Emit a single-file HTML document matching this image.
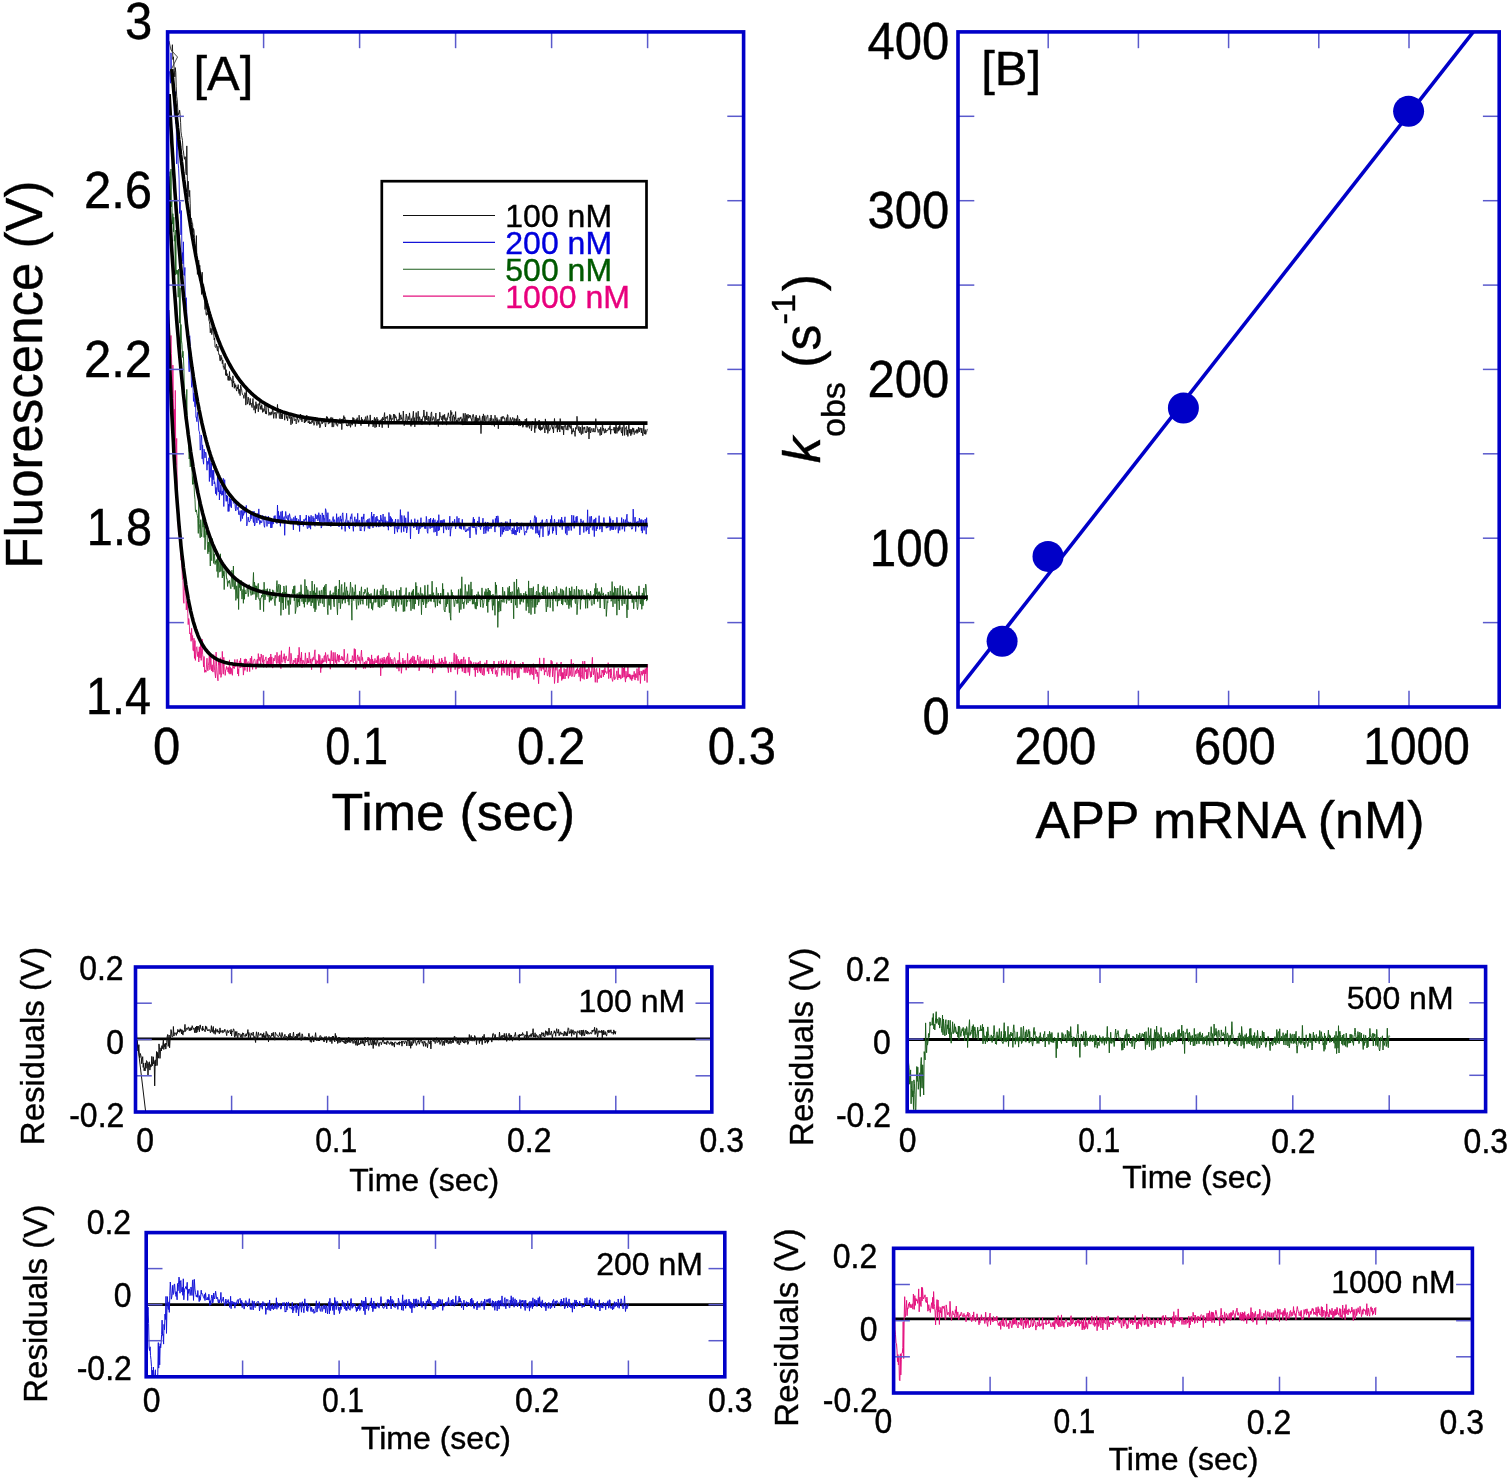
<!DOCTYPE html><html><head><meta charset="utf-8"><title>Figure</title><style>html,body{margin:0;padding:0;background:#fff;}svg{display:block;}</style></head><body><svg width="1509" height="1481" viewBox="0 0 1509 1481" font-family="'Liberation Sans', Arial, sans-serif"><rect width="1509" height="1481" fill="#fff"/><defs><clipPath id="cA"><rect x="167.6" y="31.9" width="576.0" height="675.1"/></clipPath><clipPath id="cB"><rect x="958.0" y="31.9" width="541.2" height="675.1"/></clipPath><clipPath id="cR100"><rect x="135.5" y="967.0" width="576.3" height="145.0"/></clipPath><clipPath id="cR500"><rect x="907.2" y="966.6" width="578.3999999999999" height="144.9999999999999"/></clipPath><clipPath id="cR200"><rect x="146.2" y="1232.6" width="578.5999999999999" height="144.20000000000005"/></clipPath><clipPath id="cR1000"><rect x="893.6" y="1248.3" width="578.8000000000001" height="144.70000000000005"/></clipPath></defs><g clip-path="url(#cA)"><path d="M171.9 51.6l0.5 -6.9l0.5 14.8l0.5 -2.7l0.4 7.0l0.5 6.7l0.5 6.4l0.5 -9.3l0.5 5.1l0.4 13.6l0.5 10.1l0.5 3.4l0.5 8.1l0.5 7.2l0.4 -1.8l0.5 0.3l0.5 -3.4l0.5 4.6l0.5 7.6l0.4 9.4l0.5 3.6l0.5 2.3l0.5 2.8l0.5 9.6l0.4 0.8l0.5 4.5l0.5 3.9l0.5 -2.6l0.5 0.2l0.4 14.9l0.5 3.1l0.5 -29.0l0.5 30.2l0.5 23.7l0.4 -18.6l0.5 8.0l0.5 7.6l0.5 -6.4l0.5 13.4l0.4 16.5l0.5 -2.4l0.5 1.7l0.5 3.5l0.5 0.2l0.4 9.9l0.5 -4.7l0.5 1.7l0.5 7.4l0.5 9.4l0.4 -0.8l0.5 6.0l0.5 -16.6l0.5 27.1l0.5 11.7l0.4 -4.2l0.5 -9.1l0.5 -0.8l0.5 11.4l0.5 -6.3l0.4 15.6l0.5 -6.2l0.5 13.9l0.5 5.8l0.5 -22.3l0.4 19.8l0.5 -4.7l0.5 -2.7l0.5 8.2l0.5 5.2l0.4 11.5l0.5 -16.6l0.5 21.1l0.5 1.3l0.5 -2.8l0.4 1.9l0.5 0.1l0.5 -2.1l0.5 7.8l0.5 1.4l0.4 3.0l0.5 8.2l0.5 -4.6l0.5 0.8l0.5 5.6l0.4 -8.3l0.5 2.4l0.5 4.3l0.5 0.7l0.5 6.2l0.4 -1.9l0.5 8.7l0.5 0.8l0.5 -1.1l0.5 -2.4l0.4 4.9l0.5 2.2l0.5 -5.0l0.5 6.3l0.5 2.6l0.4 -0.3l0.5 6.0l0.5 0.1l0.5 -5.7l0.5 4.5l0.4 -2.0l0.5 6.1l0.5 -3.8l0.5 7.3l0.5 -0.7l0.4 3.0l0.5 -2.7l0.5 -3.5l0.5 12.0l0.5 -5.6l0.4 6.2l0.5 -2.3l0.5 1.8l0.5 4.9l0.5 -4.3l0.4 4.5l0.5 -9.0l0.5 8.9l0.5 -3.0l0.5 1.2l0.4 1.3l0.5 1.9l0.5 5.3l0.5 -11.3l0.5 7.2l0.4 -1.9l0.5 7.2l0.5 -4.8l0.5 3.7l0.5 -2.3l0.4 4.3l0.5 1.9l0.5 -4.2l0.5 2.1l0.5 -4.4l0.4 6.5l0.5 2.5l0.5 -4.3l0.5 6.3l0.5 -10.4l0.4 1.3l0.5 2.1l0.5 3.7l0.5 2.2l0.5 0.2l0.4 0.5l0.5 3.2l0.5 -3.6l0.5 -2.2l0.5 0.5l0.4 12.0l0.5 -14.9l0.5 7.9l0.5 6.1l0.5 -3.0l0.4 -4.1l0.5 3.3l0.5 3.3l0.5 1.5l0.5 -6.8l0.4 6.0l0.5 -1.4l0.5 3.3l0.5 1.3l0.5 -5.6l0.4 -3.5l0.5 6.6l0.5 5.1l0.5 -3.5l0.5 -1.2l0.4 7.7l0.5 -11.5l0.5 6.9l0.5 -4.8l0.5 2.4l0.4 0.4l0.5 5.2l0.5 -8.2l0.5 1.7l0.5 -3.4l0.4 7.4l0.5 -3.0l0.5 3.2l0.5 -4.8l0.5 2.7l0.4 5.0l0.5 -3.9l0.5 3.0l0.5 -0.1l0.5 -2.8l0.4 -3.9l0.5 9.0l0.5 -2.6l0.5 3.0l0.5 -10.0l0.4 1.4l0.5 -1.5l0.5 4.6l0.5 6.8l0.5 -1.4l0.4 -1.9l0.5 0.8l0.5 2.3l0.5 -3.4l0.5 2.6l0.4 -0.7l0.5 -7.8l0.5 6.3l0.5 6.2l0.5 -5.8l0.4 1.0l0.5 -1.4l0.5 0.6l0.5 5.6l0.5 -4.6l0.4 -2.4l0.5 -7.0l0.5 8.9l0.5 -4.7l0.5 0.7l0.4 9.1l0.5 -0.1l0.5 -8.9l0.5 9.6l0.5 -1.2l0.4 -4.1l0.5 5.3l0.5 -7.9l0.5 1.6l0.5 -0.7l0.4 1.2l0.5 7.0l0.5 -7.5l0.5 0.8l0.5 0.8l0.4 4.0l0.5 -1.7l0.5 4.2l0.5 -5.3l0.5 -1.8l0.4 2.8l0.5 1.9l0.5 -3.2l0.5 4.2l0.5 5.4l0.4 -8.1l0.5 2.2l0.5 4.6l0.5 -6.8l0.5 -0.6l0.4 -0.8l0.5 5.2l0.5 0.5l0.5 -2.2l0.5 0.8l0.4 4.3l0.5 -1.4l0.5 -7.7l0.5 4.9l0.5 0.5l0.4 2.1l0.5 -3.1l0.5 -1.4l0.5 0.7l0.5 -4.5l0.4 6.1l0.5 -1.9l0.5 3.7l0.5 -5.0l0.5 2.0l0.4 -1.8l0.5 -0.2l0.5 6.1l0.5 -3.9l0.5 3.1l0.4 -5.3l0.5 4.3l0.5 -6.1l0.5 4.2l0.5 -0.0l0.4 3.7l0.5 -1.3l0.5 -1.2l0.5 3.5l0.5 -2.1l0.4 1.2l0.5 0.8l0.5 -2.8l0.5 -0.7l0.5 2.1l0.4 -2.5l0.5 2.8l0.5 2.5l0.5 -0.8l0.5 -4.2l0.4 -3.1l0.5 4.3l0.5 -0.2l0.5 4.2l0.5 -5.1l0.4 0.7l0.5 3.2l0.5 -4.1l0.5 1.1l0.5 6.5l0.4 -0.8l0.5 -2.9l0.5 -1.2l0.5 -4.2l0.5 5.2l0.4 -1.7l0.5 0.6l0.5 -2.5l0.5 1.7l0.5 -0.5l0.4 1.7l0.5 3.8l0.5 -3.6l0.5 -6.9l0.5 2.3l0.4 -2.0l0.5 2.7l0.5 4.6l0.5 -0.5l0.5 -3.4l0.4 2.9l0.5 -3.5l0.5 -2.2l0.5 0.0l0.5 1.9l0.4 7.8l0.5 -9.4l0.5 8.8l0.5 0.3l0.5 -5.1l0.4 0.4l0.5 -1.9l0.5 2.0l0.5 2.3l0.5 -2.2l0.4 3.4l0.5 0.6l0.5 -2.8l0.5 -0.1l0.5 -1.3l0.4 1.4l0.5 -5.0l0.5 5.2l0.5 -0.7l0.5 -3.7l0.4 10.3l0.5 -10.7l0.5 0.4l0.5 3.9l0.5 -7.6l0.4 3.9l0.5 -2.5l0.5 1.9l0.5 2.9l0.5 1.5l0.4 2.7l0.5 -1.1l0.5 1.3l0.5 -2.0l0.5 -3.7l0.4 5.4l0.5 -5.4l0.5 -0.5l0.5 7.3l0.5 -2.5l0.4 -2.0l0.5 1.8l0.5 0.4l0.5 -7.6l0.5 4.3l0.4 -3.7l0.5 4.4l0.5 -2.7l0.5 6.9l0.5 -2.9l0.4 -4.6l0.5 2.7l0.5 -4.1l0.5 4.3l0.5 1.7l0.4 -1.0l0.5 -7.5l0.5 5.4l0.5 2.9l0.5 -0.7l0.4 2.9l0.5 -8.4l0.5 6.1l0.5 -4.0l0.5 2.9l0.4 0.7l0.5 0.9l0.5 -4.4l0.5 2.6l0.5 -4.7l0.4 -0.8l0.5 6.7l0.5 -2.2l0.5 -5.4l0.5 2.6l0.4 3.0l0.5 5.2l0.5 -1.8l0.5 -0.9l0.5 -8.9l0.4 5.8l0.5 1.9l0.5 -0.3l0.5 0.0l0.5 -2.2l0.4 6.7l0.5 -1.0l0.5 -5.4l0.5 -3.1l0.5 10.4l0.4 -9.0l0.5 6.0l0.5 2.4l0.5 -9.9l0.5 4.2l0.4 -2.2l0.5 2.9l0.5 -0.7l0.5 5.5l0.5 -4.7l0.4 -2.1l0.5 3.9l0.5 -4.8l0.5 -0.4l0.5 8.9l0.4 -10.5l0.5 1.1l0.5 1.7l0.5 -3.8l0.5 -3.6l0.4 10.8l0.5 -6.4l0.5 0.8l0.5 0.6l0.5 -2.1l0.4 -0.4l0.5 4.2l0.5 7.6l0.5 -5.7l0.5 0.0l0.4 -7.7l0.5 5.0l0.5 -4.0l0.5 6.7l0.5 -3.5l0.4 0.9l0.5 -0.4l0.5 -1.7l0.5 -3.3l0.5 7.2l0.4 -6.7l0.5 0.6l0.5 3.0l0.5 -1.4l0.5 3.3l0.4 2.6l0.5 -2.6l0.5 -0.2l0.5 -0.6l0.5 2.8l0.4 -9.2l0.5 7.5l0.5 -4.4l0.5 -1.1l0.5 4.3l0.4 -1.4l0.5 3.3l0.5 1.8l0.5 -11.8l0.5 7.8l0.4 6.9l0.5 -3.7l0.5 1.9l0.5 -4.6l0.5 -5.3l0.4 1.1l0.5 6.3l0.5 0.8l0.5 -5.8l0.5 1.6l0.4 1.8l0.5 -6.9l0.5 4.8l0.5 6.7l0.5 2.0l0.4 -7.9l0.5 6.7l0.5 -8.1l0.5 -1.0l0.5 -4.9l0.4 10.9l0.5 -4.5l0.5 9.3l0.5 -6.9l0.5 -0.5l0.4 -6.9l0.5 11.4l0.5 -6.4l0.5 0.6l0.5 -7.0l0.4 10.8l0.5 0.2l0.5 -5.5l0.5 2.4l0.5 1.0l0.4 2.0l0.5 -3.0l0.5 5.5l0.5 -6.7l0.5 -1.2l0.4 0.4l0.5 -7.1l0.5 5.9l0.5 6.3l0.5 -2.6l0.4 -3.7l0.5 4.0l0.5 -8.1l0.5 5.9l0.5 2.8l0.4 0.6l0.5 -5.1l0.5 5.8l0.5 3.3l0.5 -7.9l0.4 4.0l0.5 -7.9l0.5 -1.4l0.5 8.8l0.5 -1.9l0.4 0.5l0.5 -2.7l0.5 1.0l0.5 3.8l0.5 3.1l0.4 -6.6l0.5 -4.9l0.5 10.0l0.5 -2.3l0.5 0.2l0.4 -1.7l0.5 7.4l0.5 -7.7l0.5 1.5l0.5 -8.2l0.4 4.4l0.5 -0.4l0.5 2.3l0.5 1.3l0.5 -3.8l0.4 8.5l0.5 -9.6l0.5 2.1l0.5 2.4l0.5 -5.1l0.4 6.2l0.5 0.2l0.5 -3.1l0.5 7.5l0.5 -6.3l0.4 0.7l0.5 -4.2l0.5 -2.5l0.5 3.6l0.5 1.0l0.4 -0.4l0.5 4.2l0.5 -10.8l0.5 4.3l0.5 -2.4l0.4 10.8l0.5 -6.5l0.5 0.2l0.5 -2.0l0.5 6.8l0.4 -4.5l0.5 2.2l0.5 -7.7l0.5 11.0l0.5 -2.7l0.4 0.5l0.5 2.4l0.5 -4.9l0.5 0.1l0.5 3.0l0.4 -1.0l0.5 -2.3l0.5 1.0l0.5 -1.8l0.5 4.2l0.4 0.7l0.5 -3.1l0.5 6.4l0.5 -11.7l0.5 4.5l0.4 6.7l0.5 -7.3l0.5 -4.1l0.5 10.3l0.5 -2.9l0.4 -5.9l0.5 6.7l0.5 -6.1l0.5 -1.1l0.5 4.1l0.4 -1.1l0.5 -2.1l0.5 2.5l0.5 -2.1l0.5 3.6l0.4 -0.2l0.5 2.6l0.5 -4.1l0.5 -2.9l0.5 0.0l0.4 3.7l0.5 6.2l0.5 -2.4l0.5 -5.1l0.5 5.5l0.4 -7.2l0.5 7.5l0.5 -4.8l0.5 4.0l0.5 -0.5l0.4 -3.0l0.5 2.1l0.5 -4.8l0.5 3.5l0.5 4.0l0.4 10.4l0.5 -11.7l0.5 -2.1l0.5 -3.7l0.5 7.1l0.4 -9.3l0.5 3.0l0.5 4.0l0.5 -5.3l0.5 9.4l0.4 -1.5l0.5 -5.7l0.5 0.1l0.5 -2.6l0.5 -0.2l0.4 6.3l0.5 0.7l0.5 -0.9l0.5 -0.3l0.5 -2.8l0.4 3.2l0.5 -6.3l0.5 5.2l0.5 5.0l0.5 -0.5l0.4 -6.1l0.5 0.5l0.5 5.9l0.5 1.5l0.5 -11.3l0.4 3.7l0.5 2.3l0.5 3.4l0.5 -7.0l0.5 5.1l0.4 -3.2l0.5 9.3l0.5 -6.7l0.5 -1.9l0.5 -0.6l0.4 4.8l0.5 -1.2l0.5 -6.1l0.5 4.6l0.5 -5.3l0.4 2.0l0.5 -1.8l0.5 -0.0l0.5 2.2l0.5 -1.0l0.4 5.3l0.5 1.0l0.5 -3.5l0.5 -3.0l0.5 6.7l0.4 -9.7l0.5 0.4l0.5 9.2l0.5 -0.2l0.5 1.1l0.4 -4.0l0.5 -3.6l0.5 2.7l0.5 3.8l0.5 -4.6l0.4 0.3l0.5 -2.3l0.5 0.8l0.5 7.0l0.5 -1.3l0.4 -5.5l0.5 0.4l0.5 1.8l0.5 3.9l0.5 -5.9l0.4 3.5l0.5 -6.7l0.5 3.1l0.5 5.9l0.5 1.7l0.4 -7.1l0.5 1.4l0.5 5.5l0.5 -4.0l0.5 -0.5l0.4 3.7l0.5 -1.0l0.5 3.2l0.5 -1.1l0.5 -4.6l0.4 1.6l0.5 0.3l0.5 -4.4l0.5 1.3l0.5 6.8l0.4 -8.8l0.5 9.0l0.5 -2.4l0.5 -1.4l0.5 2.4l0.4 -0.2l0.5 2.6l0.5 -5.5l0.5 0.6l0.5 0.0l0.4 7.4l0.5 -3.2l0.5 -6.3l0.5 2.0l0.5 -1.2l0.4 2.5l0.5 0.8l0.5 7.2l0.5 -14.2l0.5 9.9l0.4 -2.0l0.5 -3.9l0.5 2.0l0.5 -1.1l0.5 1.9l0.4 3.3l0.5 -8.6l0.5 9.8l0.5 -5.8l0.5 6.5l0.4 -3.7l0.5 2.9l0.5 -2.3l0.5 1.9l0.5 -3.5l0.4 -3.0l0.5 5.2l0.5 0.2l0.5 4.8l0.5 -14.1l0.4 6.3l0.5 4.4l0.5 -7.9l0.5 3.5l0.5 8.2l0.4 -2.4l0.5 -7.9l0.5 8.0l0.5 -0.8l0.5 -1.3l0.4 -1.3l0.5 -0.5l0.5 -3.7l0.5 1.2l0.5 4.4l0.4 -2.0l0.5 5.9l0.5 -7.5l0.5 -7.0l0.5 7.1l0.4 2.2l0.5 0.4l0.5 -1.1l0.5 -3.0l0.5 8.0l0.4 -7.4l0.5 4.8l0.5 -3.4l0.5 -3.1l0.5 9.0l0.4 -13.4l0.5 5.7l0.5 4.5l0.5 -2.7l0.5 3.8l0.4 -2.8l0.5 -1.2l0.5 9.0l0.5 -8.1l0.5 0.2l0.4 -3.1l0.5 1.2l0.5 4.8l0.5 -0.3l0.5 -1.9l0.4 -2.3l0.5 4.8l0.5 -8.2l0.5 4.7l0.5 0.3l0.4 -2.0l0.5 3.5l0.5 -2.8l0.5 -0.4l0.5 8.9l0.4 -3.6l0.5 1.6l0.5 -3.9l0.5 3.2l0.5 -0.6l0.4 1.5l0.5 4.0l0.5 -8.9l0.5 1.7l0.5 -1.0l0.4 -11.9l0.5 7.3l0.5 4.9l0.5 2.1l0.5 -4.1l0.4 5.9l0.5 0.5l0.5 -5.8l0.5 6.4l0.5 1.1l0.4 -4.4l0.5 -4.9l0.5 8.4l0.5 -5.5l0.5 -0.8l0.4 1.8l0.5 -2.3l0.5 5.6l0.5 -1.0l0.5 1.5l0.4 -2.1l0.5 -4.7l0.5 2.2l0.5 3.6l0.5 -4.4l0.4 11.4l0.5 -10.8l0.5 -1.2l0.5 6.0l0.5 -1.4l0.4 -2.6l0.5 -0.7l0.5 2.3l0.5 1.4l0.5 -0.2l0.4 -3.6l0.5 2.5l0.5 1.4l0.5 -0.2l0.5 -13.2l0.4 7.5l0.5 0.5l0.5 1.8l0.5 1.5l0.5 2.5l0.4 -1.0l0.5 -2.5l0.5 0.5l0.5 6.0l0.5 -8.1l0.4 3.1l0.5 4.4l0.5 -4.2l0.5 -8.2l0.5 8.3l0.4 -2.6l0.5 1.0l0.5 4.0l0.5 -2.0l0.5 -2.5l0.4 4.0l0.5 -1.6l0.5 -1.1l0.5 0.7l0.5 -0.1l0.4 -2.0l0.5 -0.4l0.5 1.6l0.5 -3.3l0.5 -1.0l0.4 8.7l0.5 -5.2l0.5 0.7l0.5 -0.3l0.5 0.5l0.4 0.0l0.5 0.2l0.5 -3.0l0.5 6.0l0.5 -5.6l0.4 6.0l0.5 -10.1l0.5 2.9l0.5 7.1l0.5 -3.9l0.4 -1.8l0.5 3.6l0.5 -4.9l0.5 3.9l0.5 -7.9l0.4 6.1l0.5 -0.7l0.5 4.1l0.5 1.2l0.5 -5.9l0.4 8.4l0.5 -7.5l0.5 -5.0l0.5 -1.1l0.5 13.4l0.4 -5.5l0.5 -1.9l0.5 -0.4l0.5 -1.1l0.5 8.4l0.4 -5.0l0.5 6.5l0.5 -6.8l0.5 -7.4l0.5 11.0l0.4 -4.2l0.5 0.5l0.5 6.2l0.5 -6.3l0.5 4.9l0.4 -4.0l0.5 -2.5l0.5 4.3l0.5 -3.8l0.5 6.3l0.4 -0.9l0.5 -3.1l0.5 1.9l0.5 -0.2l0.5 -2.8l0.4 4.0l0.5 -3.8l0.5 2.9l0.5 -5.4l0.5 3.6l0.4 1.1l0.5 -4.1l0.5 1.3l0.5 -0.4l0.5 4.3l0.4 -4.9l0.5 3.9l0.5 3.8l0.5 -4.0l0.5 -6.8l0.4 6.0l0.5 3.1l0.5 -4.5l0.5 4.8l0.5 -1.7l0.4 -0.7l0.5 -2.3l0.5 -0.8" fill="none" stroke="#111111" stroke-width="0.9" stroke-linejoin="bevel"/><path d="M169.5 71.3l0.5 6.0l0.5 5.9l0.5 -30.4l0.4 16.0l0.5 2.4l0.5 12.6l0.5 2.7l0.5 5.1l0.4 -4.4l0.5 29.8l0.5 -0.8l0.5 -24.7l0.5 32.1l0.4 -11.6l0.5 51.9l0.5 -26.1l0.5 9.5l0.5 16.5l0.4 4.4l0.5 10.9l0.5 34.3l0.5 -11.6l0.5 19.1l0.4 14.0l0.5 -24.3l0.5 50.4l0.5 -8.4l0.5 11.3l0.4 -22.1l0.5 33.2l0.5 0.4l0.5 -7.9l0.5 52.5l0.4 -18.5l0.5 -3.8l0.5 15.8l0.5 20.0l0.5 11.4l0.4 -1.3l0.5 17.2l0.5 11.0l0.5 -36.2l0.5 17.8l0.4 -1.8l0.5 20.3l0.5 15.4l0.5 -1.7l0.5 -9.0l0.4 10.2l0.5 14.6l0.5 -8.4l0.5 7.2l0.5 6.7l0.4 -13.4l0.5 23.9l0.5 -0.4l0.5 4.7l0.5 -9.4l0.4 4.5l0.5 4.1l0.5 9.4l0.5 1.2l0.5 3.0l0.4 15.6l0.5 -1.4l0.5 -13.7l0.5 2.8l0.5 21.0l0.4 -13.9l0.5 15.5l0.5 3.8l0.5 -15.0l0.5 4.1l0.4 4.6l0.5 -5.8l0.5 0.7l0.5 6.1l0.5 11.3l0.4 -8.9l0.5 3.2l0.5 -0.8l0.5 -5.9l0.5 23.7l0.4 -29.1l0.5 14.4l0.5 10.6l0.5 -14.4l0.5 16.8l0.4 6.1l0.5 -15.7l0.5 9.5l0.5 -9.5l0.5 13.8l0.4 -2.3l0.5 1.9l0.5 10.1l0.5 -6.2l0.5 7.8l0.4 -4.8l0.5 -13.7l0.5 12.4l0.5 2.6l0.5 -14.5l0.4 22.7l0.5 -9.3l0.5 3.2l0.5 -9.3l0.5 8.3l0.4 2.5l0.5 -4.3l0.5 3.9l0.5 -16.7l0.5 28.2l0.4 -19.0l0.5 -7.8l0.5 10.3l0.5 4.2l0.5 7.1l0.4 -6.3l0.5 6.2l0.5 -5.3l0.5 15.6l0.5 -7.4l0.4 7.3l0.5 -13.6l0.5 8.5l0.5 -7.2l0.5 7.8l0.4 0.9l0.5 -10.3l0.5 2.6l0.5 0.3l0.5 -1.1l0.4 4.1l0.5 -0.7l0.5 -1.9l0.5 7.7l0.5 2.5l0.4 -8.4l0.5 4.0l0.5 3.0l0.5 -0.8l0.5 -1.9l0.4 7.5l0.5 0.6l0.5 -0.5l0.5 -3.9l0.5 10.7l0.4 -0.9l0.5 -9.9l0.5 1.7l0.5 6.4l0.5 -9.1l0.4 5.9l0.5 -1.4l0.5 -3.3l0.5 2.4l0.5 -6.1l0.4 5.1l0.5 -6.7l0.5 20.5l0.5 -3.4l0.5 -1.2l0.4 -4.2l0.5 3.5l0.5 1.5l0.5 -1.0l0.5 -0.3l0.4 -8.5l0.5 6.5l0.5 -4.4l0.5 -2.9l0.5 0.3l0.4 7.6l0.5 3.1l0.5 -11.4l0.5 14.9l0.5 -1.1l0.4 -8.7l0.5 -0.3l0.5 2.0l0.5 5.1l0.5 -6.4l0.4 -3.3l0.5 7.0l0.5 -11.4l0.5 10.6l0.5 4.9l0.4 -4.0l0.5 2.4l0.5 -1.3l0.5 1.2l0.5 -2.7l0.4 -4.6l0.5 3.0l0.5 0.7l0.5 6.4l0.5 1.8l0.4 -5.7l0.5 -5.5l0.5 0.1l0.5 2.6l0.5 7.6l0.4 -5.0l0.5 -1.9l0.5 -3.3l0.5 7.8l0.5 -2.8l0.4 -1.6l0.5 0.7l0.5 7.6l0.5 -8.8l0.5 8.8l0.4 -2.1l0.5 -5.7l0.5 4.0l0.5 -4.8l0.5 -3.4l0.4 2.7l0.5 -3.1l0.5 6.8l0.5 -2.4l0.5 2.6l0.4 1.2l0.5 -18.7l0.5 16.3l0.5 -10.0l0.5 9.3l0.4 -4.9l0.5 4.6l0.5 6.0l0.5 -14.6l0.5 9.1l0.4 -1.3l0.5 -8.6l0.5 12.1l0.5 -2.9l0.5 -2.6l0.4 -0.9l0.5 18.7l0.5 -17.1l0.5 -6.7l0.5 4.1l0.4 2.7l0.5 -0.0l0.5 1.4l0.5 -4.5l0.5 7.5l0.4 -4.8l0.5 -4.2l0.5 2.6l0.5 2.1l0.5 5.8l0.4 -1.7l0.5 -3.9l0.5 1.7l0.5 1.0l0.5 8.6l0.4 -12.6l0.5 5.2l0.5 1.2l0.5 -7.9l0.5 5.4l0.4 -0.1l0.5 -3.0l0.5 4.9l0.5 2.2l0.5 0.5l0.4 -6.3l0.5 1.8l0.5 10.3l0.5 -16.4l0.5 6.3l0.4 3.2l0.5 -3.5l0.5 2.4l0.5 -2.3l0.5 2.7l0.4 2.5l0.5 -7.1l0.5 2.0l0.5 -1.2l0.5 -1.6l0.4 1.8l0.5 -5.3l0.5 8.9l0.5 4.6l0.5 -0.0l0.4 -2.1l0.5 -10.6l0.5 11.8l0.5 -10.6l0.5 3.2l0.4 9.0l0.5 -13.9l0.5 9.1l0.5 -2.6l0.5 -2.1l0.4 -3.4l0.5 6.1l0.5 -4.2l0.5 7.2l0.5 0.9l0.4 -12.4l0.5 4.2l0.5 0.9l0.5 -4.1l0.5 0.3l0.4 5.7l0.5 -1.4l0.5 -6.8l0.5 5.3l0.5 5.0l0.4 -8.2l0.5 1.4l0.5 11.9l0.5 -1.3l0.5 -13.9l0.4 1.3l0.5 8.2l0.5 -7.4l0.5 4.4l0.5 -0.9l0.4 4.8l0.5 -14.6l0.5 1.5l0.5 4.7l0.5 10.6l0.4 -5.5l0.5 -7.3l0.5 10.4l0.5 1.1l0.5 -4.5l0.4 -0.4l0.5 3.6l0.5 3.7l0.5 -5.0l0.5 1.9l0.4 -2.8l0.5 -1.5l0.5 -2.6l0.5 5.6l0.5 -2.6l0.4 0.3l0.5 5.6l0.5 -2.1l0.5 1.9l0.5 -11.6l0.4 10.1l0.5 -5.4l0.5 -1.0l0.5 -0.2l0.5 9.8l0.4 -1.8l0.5 -7.3l0.5 -2.0l0.5 5.5l0.5 -2.2l0.4 10.1l0.5 -14.8l0.5 -1.7l0.5 7.5l0.5 1.3l0.4 0.6l0.5 2.9l0.5 6.3l0.5 -11.4l0.5 -1.0l0.4 -5.7l0.5 9.5l0.5 3.0l0.5 -5.3l0.5 6.9l0.4 -5.5l0.5 7.1l0.5 -5.6l0.5 -6.6l0.5 2.1l0.4 -4.3l0.5 -0.9l0.5 9.5l0.5 2.9l0.5 5.2l0.4 -9.5l0.5 -0.9l0.5 -4.1l0.5 10.0l0.5 -2.9l0.4 -4.6l0.5 6.1l0.5 -0.6l0.5 -11.5l0.5 12.4l0.4 -2.8l0.5 -2.5l0.5 -0.1l0.5 10.3l0.5 -1.0l0.4 1.4l0.5 -14.1l0.5 2.3l0.5 7.5l0.5 -10.0l0.4 2.3l0.5 -5.1l0.5 17.3l0.5 -3.7l0.5 -2.8l0.4 -1.2l0.5 -3.0l0.5 0.2l0.5 4.8l0.5 -6.3l0.4 9.2l0.5 -8.1l0.5 -1.8l0.5 10.3l0.5 -6.8l0.4 3.3l0.5 -4.6l0.5 -8.7l0.5 13.3l0.5 -8.9l0.4 11.5l0.5 -12.5l0.5 -1.4l0.5 10.3l0.5 0.6l0.4 -1.5l0.5 -6.3l0.5 10.0l0.5 -11.1l0.5 4.7l0.4 -1.5l0.5 2.0l0.5 5.9l0.5 -7.1l0.5 5.7l0.4 0.7l0.5 -11.4l0.5 2.6l0.5 3.7l0.5 -1.0l0.4 4.3l0.5 -10.6l0.5 12.6l0.5 0.1l0.5 -4.3l0.4 -5.7l0.5 6.6l0.5 -2.6l0.5 5.3l0.5 -3.1l0.4 3.9l0.5 -5.5l0.5 8.9l0.5 -17.7l0.5 6.1l0.4 7.2l0.5 -9.5l0.5 10.7l0.5 -9.3l0.5 6.2l0.4 -4.7l0.5 2.2l0.5 3.0l0.5 -1.3l0.5 -1.3l0.4 12.0l0.5 -10.1l0.5 -4.7l0.5 9.1l0.5 -0.5l0.4 1.9l0.5 2.7l0.5 -12.9l0.5 9.5l0.5 0.4l0.4 -5.4l0.5 1.2l0.5 -15.4l0.5 11.5l0.5 11.3l0.4 -17.0l0.5 6.0l0.5 3.9l0.5 1.4l0.5 5.0l0.4 -16.1l0.5 8.6l0.5 3.9l0.5 -10.3l0.5 6.1l0.4 9.1l0.5 -2.7l0.5 -3.6l0.5 -15.0l0.5 11.8l0.4 2.5l0.5 -3.3l0.5 1.2l0.5 14.9l0.5 -15.6l0.4 -3.6l0.5 5.8l0.5 -2.6l0.5 0.0l0.5 1.1l0.4 4.1l0.5 -2.5l0.5 -6.8l0.5 5.1l0.5 2.9l0.4 -4.5l0.5 7.7l0.5 -1.7l0.5 -8.4l0.5 6.2l0.4 7.9l0.5 -2.0l0.5 -7.6l0.5 4.5l0.5 -7.4l0.4 -3.7l0.5 9.6l0.5 -1.5l0.5 1.3l0.5 -2.5l0.4 1.7l0.5 -4.0l0.5 4.7l0.5 1.7l0.5 -4.2l0.4 4.2l0.5 -12.3l0.5 4.7l0.5 10.6l0.5 1.6l0.4 -7.2l0.5 -1.6l0.5 -5.5l0.5 7.7l0.5 2.0l0.4 -10.7l0.5 9.7l0.5 -0.3l0.5 -0.2l0.5 -7.4l0.4 7.9l0.5 -9.6l0.5 14.2l0.5 -6.4l0.5 -6.2l0.4 12.0l0.5 -0.9l0.5 -8.6l0.5 13.6l0.5 -15.2l0.4 6.3l0.5 4.1l0.5 -16.3l0.5 15.5l0.5 -5.0l0.4 0.2l0.5 -5.0l0.5 6.7l0.5 -6.8l0.5 0.7l0.4 2.5l0.5 -3.7l0.5 13.3l0.5 -13.7l0.5 2.7l0.4 2.1l0.5 1.6l0.5 3.7l0.5 0.2l0.5 -5.3l0.4 -0.4l0.5 2.0l0.5 3.8l0.5 -0.6l0.5 -5.7l0.4 -7.3l0.5 20.0l0.5 -5.7l0.5 -3.2l0.5 0.4l0.4 -4.1l0.5 -2.3l0.5 3.2l0.5 0.6l0.5 -1.9l0.4 -4.0l0.5 5.5l0.5 4.2l0.5 -5.0l0.5 2.4l0.4 -9.9l0.5 8.9l0.5 0.4l0.5 -5.2l0.5 -2.4l0.4 10.2l0.5 -5.8l0.5 6.2l0.5 -4.3l0.5 4.9l0.4 -4.5l0.5 -5.5l0.5 6.7l0.5 -1.1l0.5 4.7l0.4 -5.3l0.5 0.3l0.5 6.0l0.5 1.4l0.5 -1.9l0.4 1.3l0.5 -2.7l0.5 1.5l0.5 0.5l0.5 -2.3l0.4 -1.6l0.5 0.4l0.5 10.8l0.5 -11.4l0.5 -1.2l0.4 -0.6l0.5 1.6l0.5 1.3l0.5 -6.5l0.5 -4.0l0.4 10.8l0.5 -9.0l0.5 8.8l0.5 -0.6l0.5 4.9l0.4 2.4l0.5 -6.2l0.5 -4.4l0.5 -2.9l0.5 1.8l0.4 4.0l0.5 -10.0l0.5 10.1l0.5 -0.4l0.5 3.1l0.4 -4.6l0.5 2.1l0.5 -4.0l0.5 1.3l0.5 -6.2l0.4 9.0l0.5 6.7l0.5 -6.6l0.5 1.0l0.5 -6.4l0.4 11.5l0.5 -10.5l0.5 7.5l0.5 -3.3l0.5 -5.1l0.4 9.4l0.5 -4.8l0.5 0.8l0.5 1.3l0.5 -2.3l0.4 -1.7l0.5 4.0l0.5 -4.1l0.5 2.2l0.5 -3.4l0.4 -3.9l0.5 3.8l0.5 0.9l0.5 2.4l0.5 5.5l0.4 -13.6l0.5 8.6l0.5 -11.1l0.5 5.5l0.5 2.6l0.4 -8.3l0.5 1.9l0.5 9.5l0.5 -0.3l0.5 -1.0l0.4 -3.2l0.5 14.0l0.5 -11.0l0.5 -3.3l0.5 12.0l0.4 -5.0l0.5 -4.7l0.5 7.4l0.5 -4.9l0.5 2.3l0.4 -1.9l0.5 -6.0l0.5 9.4l0.5 -3.8l0.5 -5.6l0.4 1.2l0.5 8.2l0.5 -6.3l0.5 1.9l0.5 2.9l0.4 -2.5l0.5 -7.9l0.5 10.3l0.5 1.4l0.5 -0.3l0.4 3.6l0.5 -6.0l0.5 2.0l0.5 3.8l0.5 -8.9l0.4 9.6l0.5 -0.0l0.5 -4.5l0.5 5.0l0.5 -4.7l0.4 -8.3l0.5 9.6l0.5 -3.8l0.5 0.4l0.5 -1.3l0.4 5.8l0.5 -3.9l0.5 -5.9l0.5 5.6l0.5 1.1l0.4 -6.9l0.5 1.4l0.5 0.2l0.5 -1.0l0.5 4.5l0.4 3.2l0.5 4.1l0.5 -3.3l0.5 -0.8l0.5 0.6l0.4 0.9l0.5 -8.2l0.5 5.1l0.5 -1.8l0.5 -2.1l0.4 -1.6l0.5 -0.2l0.5 1.1l0.5 -4.6l0.5 8.4l0.4 -2.6l0.5 0.6l0.5 1.1l0.5 1.8l0.5 -6.3l0.4 2.3l0.5 -7.1l0.5 -2.9l0.5 1.3l0.5 16.5l0.4 -16.0l0.5 10.9l0.5 4.8l0.5 -9.2l0.5 9.9l0.4 1.0l0.5 -4.3l0.5 6.8l0.5 -8.3l0.5 -6.5l0.4 6.0l0.5 -4.6l0.5 -4.1l0.5 0.1l0.5 17.0l0.4 -13.5l0.5 2.4l0.5 -3.0l0.5 3.8l0.5 -1.8l0.4 -0.9l0.5 -3.8l0.5 -1.0l0.5 3.2l0.5 4.9l0.4 8.5l0.5 -4.9l0.5 3.6l0.5 -6.3l0.5 -2.8l0.4 -5.9l0.5 6.3l0.5 -10.2l0.5 8.8l0.5 9.1l0.4 -6.2l0.5 3.8l0.5 -7.2l0.5 -4.7l0.5 4.2l0.4 0.4l0.5 7.6l0.5 3.6l0.5 -12.9l0.5 1.8l0.4 1.0l0.5 -1.0l0.5 -4.3l0.5 6.4l0.5 1.2l0.4 0.1l0.5 -7.6l0.5 5.2l0.5 -7.7l0.5 12.5l0.4 -9.1l0.5 3.5l0.5 -0.9l0.5 -0.6l0.5 -2.3l0.4 -3.4l0.5 16.6l0.5 -7.0l0.5 0.0l0.5 8.7l0.4 -10.5l0.5 3.1l0.5 -2.5l0.5 5.5l0.5 -3.3l0.4 -0.9l0.5 -2.7l0.5 2.5l0.5 4.2l0.5 -15.4l0.4 9.2l0.5 -1.3l0.5 0.5l0.5 -8.0l0.5 12.9l0.4 -7.5l0.5 2.9l0.5 -1.3l0.5 -5.6l0.5 5.8l0.4 -6.6l0.5 4.2l0.5 3.0l0.5 1.5l0.5 0.2l0.4 -0.9l0.5 10.8l0.5 -8.1l0.5 -7.9l0.5 2.9l0.4 -0.2l0.5 2.3l0.5 -2.1l0.5 -1.2l0.5 11.9l0.4 -7.6l0.5 -1.8l0.5 0.4l0.5 0.1l0.5 7.7l0.4 -4.4l0.5 3.1l0.5 -20.2l0.5 16.4l0.5 3.5l0.4 4.3l0.5 -9.2l0.5 -8.3l0.5 10.9l0.5 -5.6l0.4 -5.7l0.5 5.6l0.5 7.9l0.5 0.7l0.5 -2.2l0.4 -8.4l0.5 16.9l0.5 -17.5l0.5 5.2l0.5 -6.5l0.4 13.1l0.5 -4.1l0.5 2.1l0.5 -3.8l0.5 -0.8l0.4 1.2l0.5 -9.8l0.5 13.7l0.5 -0.4l0.5 -6.2l0.4 1.8l0.5 1.5l0.5 6.0l0.5 -5.4l0.5 -1.8l0.4 -2.7l0.5 -4.7l0.5 4.3l0.5 3.2l0.5 -1.5l0.4 1.5l0.5 3.2l0.5 -1.5l0.5 -0.7l0.5 1.8l0.4 -2.2l0.5 -1.1l0.5 2.4l0.5 -10.4l0.5 14.1l0.4 -12.0l0.5 10.1l0.5 -3.9l0.5 5.2l0.5 -5.1l0.4 -4.7l0.5 9.6l0.5 -4.2l0.5 -0.3l0.5 -0.2l0.4 4.4l0.5 -0.9l0.5 -2.8l0.5 -8.5l0.5 5.5l0.4 2.4l0.5 8.0l0.5 -6.7l0.5 -2.2l0.5 6.1l0.4 -6.2l0.5 0.4l0.5 0.9l0.5 -7.9l0.5 11.7l0.4 -2.6l0.5 -3.3l0.5 -4.1l0.5 6.4l0.5 5.7l0.4 -9.7l0.5 -2.0l0.5 7.0l0.5 -9.5l0.5 -3.0l0.4 8.4l0.5 -1.1l0.5 1.9l0.5 -1.3l0.5 4.2l0.4 -2.6l0.5 -1.8l0.5 0.7l0.5 5.1l0.5 1.6l0.4 -0.3l0.5 -0.9l0.5 -19.0l0.5 10.9l0.5 3.3l0.4 2.4l0.5 -8.6l0.5 14.4l0.5 -5.3l0.5 -4.4l0.4 3.7l0.5 -2.4l0.5 -2.0l0.5 6.1l0.5 -4.6l0.4 -4.5l0.5 3.6l0.5 2.5l0.5 -4.6l0.5 11.1l0.4 -11.1l0.5 13.5l0.5 -4.1l0.5 -8.7l0.5 5.1l0.4 5.0l0.5 -6.5l0.5 -4.8l0.5 6.2l0.5 8.9l0.4 -16.5l0.5 9.7l0.5 -2.6" fill="none" stroke="#1414d8" stroke-width="0.9" stroke-linejoin="bevel"/><path d="M168.1 177.2l0.5 3.0l0.4 24.3l0.5 -5.6l0.5 -27.3l0.5 48.6l0.5 -51.2l0.4 38.0l0.5 -6.0l0.5 23.1l0.5 -10.4l0.5 18.1l0.4 -14.6l0.5 24.0l0.5 -5.7l0.5 39.6l0.5 -45.1l0.4 43.8l0.5 -3.8l0.5 4.5l0.5 -4.3l0.5 27.0l0.4 -28.1l0.5 8.9l0.5 45.1l0.5 -35.3l0.5 61.7l0.4 -25.0l0.5 16.3l0.5 3.5l0.5 13.1l0.5 -6.2l0.4 5.3l0.5 11.6l0.5 29.5l0.5 10.2l0.5 11.6l0.4 -7.8l0.5 -2.1l0.5 -20.1l0.5 41.9l0.5 7.7l0.4 -4.9l0.5 15.7l0.5 9.2l0.5 -5.1l0.5 12.9l0.4 -1.6l0.5 -12.8l0.5 15.1l0.5 4.8l0.5 12.1l0.4 -7.8l0.5 7.5l0.5 -0.7l0.5 11.5l0.5 4.4l0.4 10.9l0.5 1.8l0.5 -2.1l0.5 3.8l0.5 1.9l0.4 3.0l0.5 14.8l0.5 -31.5l0.5 21.8l0.5 5.9l0.4 8.2l0.5 -18.1l0.5 12.6l0.5 4.5l0.5 -10.9l0.4 -12.2l0.5 13.4l0.5 -6.4l0.5 16.8l0.5 -11.3l0.4 23.5l0.5 -12.5l0.5 -6.6l0.5 4.1l0.5 -3.2l0.4 12.6l0.5 9.7l0.5 -11.8l0.5 9.9l0.5 -13.1l0.4 10.7l0.5 16.5l0.5 -27.3l0.5 21.3l0.5 0.7l0.4 -22.3l0.5 4.5l0.5 4.6l0.5 15.9l0.5 -9.6l0.4 3.0l0.5 7.7l0.5 -3.6l0.5 1.8l0.5 -3.2l0.4 12.0l0.5 -13.6l0.5 19.6l0.5 -14.5l0.5 -2.7l0.4 11.9l0.5 -0.6l0.5 -17.8l0.5 17.6l0.5 -11.2l0.4 4.7l0.5 13.1l0.5 -11.9l0.5 10.0l0.5 -4.9l0.4 18.4l0.5 -14.9l0.5 -7.6l0.5 1.2l0.5 2.1l0.4 8.5l0.5 -0.4l0.5 8.0l0.5 -5.5l0.5 0.2l0.4 2.0l0.5 -2.9l0.5 3.7l0.5 4.3l0.5 0.5l0.4 -9.7l0.5 -8.9l0.5 7.8l0.5 8.8l0.5 -20.8l0.4 15.8l0.5 7.5l0.5 -7.3l0.5 -3.9l0.5 22.3l0.4 -2.4l0.5 -12.2l0.5 12.4l0.5 0.1l0.5 -18.2l0.4 29.4l0.5 -27.4l0.5 5.5l0.5 -6.1l0.5 9.2l0.4 -10.4l0.5 10.3l0.5 8.5l0.5 -6.4l0.5 -3.4l0.4 14.0l0.5 -18.4l0.5 14.4l0.5 -9.5l0.5 4.1l0.4 -1.2l0.5 0.9l0.5 -1.2l0.5 -5.4l0.5 1.8l0.4 7.8l0.5 -4.0l0.5 -8.0l0.5 3.7l0.5 0.2l0.4 5.0l0.5 1.9l0.5 -0.6l0.5 -5.5l0.5 5.2l0.4 -10.5l0.5 -11.5l0.5 21.8l0.5 -12.2l0.5 5.5l0.4 -1.9l0.5 14.2l0.5 -14.0l0.5 11.4l0.5 -5.7l0.4 -5.7l0.5 -2.5l0.5 15.7l0.5 -0.5l0.5 3.1l0.4 8.1l0.5 -11.8l0.5 0.1l0.5 -3.0l0.5 1.8l0.4 -3.4l0.5 -4.1l0.5 22.2l0.5 -29.4l0.5 16.2l0.4 1.5l0.5 -2.2l0.5 -8.4l0.5 5.9l0.5 -2.0l0.4 -4.6l0.5 7.9l0.5 -2.7l0.5 -1.1l0.5 9.5l0.4 -13.3l0.5 11.5l0.5 -8.0l0.5 8.0l0.5 -2.7l0.4 1.4l0.5 -9.3l0.5 1.6l0.5 -0.6l0.5 7.9l0.4 4.4l0.5 2.6l0.5 -12.1l0.5 4.5l0.5 -12.9l0.4 -4.6l0.5 10.4l0.5 1.5l0.5 -6.7l0.5 -1.7l0.4 17.6l0.5 -10.2l0.5 -6.6l0.5 30.5l0.5 -16.4l0.4 -3.7l0.5 7.6l0.5 -10.9l0.5 17.9l0.5 -23.9l0.4 1.8l0.5 9.0l0.5 -4.8l0.5 16.6l0.5 -23.0l0.4 6.7l0.5 7.4l0.5 2.4l0.5 3.4l0.5 -5.0l0.4 14.2l0.5 -20.4l0.5 4.9l0.5 5.2l0.5 -8.9l0.4 0.1l0.5 -1.3l0.5 -1.3l0.5 -3.7l0.5 4.4l0.4 -7.6l0.5 14.7l0.5 -15.1l0.5 27.9l0.5 -2.8l0.4 -4.5l0.5 -10.0l0.5 -2.9l0.5 13.8l0.5 -7.9l0.4 2.8l0.5 -9.7l0.5 13.6l0.5 -14.2l0.5 6.9l0.4 -14.0l0.5 8.2l0.5 8.8l0.5 -7.3l0.5 0.0l0.4 9.4l0.5 -6.5l0.5 10.0l0.5 -27.9l0.5 22.7l0.4 -0.4l0.5 -15.7l0.5 1.9l0.5 16.6l0.5 -14.8l0.4 3.2l0.5 9.4l0.5 -7.1l0.5 6.2l0.5 -10.3l0.4 8.9l0.5 6.0l0.5 -5.8l0.5 -19.2l0.5 21.7l0.4 -4.6l0.5 -7.3l0.5 17.5l0.5 -23.9l0.5 27.5l0.4 -19.1l0.5 16.8l0.5 -12.3l0.5 -9.8l0.5 10.8l0.4 1.8l0.5 1.6l0.5 4.0l0.5 -15.0l0.5 10.6l0.4 1.9l0.5 -7.7l0.5 -5.1l0.5 -0.2l0.5 13.0l0.4 0.4l0.5 -12.4l0.5 -3.9l0.5 19.6l0.5 -21.3l0.4 13.0l0.5 -7.3l0.5 -7.3l0.5 14.3l0.5 -2.4l0.4 12.4l0.5 6.4l0.5 -18.8l0.5 9.2l0.5 0.2l0.4 -12.0l0.5 -2.6l0.5 18.9l0.5 -15.1l0.5 2.6l0.4 -2.1l0.5 1.2l0.5 -3.6l0.5 10.3l0.5 3.9l0.4 -12.4l0.5 -7.7l0.5 10.9l0.5 -11.7l0.5 6.4l0.4 14.2l0.5 8.3l0.5 -14.8l0.5 -11.0l0.5 14.0l0.4 -23.0l0.5 11.8l0.5 16.9l0.5 -6.0l0.5 -16.1l0.4 -2.2l0.5 19.2l0.5 -6.9l0.5 -4.2l0.5 7.7l0.4 -7.6l0.5 -10.2l0.5 20.8l0.5 -11.1l0.5 -2.7l0.4 -2.6l0.5 12.1l0.5 -8.1l0.5 10.9l0.5 -6.8l0.4 10.3l0.5 -11.2l0.5 -2.0l0.5 -10.0l0.5 6.6l0.4 13.8l0.5 17.8l0.5 -32.8l0.5 1.6l0.5 10.5l0.4 1.0l0.5 -8.7l0.5 5.7l0.5 -12.8l0.5 9.9l0.4 9.2l0.5 5.5l0.5 -13.7l0.5 -0.7l0.5 5.5l0.4 4.9l0.5 -4.7l0.5 -9.4l0.5 8.4l0.5 4.7l0.4 -12.8l0.5 -4.7l0.5 14.0l0.5 -1.1l0.5 4.6l0.4 -6.7l0.5 -5.6l0.5 1.6l0.5 -4.5l0.5 0.7l0.4 2.9l0.5 0.6l0.5 12.2l0.5 -17.8l0.5 8.9l0.4 -4.1l0.5 15.8l0.5 -9.3l0.5 -4.8l0.5 9.0l0.4 -5.6l0.5 -4.2l0.5 15.3l0.5 -6.2l0.5 7.7l0.4 -4.3l0.5 -2.9l0.5 -4.9l0.5 -9.2l0.5 13.6l0.4 -4.8l0.5 4.6l0.5 -5.2l0.5 -5.1l0.5 -2.4l0.4 12.9l0.5 4.6l0.5 -12.0l0.5 5.6l0.5 7.1l0.4 -16.9l0.5 3.8l0.5 -5.9l0.5 17.5l0.5 -7.0l0.4 -5.5l0.5 -9.0l0.5 11.2l0.5 9.0l0.5 -9.8l0.4 -1.0l0.5 8.1l0.5 -14.2l0.5 9.8l0.5 4.1l0.4 -10.4l0.5 -0.4l0.5 8.2l0.5 -2.6l0.5 -1.0l0.4 3.4l0.5 0.1l0.5 -8.7l0.5 2.0l0.5 8.4l0.4 5.2l0.5 1.8l0.5 -16.7l0.5 14.7l0.5 -2.5l0.4 -6.0l0.5 4.0l0.5 2.6l0.5 7.3l0.5 -21.6l0.4 12.6l0.5 -5.6l0.5 -0.5l0.5 10.3l0.5 -2.5l0.4 -13.9l0.5 5.6l0.5 3.9l0.5 -12.4l0.5 17.2l0.4 -7.1l0.5 1.9l0.5 1.3l0.5 11.1l0.5 -13.4l0.4 -2.9l0.5 15.9l0.5 -17.0l0.5 -0.1l0.5 -6.5l0.4 18.7l0.5 -6.1l0.5 1.5l0.5 -2.3l0.5 -2.3l0.4 -4.9l0.5 0.1l0.5 9.2l0.5 -2.3l0.5 11.4l0.4 -18.1l0.5 2.1l0.5 -4.0l0.5 18.1l0.5 -19.7l0.4 15.2l0.5 5.0l0.5 -11.9l0.5 6.6l0.5 -21.6l0.4 13.2l0.5 -9.6l0.5 13.8l0.5 -1.2l0.5 -5.8l0.4 12.9l0.5 -4.4l0.5 -6.6l0.5 0.1l0.5 -7.3l0.4 9.8l0.5 17.4l0.5 -21.4l0.5 8.6l0.5 -7.3l0.4 10.2l0.5 -2.7l0.5 -5.1l0.5 -11.7l0.5 9.6l0.4 13.0l0.5 -10.9l0.5 6.6l0.5 -8.4l0.5 -10.4l0.4 17.3l0.5 -0.8l0.5 -6.8l0.5 1.6l0.5 5.0l0.4 -6.6l0.5 7.1l0.5 -4.2l0.5 -16.2l0.5 16.7l0.4 -3.4l0.5 -1.8l0.5 9.4l0.5 -6.7l0.5 7.8l0.4 4.1l0.5 -7.1l0.5 -12.8l0.5 6.2l0.5 12.4l0.4 -8.8l0.5 -4.1l0.5 5.4l0.5 4.5l0.5 -1.9l0.4 3.0l0.5 -11.1l0.5 4.1l0.5 0.2l0.5 1.8l0.4 -15.7l0.5 14.1l0.5 -8.4l0.5 20.7l0.5 1.2l0.4 1.0l0.5 -6.6l0.5 -9.8l0.5 11.0l0.5 -8.8l0.4 6.1l0.5 -11.4l0.5 2.4l0.5 7.9l0.5 9.9l0.4 -13.5l0.5 17.2l0.5 3.8l0.5 -30.5l0.5 9.5l0.4 -7.0l0.5 6.1l0.5 -3.0l0.5 3.6l0.5 7.8l0.4 -0.2l0.5 -5.2l0.5 -1.9l0.5 0.9l0.5 0.0l0.4 3.4l0.5 -4.3l0.5 3.8l0.5 -13.7l0.5 15.9l0.4 7.2l0.5 -11.8l0.5 -12.1l0.5 20.9l0.5 -12.7l0.4 -20.1l0.5 20.9l0.5 6.2l0.5 -1.6l0.5 6.4l0.4 -4.7l0.5 -3.7l0.5 -15.9l0.5 6.5l0.5 9.8l0.4 3.7l0.5 -12.9l0.5 3.2l0.5 8.2l0.5 -18.0l0.4 -0.3l0.5 12.9l0.5 3.7l0.5 -5.6l0.5 -13.7l0.4 17.5l0.5 -10.2l0.5 15.0l0.5 -5.7l0.5 2.7l0.4 2.9l0.5 -8.9l0.5 10.3l0.5 3.1l0.5 -6.4l0.4 7.0l0.5 -14.8l0.5 11.7l0.5 -4.9l0.5 -9.5l0.4 6.8l0.5 -3.4l0.5 -0.2l0.5 4.8l0.5 7.4l0.4 -10.5l0.5 3.4l0.5 -12.1l0.5 11.9l0.5 7.9l0.4 -2.6l0.5 -2.5l0.5 -7.6l0.5 -3.4l0.5 6.6l0.4 -9.4l0.5 0.8l0.5 16.4l0.5 -14.1l0.5 20.6l0.4 -24.5l0.5 14.1l0.5 -12.1l0.5 10.1l0.5 -9.2l0.4 8.2l0.5 -1.5l0.5 -2.3l0.5 7.3l0.5 7.6l0.4 -16.0l0.5 11.2l0.5 -6.1l0.5 -0.9l0.5 16.9l0.4 -33.1l0.5 11.3l0.5 -8.6l0.5 11.3l0.5 0.6l0.4 30.6l0.5 -26.2l0.5 10.9l0.5 -3.8l0.5 -13.1l0.4 6.9l0.5 9.0l0.5 -11.3l0.5 0.2l0.5 2.2l0.4 -15.2l0.5 5.2l0.5 8.7l0.5 1.6l0.5 -11.1l0.4 4.5l0.5 1.5l0.5 -0.3l0.5 6.4l0.5 -4.4l0.4 0.4l0.5 -12.0l0.5 2.7l0.5 10.4l0.5 -14.5l0.4 14.1l0.5 -7.1l0.5 -1.1l0.5 11.0l0.5 -10.1l0.4 -1.4l0.5 1.4l0.5 5.6l0.5 20.3l0.5 -36.9l0.4 15.9l0.5 -1.7l0.5 9.1l0.5 -10.1l0.5 -16.0l0.4 28.8l0.5 -18.3l0.5 7.8l0.5 -10.0l0.5 2.1l0.4 4.5l0.5 10.3l0.5 -0.1l0.5 -11.0l0.5 8.3l0.4 -6.6l0.5 3.6l0.5 0.3l0.5 3.6l0.5 -9.4l0.4 3.6l0.5 2.7l0.5 -1.0l0.5 -6.8l0.5 19.1l0.4 -16.6l0.5 9.3l0.5 -4.2l0.5 7.7l0.5 -25.9l0.4 32.2l0.5 -17.3l0.5 -7.7l0.5 10.3l0.5 16.2l0.4 -13.3l0.5 -13.3l0.5 5.9l0.5 13.6l0.5 -20.8l0.4 9.3l0.5 -0.9l0.5 18.7l0.5 -18.7l0.5 12.2l0.4 -15.1l0.5 -1.0l0.5 13.7l0.5 -2.9l0.5 -17.9l0.4 18.0l0.5 0.0l0.5 -9.5l0.5 6.3l0.5 0.4l0.4 -5.8l0.5 -0.7l0.5 -0.7l0.5 3.0l0.5 -8.0l0.4 9.8l0.5 -11.1l0.5 12.0l0.5 -1.3l0.5 -7.2l0.4 14.3l0.5 8.3l0.5 -4.7l0.5 -20.4l0.5 20.0l0.4 -8.0l0.5 -2.1l0.5 -4.1l0.5 4.5l0.5 10.6l0.4 -6.4l0.5 -7.3l0.5 -1.9l0.5 1.9l0.5 7.6l0.4 9.7l0.5 -22.2l0.5 8.0l0.5 -2.9l0.5 -2.8l0.4 8.8l0.5 1.1l0.5 -14.9l0.5 2.9l0.5 16.9l0.4 -6.7l0.5 1.6l0.5 -7.8l0.5 1.0l0.5 6.3l0.4 -7.2l0.5 -4.7l0.5 8.4l0.5 6.9l0.5 -14.7l0.4 15.8l0.5 -2.6l0.5 -11.9l0.5 6.6l0.5 -0.4l0.4 5.1l0.5 0.3l0.5 -14.9l0.5 -0.4l0.5 18.0l0.4 -6.9l0.5 2.3l0.5 -0.6l0.5 9.0l0.5 -20.7l0.4 17.4l0.5 -14.5l0.5 11.8l0.5 4.6l0.5 -20.6l0.4 13.5l0.5 -5.1l0.5 -0.1l0.5 2.5l0.5 -8.3l0.4 0.7l0.5 12.2l0.5 1.5l0.5 -10.7l0.5 -6.7l0.4 28.5l0.5 -9.2l0.5 -5.6l0.5 -10.5l0.5 3.4l0.4 6.2l0.5 -9.1l0.5 19.4l0.5 -11.1l0.5 1.9l0.4 -10.7l0.5 0.9l0.5 0.9l0.5 8.1l0.5 -4.1l0.4 -0.2l0.5 4.6l0.5 -0.7l0.5 9.5l0.5 -12.7l0.4 -6.1l0.5 7.5l0.5 11.1l0.5 -15.2l0.5 4.6l0.4 -3.1l0.5 5.8l0.5 -1.2l0.5 -8.0l0.5 4.4l0.4 8.8l0.5 1.2l0.5 -1.3l0.5 -0.5l0.5 -9.0l0.4 -0.2l0.5 9.7l0.5 -15.8l0.5 8.4l0.5 -13.5l0.4 11.1l0.5 -2.5l0.5 -3.7l0.5 13.4l0.5 -9.9l0.4 2.8l0.5 0.8l0.5 -3.6l0.5 16.3l0.5 -14.4l0.4 5.2l0.5 -11.3l0.5 6.2l0.5 1.2l0.5 0.1l0.4 -2.1l0.5 5.5l0.5 10.6l0.5 -12.7l0.5 -0.0l0.4 -1.9l0.5 22.0l0.5 -6.9l0.5 -8.0l0.5 1.1l0.4 -10.6l0.5 4.2l0.5 2.7l0.5 -0.6l0.5 -7.4l0.4 0.6l0.5 9.8l0.5 -1.6l0.5 -18.1l0.5 16.5l0.4 8.8l0.5 -14.3l0.5 6.6l0.5 -12.7l0.5 17.2l0.4 -14.6l0.5 -1.0l0.5 7.0l0.5 20.1l0.5 -22.3l0.4 -4.9l0.5 12.9l0.5 -1.7l0.5 10.7l0.5 -21.9l0.4 -2.5l0.5 9.6l0.5 5.3l0.5 -0.2l0.5 5.5l0.4 -19.4l0.5 5.1l0.5 5.2l0.5 7.3l0.5 -2.8l0.4 -6.7l0.5 -4.5l0.5 14.3l0.5 0.5l0.5 13.2l0.4 -21.6l0.5 13.5l0.5 -21.2l0.5 5.0l0.5 -1.0l0.4 1.6l0.5 -3.1l0.5 2.5l0.5 3.7l0.5 -3.0l0.4 8.3l0.5 -5.5l0.5 0.6l0.5 11.1l0.5 -8.7l0.4 -1.2l0.5 -1.3l0.5 0.6l0.5 3.9l0.5 -10.3l0.4 14.6l0.5 3.2l0.5 -3.2l0.5 -12.3l0.5 -8.2l0.4 8.7l0.5 4.4l0.5 5.1l0.5 -7.6l0.5 -0.9l0.4 13.7l0.5 -16.4l0.5 13.0l0.5 -1.2l0.5 -16.7l0.4 12.0l0.5 -6.2l0.5 -2.9l0.5 -6.8l0.5 2.1l0.4 14.9l0.5 -6.0l0.5 5.0" fill="none" stroke="#1c5e1c" stroke-width="0.9" stroke-linejoin="bevel"/><path d="M168.1 343.7l0.5 4.1l0.4 -20.9l0.5 -2.9l0.5 28.5l0.5 -4.6l0.5 -12.4l0.4 17.8l0.5 18.1l0.5 26.3l0.5 -32.6l0.5 33.1l0.4 33.1l0.5 -22.0l0.5 32.2l0.5 -51.1l0.5 74.7l0.4 -10.4l0.5 -16.3l0.5 54.4l0.5 17.2l0.5 14.4l0.4 10.8l0.5 -8.5l0.5 4.3l0.5 9.9l0.5 9.7l0.4 9.5l0.5 -1.3l0.5 9.5l0.5 11.4l0.5 0.5l0.4 19.8l0.5 3.3l0.5 -21.5l0.5 8.4l0.5 -1.9l0.4 4.8l0.5 16.8l0.5 -8.5l0.5 2.8l0.5 9.1l0.4 11.3l0.5 -6.1l0.5 2.7l0.5 12.6l0.5 -1.0l0.4 2.3l0.5 6.2l0.5 -13.0l0.5 11.7l0.5 -4.5l0.4 15.0l0.5 0.3l0.5 -12.6l0.5 20.2l0.5 -17.8l0.4 19.8l0.5 -6.0l0.5 -7.0l0.5 -0.7l0.5 7.2l0.4 2.8l0.5 -4.9l0.5 10.2l0.5 -15.2l0.5 11.0l0.4 0.1l0.5 -14.5l0.5 17.0l0.5 -12.0l0.5 -9.2l0.4 15.1l0.5 3.4l0.5 9.2l0.5 -10.4l0.5 15.7l0.4 0.1l0.5 -2.3l0.5 2.2l0.5 -7.3l0.5 -6.7l0.4 9.8l0.5 2.8l0.5 -5.4l0.5 -3.5l0.5 -10.0l0.4 17.8l0.5 -2.3l0.5 -12.6l0.5 11.1l0.5 5.1l0.4 -6.2l0.5 7.1l0.5 0.0l0.5 -17.2l0.5 9.4l0.4 6.3l0.5 3.5l0.5 4.0l0.5 -25.8l0.5 14.6l0.4 6.2l0.5 4.1l0.5 3.8l0.5 -20.4l0.5 4.5l0.4 -5.2l0.5 14.7l0.5 -16.7l0.5 19.7l0.5 -1.9l0.4 -3.4l0.5 -20.7l0.5 11.7l0.5 11.1l0.5 -16.9l0.4 9.3l0.5 1.0l0.5 7.8l0.5 -5.5l0.5 -0.0l0.4 -3.6l0.5 2.2l0.5 -0.7l0.5 4.2l0.5 -4.5l0.4 5.9l0.5 -13.5l0.5 14.3l0.5 -6.9l0.5 6.4l0.4 -5.3l0.5 3.8l0.5 3.1l0.5 -10.2l0.5 3.0l0.4 -1.3l0.5 1.8l0.5 -9.1l0.5 7.1l0.5 -0.5l0.4 -2.7l0.5 2.8l0.5 -6.8l0.5 14.5l0.5 -4.8l0.4 7.0l0.5 -13.7l0.5 -1.6l0.5 7.1l0.5 -9.7l0.4 9.2l0.5 -4.7l0.5 1.8l0.5 2.8l0.5 -1.1l0.4 8.9l0.5 -6.2l0.5 -9.6l0.5 11.1l0.5 -11.6l0.4 7.0l0.5 -6.7l0.5 2.0l0.5 10.5l0.5 -9.4l0.4 -0.5l0.5 0.2l0.5 1.2l0.5 8.5l0.5 -13.0l0.4 -0.4l0.5 8.8l0.5 -10.8l0.5 5.9l0.5 7.3l0.4 -5.7l0.5 -2.5l0.5 -1.2l0.5 -1.1l0.5 1.5l0.4 3.5l0.5 5.3l0.5 -1.4l0.5 -7.7l0.5 -0.9l0.4 6.9l0.5 -12.5l0.5 6.8l0.5 0.4l0.5 -3.9l0.4 0.5l0.5 6.5l0.5 -9.9l0.5 3.6l0.5 1.2l0.4 3.6l0.5 -7.2l0.5 12.1l0.5 -7.0l0.5 0.2l0.4 -0.5l0.5 -1.6l0.5 -1.5l0.5 10.5l0.5 -4.7l0.4 -1.6l0.5 5.4l0.5 -8.5l0.5 6.6l0.5 -3.0l0.4 -4.6l0.5 8.2l0.5 -11.2l0.5 10.6l0.5 -7.7l0.4 6.4l0.5 4.8l0.5 -4.1l0.5 -5.8l0.5 2.8l0.4 -1.7l0.5 -4.0l0.5 0.3l0.5 5.6l0.5 2.4l0.4 -11.3l0.5 8.3l0.5 2.8l0.5 -2.0l0.5 -5.5l0.4 10.0l0.5 -11.1l0.5 9.2l0.5 4.6l0.5 -17.9l0.4 11.3l0.5 0.2l0.5 -0.4l0.5 -5.0l0.5 2.3l0.4 -5.4l0.5 7.5l0.5 2.0l0.5 -6.0l0.5 -1.3l0.4 2.2l0.5 2.3l0.5 0.3l0.5 -0.8l0.5 0.8l0.4 -6.8l0.5 -7.0l0.5 16.5l0.5 3.9l0.5 -14.0l0.4 3.7l0.5 4.8l0.5 3.2l0.5 -1.6l0.5 3.1l0.4 -6.5l0.5 2.3l0.5 -0.1l0.5 -4.1l0.5 8.0l0.4 -2.9l0.5 1.8l0.5 -6.8l0.5 7.0l0.5 -10.2l0.4 7.1l0.5 -14.8l0.5 7.9l0.5 8.6l0.5 -5.9l0.4 3.1l0.5 -8.8l0.5 15.5l0.5 -4.6l0.5 -3.1l0.4 2.2l0.5 -0.5l0.5 5.4l0.5 -5.9l0.5 -8.3l0.4 6.0l0.5 7.5l0.5 -3.5l0.5 -4.8l0.5 5.0l0.4 -2.4l0.5 2.4l0.5 -10.8l0.5 3.4l0.5 7.7l0.4 -4.4l0.5 2.8l0.5 7.9l0.5 -11.1l0.5 2.7l0.4 -3.9l0.5 -0.3l0.5 2.7l0.5 -6.8l0.5 -3.2l0.4 17.0l0.5 -7.2l0.5 6.0l0.5 -4.9l0.5 0.2l0.4 2.5l0.5 0.2l0.5 -9.4l0.5 11.8l0.5 -10.6l0.4 5.7l0.5 11.5l0.5 -12.1l0.5 7.8l0.5 -9.9l0.4 4.7l0.5 -2.7l0.5 1.8l0.5 -6.3l0.5 -0.3l0.4 6.2l0.5 -9.3l0.5 3.5l0.5 7.3l0.5 -6.2l0.4 -1.3l0.5 -1.1l0.5 6.2l0.5 -2.5l0.5 2.5l0.4 -1.7l0.5 10.0l0.5 -11.2l0.5 -7.4l0.5 10.1l0.4 -0.6l0.5 0.8l0.5 -8.6l0.5 13.4l0.5 -5.7l0.4 -0.1l0.5 -7.5l0.5 10.1l0.5 -2.7l0.5 6.9l0.4 -8.6l0.5 -4.0l0.5 6.7l0.5 -5.1l0.5 6.5l0.4 -7.3l0.5 4.6l0.5 -0.5l0.5 1.0l0.5 -2.4l0.4 -1.4l0.5 3.7l0.5 -2.6l0.5 3.6l0.5 -2.1l0.4 -9.6l0.5 10.7l0.5 7.0l0.5 -5.3l0.5 1.5l0.4 -0.7l0.5 -4.5l0.5 -4.2l0.5 10.4l0.5 1.2l0.4 -2.3l0.5 -0.7l0.5 -0.2l0.5 -2.0l0.5 1.5l0.4 -1.3l0.5 1.5l0.5 -6.1l0.5 1.5l0.5 5.8l0.4 -4.4l0.5 -10.0l0.5 12.3l0.5 -11.6l0.5 20.3l0.4 -5.8l0.5 -0.2l0.5 -6.4l0.5 -2.3l0.5 4.5l0.4 1.1l0.5 -3.8l0.5 4.5l0.5 2.6l0.5 -0.4l0.4 -7.9l0.5 -5.4l0.5 10.4l0.5 -3.1l0.5 5.3l0.4 5.8l0.5 -0.0l0.5 -6.5l0.5 4.0l0.5 2.5l0.4 -7.6l0.5 1.1l0.5 2.8l0.5 -4.3l0.5 -2.2l0.4 -1.2l0.5 3.7l0.5 -3.0l0.5 6.8l0.5 -5.4l0.4 8.7l0.5 -1.2l0.5 -11.8l0.5 11.2l0.5 -7.1l0.4 8.5l0.5 -4.1l0.5 -2.6l0.5 3.4l0.5 -5.8l0.4 4.2l0.5 0.3l0.5 -2.5l0.5 2.6l0.5 -6.6l0.4 7.4l0.5 -8.4l0.5 8.8l0.5 -0.7l0.5 1.1l0.4 -6.0l0.5 17.2l0.5 -15.6l0.5 1.9l0.5 -4.3l0.4 10.4l0.5 -9.0l0.5 7.0l0.5 -9.2l0.5 6.0l0.4 -3.3l0.5 6.3l0.5 -5.8l0.5 -2.7l0.5 6.3l0.4 -7.9l0.5 1.2l0.5 8.2l0.5 -12.5l0.5 12.5l0.4 -5.5l0.5 -2.4l0.5 5.5l0.5 1.9l0.5 -5.7l0.4 1.9l0.5 4.7l0.5 -0.2l0.5 -3.8l0.5 -3.4l0.4 -0.8l0.5 1.7l0.5 6.0l0.5 -0.4l0.5 -1.3l0.4 5.2l0.5 -8.0l0.5 -0.4l0.5 0.0l0.5 10.9l0.4 -18.8l0.5 11.2l0.5 0.7l0.5 -1.8l0.5 10.8l0.4 -5.5l0.5 -1.8l0.5 -7.9l0.5 6.6l0.5 -4.1l0.4 2.0l0.5 0.8l0.5 -3.2l0.5 5.2l0.5 4.8l0.4 -2.8l0.5 -3.9l0.5 -10.1l0.5 14.3l0.5 -0.0l0.4 -6.0l0.5 -1.3l0.5 5.4l0.5 -6.9l0.5 7.6l0.4 -8.9l0.5 0.8l0.5 4.4l0.5 -6.9l0.5 6.9l0.4 2.5l0.5 -8.6l0.5 10.5l0.5 -6.9l0.5 5.2l0.4 -1.6l0.5 -3.1l0.5 -0.3l0.5 -5.5l0.5 4.7l0.4 -0.3l0.5 11.4l0.5 -2.9l0.5 -11.2l0.5 10.2l0.4 -2.7l0.5 -2.8l0.5 4.0l0.5 1.5l0.5 -6.3l0.4 1.4l0.5 2.1l0.5 -5.4l0.5 5.5l0.5 -1.2l0.4 -2.8l0.5 -0.8l0.5 5.4l0.5 2.7l0.5 -2.5l0.4 -5.5l0.5 7.5l0.5 -2.7l0.5 2.0l0.5 2.7l0.4 -9.6l0.5 3.6l0.5 -2.2l0.5 -1.2l0.5 13.5l0.4 -5.0l0.5 -12.7l0.5 10.3l0.5 -4.5l0.5 8.0l0.4 -5.0l0.5 -1.2l0.5 1.5l0.5 1.2l0.5 -1.7l0.4 -1.1l0.5 0.4l0.5 3.1l0.5 -7.7l0.5 5.3l0.4 -0.5l0.5 -1.7l0.5 5.7l0.5 -9.4l0.5 4.3l0.4 -2.2l0.5 6.5l0.5 -4.7l0.5 2.5l0.5 1.6l0.4 -9.3l0.5 9.6l0.5 -5.6l0.5 2.4l0.5 0.7l0.4 4.3l0.5 -0.3l0.5 4.8l0.5 -7.4l0.5 -3.0l0.4 -0.1l0.5 5.4l0.5 4.5l0.5 -5.9l0.5 -4.3l0.4 4.0l0.5 -0.0l0.5 -1.0l0.5 -3.6l0.5 -8.4l0.4 9.4l0.5 7.4l0.5 -3.9l0.5 -11.3l0.5 10.4l0.4 -8.6l0.5 18.0l0.5 -8.4l0.5 -6.5l0.5 9.4l0.4 -7.4l0.5 6.3l0.5 -2.5l0.5 -5.6l0.5 8.7l0.4 -9.3l0.5 12.5l0.5 -5.9l0.5 -5.1l0.5 -3.6l0.4 16.1l0.5 -0.8l0.5 -12.6l0.5 13.6l0.5 -6.9l0.4 -1.8l0.5 0.7l0.5 -0.8l0.5 8.0l0.5 -6.0l0.4 -9.3l0.5 18.5l0.5 -5.7l0.5 -9.2l0.5 3.5l0.4 -2.5l0.5 4.5l0.5 1.6l0.5 -0.7l0.5 -3.8l0.4 -0.9l0.5 7.7l0.5 -4.4l0.5 11.0l0.5 -14.2l0.4 7.5l0.5 -3.4l0.5 -3.8l0.5 10.0l0.5 -5.8l0.4 -4.7l0.5 2.7l0.5 6.3l0.5 -10.4l0.5 12.2l0.4 -3.2l0.5 -4.5l0.5 7.7l0.5 1.9l0.5 -5.4l0.4 -1.9l0.5 7.9l0.5 -1.6l0.5 -11.3l0.5 3.4l0.4 -0.0l0.5 -0.9l0.5 -5.1l0.5 11.3l0.5 -3.8l0.4 0.1l0.5 6.2l0.5 -9.2l0.5 2.4l0.5 1.6l0.4 -3.3l0.5 1.6l0.5 4.2l0.5 -3.6l0.5 6.3l0.4 -9.8l0.5 4.6l0.5 -7.7l0.5 6.2l0.5 -2.7l0.4 9.8l0.5 -2.9l0.5 -1.1l0.5 6.4l0.5 -1.9l0.4 -3.4l0.5 -6.6l0.5 -3.5l0.5 6.7l0.5 -1.5l0.4 -1.3l0.5 1.7l0.5 -6.4l0.5 14.9l0.5 -12.4l0.4 2.2l0.5 5.9l0.5 -10.3l0.5 12.1l0.5 0.1l0.4 -5.9l0.5 -3.6l0.5 2.9l0.5 -6.5l0.5 15.4l0.4 -6.3l0.5 -3.7l0.5 -0.8l0.5 7.0l0.5 4.5l0.4 -13.2l0.5 3.4l0.5 -5.6l0.5 11.6l0.5 -2.5l0.4 10.0l0.5 -11.2l0.5 -1.5l0.5 -1.3l0.5 7.5l0.4 -11.8l0.5 11.3l0.5 -2.3l0.5 -3.6l0.5 -1.8l0.4 9.3l0.5 3.8l0.5 -10.9l0.5 4.7l0.5 5.7l0.4 -11.2l0.5 1.8l0.5 -4.6l0.5 5.2l0.5 0.3l0.4 -1.6l0.5 -1.5l0.5 -4.0l0.5 1.2l0.5 1.7l0.4 7.8l0.5 -5.5l0.5 -1.6l0.5 7.2l0.5 -0.4l0.4 -6.3l0.5 0.7l0.5 6.1l0.5 -1.4l0.5 -5.7l0.4 5.2l0.5 -1.3l0.5 5.5l0.5 -9.5l0.5 8.4l0.4 -2.1l0.5 -6.9l0.5 9.9l0.5 -0.7l0.5 -10.6l0.4 15.8l0.5 -14.9l0.5 1.1l0.5 2.8l0.5 5.3l0.4 -0.9l0.5 -3.2l0.5 7.0l0.5 -4.6l0.5 4.8l0.4 6.8l0.5 -12.5l0.5 -13.3l0.5 10.2l0.5 -3.0l0.4 5.7l0.5 0.0l0.5 -6.3l0.5 0.3l0.5 4.3l0.4 0.4l0.5 -11.6l0.5 17.2l0.5 -4.5l0.5 -0.2l0.4 1.5l0.5 -6.3l0.5 4.7l0.5 5.3l0.5 0.2l0.4 -3.0l0.5 -3.5l0.5 -2.6l0.5 10.4l0.5 -3.9l0.4 -4.5l0.5 -8.5l0.5 6.3l0.5 -5.1l0.5 15.5l0.4 -5.2l0.5 -4.5l0.5 2.3l0.5 14.0l0.5 -6.7l0.4 -12.4l0.5 5.9l0.5 -5.3l0.5 -2.4l0.5 9.3l0.4 11.0l0.5 -4.2l0.5 -7.4l0.5 -2.0l0.5 2.8l0.4 4.1l0.5 -12.2l0.5 -2.0l0.5 18.5l0.5 -7.9l0.4 6.6l0.5 -6.7l0.5 6.1l0.5 -10.3l0.5 5.5l0.4 5.2l0.5 -2.6l0.5 -7.3l0.5 6.8l0.5 -7.7l0.4 -3.8l0.5 9.7l0.5 4.3l0.5 -2.6l0.5 -10.5l0.4 10.6l0.5 -0.9l0.5 -5.6l0.5 -10.1l0.5 17.4l0.4 -0.6l0.5 -1.9l0.5 -11.0l0.5 1.2l0.5 12.4l0.4 -1.0l0.5 -1.5l0.5 -3.7l0.5 3.2l0.5 -4.6l0.4 1.2l0.5 -2.8l0.5 5.6l0.5 -3.3l0.5 6.8l0.4 -1.1l0.5 -7.6l0.5 13.2l0.5 -14.7l0.5 7.9l0.4 3.1l0.5 1.0l0.5 -17.3l0.5 16.0l0.5 1.1l0.4 1.1l0.5 -18.3l0.5 7.8l0.5 2.9l0.5 -1.7l0.4 8.9l0.5 -10.1l0.5 9.6l0.5 -3.3l0.5 -10.1l0.4 2.3l0.5 2.7l0.5 2.8l0.5 4.5l0.5 -5.8l0.4 5.4l0.5 -12.4l0.5 -7.3l0.5 13.6l0.5 4.0l0.4 -4.1l0.5 -3.3l0.5 7.2l0.5 7.6l0.5 -10.2l0.4 -3.1l0.5 -0.6l0.5 14.1l0.5 -10.0l0.5 3.3l0.4 3.1l0.5 -0.7l0.5 -10.0l0.5 9.4l0.5 -0.6l0.4 -1.7l0.5 2.6l0.5 -7.9l0.5 2.5l0.5 -2.2l0.4 6.4l0.5 -7.0l0.5 5.2l0.5 -7.4l0.5 4.9l0.4 -1.2l0.5 1.2l0.5 1.3l0.5 -1.6l0.5 -0.1l0.4 -9.3l0.5 15.9l0.5 -8.6l0.5 1.9l0.5 -2.9l0.4 9.1l0.5 -9.5l0.5 7.1l0.5 3.4l0.5 2.3l0.4 -2.2l0.5 -2.9l0.5 -9.0l0.5 12.4l0.5 -0.5l0.4 -1.7l0.5 -0.2l0.5 -3.6l0.5 -2.9l0.5 8.0l0.4 1.0l0.5 -11.6l0.5 9.8l0.5 -3.3l0.5 3.2l0.4 -3.1l0.5 4.2l0.5 -0.4l0.5 -0.6l0.5 -11.3l0.4 11.0l0.5 -3.9l0.5 -5.8l0.5 9.1l0.5 -10.3l0.4 11.3l0.5 4.0l0.5 -10.9l0.5 7.1l0.5 -2.3l0.4 1.0l0.5 -10.0l0.5 9.8l0.5 -2.4l0.5 3.1l0.4 -3.6l0.5 5.4l0.5 -4.1l0.5 2.0l0.5 3.5l0.4 -5.9l0.5 4.0l0.5 -3.7l0.5 1.4l0.5 -5.2l0.4 6.5l0.5 2.3l0.5 -6.5l0.5 4.3l0.5 -1.8l0.4 -7.5l0.5 7.2l0.5 4.8l0.5 -8.9l0.5 -6.4l0.4 9.8l0.5 -4.2l0.5 12.6l0.5 -9.6l0.5 0.2l0.4 -3.0l0.5 4.3l0.5 -4.0l0.5 -1.6l0.5 4.1l0.4 -3.7l0.5 10.5l0.5 -12.2l0.5 5.4l0.5 -3.0l0.4 -3.4l0.5 15.0l0.5 -18.5" fill="none" stroke="#e4127f" stroke-width="0.9" stroke-linejoin="bevel"/><path d="M169 41L171 50L177.5 57L170.5 71" fill="none" stroke="#333" stroke-width="0.9"/><path d="M171.8 69.1l0.4 4.9l0.4 4.8l0.5 4.7l0.4 4.7l0.4 4.6l0.5 4.5l0.4 4.5l0.5 4.4l0.4 4.4l0.5 4.3l0.4 4.2l0.5 4.2l0.4 4.1l0.5 4.1l0.4 4.0l0.4 3.9l0.5 3.9l0.4 3.8l0.5 3.8l0.4 3.8l0.5 3.7l0.4 3.6l0.5 3.6l0.4 3.5l0.4 3.5l0.5 3.4l0.4 3.4l0.5 3.4l0.4 3.3l0.5 3.2l0.4 3.2l0.5 3.2l0.4 3.1l0.4 3.1l0.5 3.0l0.4 3.0l0.5 3.0l0.4 2.9l0.5 2.9l0.4 2.8l0.5 2.8l0.4 2.8l0.5 2.7l0.4 2.7l0.4 2.6l0.5 2.6l0.4 2.6l0.5 2.5l0.4 2.5l0.5 2.5l0.4 2.4l0.5 2.4l0.4 2.4l0.4 2.3l0.5 2.3l0.4 2.3l0.5 2.3l0.4 2.2l0.5 2.1l0.4 2.2l0.5 2.1l0.4 2.1l0.4 2.1l0.5 2.0l0.4 2.0l0.5 2.0l0.4 1.9l0.5 2.0l0.4 1.9l0.5 1.8l0.4 1.9l0.4 1.8l0.5 1.8l0.4 1.8l0.5 1.7l0.4 1.7l0.5 1.7l0.4 1.7l0.5 1.7l0.4 1.6l0.5 1.6l0.4 1.6l0.4 1.6l0.5 1.5l0.4 1.5l0.5 1.5l0.4 1.5l0.5 1.5l0.4 1.4l0.5 1.4l0.4 1.4l0.4 1.4l0.5 1.4l0.4 1.3l0.5 1.3l0.4 1.3l0.5 1.3l0.4 1.3l0.5 1.2l0.4 1.3l0.4 1.2l0.5 1.2l0.4 1.2l0.5 1.2l0.4 1.1l0.5 1.2l0.4 1.1l0.5 1.1l0.4 1.1l0.5 1.1l0.4 1.0l0.4 1.1l0.5 1.0l0.4 1.0l0.5 1.0l0.4 1.0l0.5 1.0l0.4 1.0l0.5 0.9l0.4 0.9l1.0 2.0l3.5 6.8l3.5 6.1l3.6 5.5l3.5 4.9l3.6 4.4l3.5 3.9l3.6 3.5l3.5 3.2l3.5 2.8l3.6 2.6l3.5 2.2l3.6 2.0l3.5 1.9l3.5 1.6l3.6 1.5l3.5 1.3l3.6 1.1l3.5 1.1l3.5 0.9l3.6 0.9l3.5 0.7l3.6 0.7l3.5 0.6l3.6 0.5l3.5 0.5l3.5 0.5l3.6 0.3l3.5 0.4l3.6 0.3l3.5 0.3l3.5 0.2l3.6 0.3l3.5 0.2l3.6 0.1l3.5 0.2l3.6 0.2l3.5 0.1l3.5 0.1l3.6 0.1l3.5 0.1l3.6 0.1l3.5 0.1l3.5 0.0l3.6 0.1l3.5 0.0l3.6 0.1l3.5 0.0l3.6 0.1l3.5 -0.0l3.5 0.0l3.6 0.1l3.5 -0.0l3.6 0.0l3.5 0.0l3.5 0.0l3.6 0.1l3.5 -0.0l3.6 -0.0l3.5 -0.0l3.6 0.0l3.5 0.0l3.5 0.0l3.6 0.0l3.5 0.0l3.6 0.0l3.5 0.0l3.5 0.1l3.6 -0.0l3.5 -0.0l3.6 -0.0l3.5 -0.0l3.5 -0.0l3.6 -0.0l3.5 -0.0l3.6 -0.0l3.5 -0.0l3.6 -0.0l3.5 -0.0l3.5 -0.0l3.6 -0.0l3.5 -0.0l3.6 -0.0l3.5 -0.0l3.5 -0.0l3.6 -0.0l3.5 -0.0l3.6 -0.0l3.5 -0.0l3.6 -0.0l3.5 -0.0l3.5 -0.0l3.6 -0.0l3.5 -0.0l3.6 -0.0l3.5 -0.0l3.5 -0.0l3.6 -0.0l3.5 -0.0l3.6 -0.0l3.5 -0.0l3.6 -0.0l3.5 -0.0l3.5 -0.0l3.6 -0.0l3.5 -0.0l3.6 -0.0l3.5 -0.0l3.5 -0.0l3.6 -0.0l3.5 -0.0l3.6 -0.0l3.5 -0.0l3.6 -0.0l3.5 -0.0l3.5 -0.0l3.6 -0.0l3.5 -0.0l3.6 -0.0l3.5 -0.0" fill="none" stroke="#000" stroke-width="3.6" stroke-linejoin="round"/><path d="M169.1 94.0l0.5 8.8l0.5 8.6l0.4 8.4l0.5 8.3l0.5 8.0l0.4 8.0l0.5 7.7l0.5 7.6l0.4 7.5l0.5 7.3l0.5 7.1l0.4 7.0l0.5 6.9l0.5 6.7l0.4 6.5l0.5 6.5l0.5 6.3l0.4 6.2l0.5 6.0l0.5 6.0l0.4 5.8l0.5 5.7l0.5 5.6l0.4 5.4l0.5 5.4l0.5 5.2l0.5 5.2l0.4 5.0l0.5 4.9l0.5 4.9l0.4 4.7l0.5 4.6l0.5 4.6l0.4 4.4l0.5 4.4l0.5 4.2l0.4 4.2l0.5 4.1l0.5 4.0l0.4 4.0l0.5 3.8l0.5 3.8l0.4 3.7l0.5 3.6l0.5 3.5l0.4 3.5l0.5 3.4l0.5 3.4l0.4 3.2l0.5 3.2l0.5 3.1l0.4 3.1l0.5 3.0l0.5 3.0l0.4 2.9l0.5 2.8l0.5 2.8l0.4 2.7l0.5 2.6l0.5 2.6l0.4 2.6l0.5 2.5l0.5 2.4l0.4 2.4l0.5 2.4l0.5 2.3l0.4 2.2l0.5 2.2l0.5 2.2l0.4 2.1l0.5 2.1l0.5 2.0l0.4 2.0l0.5 2.0l0.5 1.9l0.4 1.8l0.5 1.9l0.5 1.8l0.4 1.7l0.5 1.8l0.5 1.6l0.4 1.7l0.5 1.6l0.5 1.6l0.4 1.6l0.5 1.5l0.5 1.5l0.4 1.4l0.5 1.5l0.5 1.4l0.5 1.3l0.4 1.4l0.5 1.3l0.5 1.3l0.4 1.3l0.5 1.2l0.5 1.2l0.4 1.2l0.5 1.2l0.5 1.1l0.4 1.1l0.5 1.1l0.5 1.1l0.4 1.1l0.5 1.0l0.5 1.0l0.4 1.0l0.5 1.0l0.5 0.9l0.4 0.9l0.5 0.9l0.5 0.9l0.4 0.9l0.5 0.9l0.5 0.8l0.4 0.8l0.5 0.8l0.5 0.8l0.4 0.8l0.5 0.7l1.0 1.6l3.5 5.0l3.5 4.3l3.6 3.7l3.5 3.1l3.6 2.7l3.5 2.3l3.6 2.0l3.5 1.7l3.5 1.4l3.6 1.3l3.5 1.0l3.6 0.9l3.5 0.8l3.5 0.7l3.6 0.5l3.5 0.5l3.6 0.4l3.5 0.4l3.5 0.3l3.6 0.2l3.5 0.3l3.6 0.1l3.5 0.2l3.6 0.1l3.5 0.2l3.5 0.1l3.6 0.1l3.5 0.0l3.6 0.1l3.5 0.0l3.5 0.1l3.6 0.0l3.5 0.1l3.6 -0.0l3.5 0.0l3.6 0.0l3.5 0.1l3.5 -0.0l3.6 -0.0l3.5 0.0l3.6 0.0l3.5 0.0l3.5 0.0l3.6 0.0l3.5 0.0l3.6 0.0l3.5 0.0l3.6 0.1l3.5 -0.0l3.5 -0.0l3.6 -0.0l3.5 -0.0l3.6 -0.0l3.5 -0.0l3.5 -0.0l3.6 -0.0l3.5 -0.0l3.6 -0.0l3.5 -0.0l3.6 -0.0l3.5 -0.0l3.5 -0.0l3.6 -0.0l3.5 -0.0l3.6 -0.0l3.5 -0.0l3.5 -0.0l3.6 -0.0l3.5 -0.0l3.6 -0.0l3.5 -0.0l3.5 -0.0l3.6 -0.0l3.5 -0.0l3.6 -0.0l3.5 -0.0l3.6 -0.0l3.5 -0.0l3.5 -0.0l3.6 -0.0l3.5 -0.0l3.6 -0.0l3.5 -0.0l3.5 -0.0l3.6 -0.0l3.5 -0.0l3.6 -0.0l3.5 -0.0l3.6 -0.0l3.5 -0.0l3.5 -0.0l3.6 -0.0l3.5 -0.0l3.6 -0.0l3.5 -0.0l3.5 -0.0l3.6 -0.0l3.5 -0.0l3.6 -0.0l3.5 -0.0l3.6 -0.0l3.5 -0.0l3.5 -0.0l3.6 -0.0l3.5 -0.0l3.6 -0.0l3.5 -0.0l3.5 -0.0l3.6 -0.0l3.5 -0.0l3.6 -0.0l3.5 -0.0l3.6 -0.0l3.5 -0.0l3.5 -0.0l3.6 -0.0l3.5 -0.0l3.6 -0.0l3.5 -0.0" fill="none" stroke="#000" stroke-width="3.6" stroke-linejoin="round"/><path d="M167.6 176.3l0.5 9.2l0.5 9.0l0.4 8.8l0.5 8.6l0.5 8.4l0.5 8.2l0.5 8.1l0.4 7.8l0.5 7.7l0.5 7.6l0.5 7.3l0.5 7.2l0.4 7.1l0.5 6.9l0.5 6.7l0.5 6.6l0.5 6.5l0.4 6.3l0.5 6.2l0.5 6.0l0.5 5.9l0.5 5.8l0.4 5.6l0.5 5.6l0.5 5.4l0.5 5.3l0.5 5.1l0.4 5.1l0.5 4.9l0.5 4.9l0.5 4.7l0.5 4.7l0.4 4.5l0.5 4.4l0.5 4.4l0.5 4.2l0.5 4.2l0.4 4.0l0.5 4.0l0.5 3.9l0.5 3.8l0.5 3.7l0.4 3.6l0.5 3.6l0.5 3.5l0.5 3.4l0.5 3.3l0.4 3.3l0.5 3.2l0.5 3.1l0.5 3.0l0.5 3.0l0.4 2.9l0.5 2.9l0.5 2.8l0.5 2.7l0.5 2.7l0.4 2.6l0.5 2.5l0.5 2.5l0.5 2.5l0.5 2.4l0.4 2.3l0.5 2.3l0.5 2.2l0.5 2.2l0.5 2.2l0.4 2.1l0.5 2.0l0.5 2.0l0.5 2.0l0.5 1.9l0.4 1.9l0.5 1.8l0.5 1.8l0.5 1.8l0.5 1.7l0.4 1.7l0.5 1.6l0.5 1.6l0.5 1.6l0.5 1.5l0.4 1.5l0.5 1.5l0.5 1.4l0.5 1.4l0.5 1.4l0.4 1.4l0.5 1.3l0.5 1.3l0.5 1.2l0.5 1.3l0.4 1.2l0.5 1.2l0.5 1.1l0.5 1.1l0.5 1.1l0.4 1.1l0.5 1.1l0.5 1.0l0.5 1.0l0.5 1.0l0.4 1.0l0.5 0.9l0.5 1.0l0.5 0.9l0.5 0.9l0.4 0.8l0.5 0.9l0.5 0.8l0.5 0.8l0.5 0.8l0.4 0.8l0.5 0.7l0.5 0.8l0.5 0.7l0.5 0.7l0.4 0.7l0.5 0.7l0.5 0.7l1.0 1.2l3.5 4.3l3.5 3.7l3.6 3.1l3.5 2.6l3.6 2.2l3.5 1.9l3.6 1.7l3.5 1.3l3.5 1.2l3.6 1.0l3.5 0.8l3.6 0.7l3.5 0.7l3.5 0.5l3.6 0.4l3.5 0.4l3.6 0.3l3.5 0.3l3.5 0.2l3.6 0.2l3.5 0.2l3.6 0.1l3.5 0.1l3.6 0.1l3.5 0.1l3.5 0.1l3.6 0.0l3.5 0.1l3.6 0.0l3.5 0.1l3.5 0.0l3.6 0.0l3.5 0.1l3.6 -0.0l3.5 0.0l3.6 0.0l3.5 0.0l3.5 0.0l3.6 0.0l3.5 0.1l3.6 -0.0l3.5 -0.0l3.5 -0.0l3.6 -0.0l3.5 -0.0l3.6 -0.0l3.5 -0.0l3.6 -0.0l3.5 -0.0l3.5 -0.0l3.6 -0.0l3.5 -0.0l3.6 -0.0l3.5 -0.0l3.5 -0.0l3.6 -0.0l3.5 -0.0l3.6 -0.0l3.5 -0.0l3.6 -0.0l3.5 -0.0l3.5 -0.0l3.6 -0.0l3.5 -0.0l3.6 -0.0l3.5 -0.0l3.5 -0.0l3.6 -0.0l3.5 -0.0l3.6 -0.0l3.5 -0.0l3.5 -0.0l3.6 -0.0l3.5 -0.0l3.6 -0.0l3.5 -0.0l3.6 -0.0l3.5 -0.0l3.5 -0.0l3.6 -0.0l3.5 -0.0l3.6 -0.0l3.5 -0.0l3.5 -0.0l3.6 -0.0l3.5 -0.0l3.6 -0.0l3.5 -0.0l3.6 -0.0l3.5 -0.0l3.5 -0.0l3.6 -0.0l3.5 -0.0l3.6 -0.0l3.5 -0.0l3.5 -0.0l3.6 -0.0l3.5 -0.0l3.6 -0.0l3.5 -0.0l3.6 -0.0l3.5 -0.0l3.5 -0.0l3.6 -0.0l3.5 -0.0l3.6 -0.0l3.5 -0.0l3.5 -0.0l3.6 -0.0l3.5 -0.0l3.6 -0.0l3.5 -0.0l3.6 -0.0l3.5 -0.0l3.5 -0.0l3.6 -0.0l3.5 -0.0l3.6 -0.0l3.5 -0.0" fill="none" stroke="#000" stroke-width="3.6" stroke-linejoin="round"/><path d="M167.6 310.0l0.5 13.6l0.5 13.1l0.4 12.5l0.5 12.1l0.5 11.6l0.5 11.2l0.5 10.8l0.4 10.3l0.5 9.9l0.5 9.6l0.5 9.2l0.5 8.8l0.4 8.6l0.5 8.1l0.5 7.9l0.5 7.6l0.5 7.3l0.4 7.0l0.5 6.7l0.5 6.5l0.5 6.2l0.5 6.0l0.4 5.8l0.5 5.5l0.5 5.4l0.5 5.1l0.5 4.9l0.4 4.8l0.5 4.6l0.5 4.4l0.5 4.2l0.5 4.0l0.4 3.9l0.5 3.8l0.5 3.6l0.5 3.5l0.5 3.3l0.4 3.3l0.5 3.1l0.5 2.9l0.5 2.9l0.5 2.8l0.4 2.6l0.5 2.6l0.5 2.4l0.5 2.4l0.5 2.2l0.4 2.2l0.5 2.1l0.5 2.0l0.5 2.0l0.5 1.8l0.4 1.8l0.5 1.8l0.5 1.6l0.5 1.6l0.5 1.6l0.4 1.4l0.5 1.5l0.5 1.3l0.5 1.3l0.5 1.3l0.4 1.2l0.5 1.2l0.5 1.1l0.5 1.1l0.5 1.0l0.4 1.0l0.5 1.0l0.5 0.9l0.5 0.9l0.5 0.9l0.4 0.8l0.5 0.8l0.5 0.8l0.5 0.7l0.5 0.7l0.4 0.7l0.5 0.6l0.5 0.7l0.5 0.6l0.5 0.5l0.4 0.6l0.5 0.5l0.5 0.6l0.5 0.5l0.5 0.4l0.4 0.5l0.5 0.4l0.5 0.5l0.5 0.4l0.5 0.4l0.4 0.3l0.5 0.4l0.5 0.4l0.5 0.3l0.5 0.3l0.4 0.3l0.5 0.3l0.5 0.3l0.5 0.3l0.5 0.3l0.4 0.2l0.5 0.3l0.5 0.2l0.5 0.2l0.5 0.3l0.4 0.2l0.5 0.2l0.5 0.2l0.5 0.2l0.5 0.1l0.4 0.2l0.5 0.2l0.5 0.1l0.5 0.2l0.5 0.1l0.4 0.2l0.5 0.1l0.5 0.2l1.0 0.2l3.5 0.8l3.5 0.6l3.6 0.4l3.5 0.3l3.6 0.3l3.5 0.1l3.6 0.2l3.5 0.1l3.5 0.1l3.6 0.0l3.5 0.1l3.6 -0.0l3.5 0.0l3.5 0.0l3.6 0.1l3.5 -0.0l3.6 -0.0l3.5 -0.0l3.5 -0.0l3.6 -0.0l3.5 -0.0l3.6 -0.0l3.5 -0.0l3.6 -0.0l3.5 -0.0l3.5 -0.0l3.6 -0.0l3.5 -0.0l3.6 -0.0l3.5 -0.0l3.5 -0.0l3.6 -0.0l3.5 -0.0l3.6 -0.0l3.5 -0.0l3.6 -0.0l3.5 -0.0l3.5 -0.0l3.6 -0.0l3.5 -0.0l3.6 -0.0l3.5 -0.0l3.5 -0.0l3.6 -0.0l3.5 -0.0l3.6 -0.0l3.5 -0.0l3.6 -0.0l3.5 -0.0l3.5 -0.0l3.6 -0.0l3.5 -0.0l3.6 -0.0l3.5 -0.0l3.5 -0.0l3.6 -0.0l3.5 -0.0l3.6 -0.0l3.5 -0.0l3.6 -0.0l3.5 -0.0l3.5 -0.0l3.6 -0.0l3.5 -0.0l3.6 -0.0l3.5 -0.0l3.5 -0.0l3.6 -0.0l3.5 -0.0l3.6 -0.0l3.5 -0.0l3.5 -0.0l3.6 -0.0l3.5 -0.0l3.6 -0.0l3.5 -0.0l3.6 -0.0l3.5 -0.0l3.5 -0.0l3.6 -0.0l3.5 -0.0l3.6 -0.0l3.5 -0.0l3.5 -0.0l3.6 -0.0l3.5 -0.0l3.6 -0.0l3.5 -0.0l3.6 -0.0l3.5 -0.0l3.5 -0.0l3.6 -0.0l3.5 -0.0l3.6 -0.0l3.5 -0.0l3.5 -0.0l3.6 -0.0l3.5 -0.0l3.6 -0.0l3.5 -0.0l3.6 -0.0l3.5 -0.0l3.5 -0.0l3.6 -0.0l3.5 -0.0l3.6 -0.0l3.5 -0.0l3.5 -0.0l3.6 -0.0l3.5 -0.0l3.6 -0.0l3.5 -0.0l3.6 -0.0l3.5 -0.0l3.5 -0.0l3.6 -0.0l3.5 -0.0l3.6 -0.0l3.5 -0.0" fill="none" stroke="#000" stroke-width="3.6" stroke-linejoin="round"/></g><line x1="263.6" y1="707.0" x2="263.6" y2="690.7" stroke="#5a5acc" stroke-width="1.5"/><line x1="263.6" y1="31.9" x2="263.6" y2="48.2" stroke="#5a5acc" stroke-width="1.5"/><line x1="359.6" y1="707.0" x2="359.6" y2="690.7" stroke="#5a5acc" stroke-width="1.5"/><line x1="359.6" y1="31.9" x2="359.6" y2="48.2" stroke="#5a5acc" stroke-width="1.5"/><line x1="455.6" y1="707.0" x2="455.6" y2="690.7" stroke="#5a5acc" stroke-width="1.5"/><line x1="455.6" y1="31.9" x2="455.6" y2="48.2" stroke="#5a5acc" stroke-width="1.5"/><line x1="551.6" y1="707.0" x2="551.6" y2="690.7" stroke="#5a5acc" stroke-width="1.5"/><line x1="551.6" y1="31.9" x2="551.6" y2="48.2" stroke="#5a5acc" stroke-width="1.5"/><line x1="647.6" y1="707.0" x2="647.6" y2="690.7" stroke="#5a5acc" stroke-width="1.5"/><line x1="647.6" y1="31.9" x2="647.6" y2="48.2" stroke="#5a5acc" stroke-width="1.5"/><line x1="167.6" y1="622.6" x2="183.9" y2="622.6" stroke="#5a5acc" stroke-width="1.5"/><line x1="743.6" y1="622.6" x2="727.3" y2="622.6" stroke="#5a5acc" stroke-width="1.5"/><line x1="167.6" y1="538.2" x2="183.9" y2="538.2" stroke="#5a5acc" stroke-width="1.5"/><line x1="743.6" y1="538.2" x2="727.3" y2="538.2" stroke="#5a5acc" stroke-width="1.5"/><line x1="167.6" y1="453.8" x2="183.9" y2="453.8" stroke="#5a5acc" stroke-width="1.5"/><line x1="743.6" y1="453.8" x2="727.3" y2="453.8" stroke="#5a5acc" stroke-width="1.5"/><line x1="167.6" y1="369.4" x2="183.9" y2="369.4" stroke="#5a5acc" stroke-width="1.5"/><line x1="743.6" y1="369.4" x2="727.3" y2="369.4" stroke="#5a5acc" stroke-width="1.5"/><line x1="167.6" y1="285.1" x2="183.9" y2="285.1" stroke="#5a5acc" stroke-width="1.5"/><line x1="743.6" y1="285.1" x2="727.3" y2="285.1" stroke="#5a5acc" stroke-width="1.5"/><line x1="167.6" y1="200.7" x2="183.9" y2="200.7" stroke="#5a5acc" stroke-width="1.5"/><line x1="743.6" y1="200.7" x2="727.3" y2="200.7" stroke="#5a5acc" stroke-width="1.5"/><line x1="167.6" y1="116.3" x2="183.9" y2="116.3" stroke="#5a5acc" stroke-width="1.5"/><line x1="743.6" y1="116.3" x2="727.3" y2="116.3" stroke="#5a5acc" stroke-width="1.5"/><rect x="167.6" y="31.9" width="576.0" height="675.1" fill="none" stroke="#0000c8" stroke-width="3.6"/><rect x="381.8" y="181.2" width="264.7" height="146.2" fill="#fff" stroke="#000" stroke-width="2.7"/><line x1="403.0" y1="215.5" x2="495.0" y2="215.5" stroke="#111111" stroke-width="1.1"/><line x1="403.0" y1="242.4" x2="495.0" y2="242.4" stroke="#1414d8" stroke-width="1.1"/><line x1="403.0" y1="269.2" x2="495.0" y2="269.2" stroke="#1c5e1c" stroke-width="1.1"/><line x1="403.0" y1="296.1" x2="495.0" y2="296.1" stroke="#e4127f" stroke-width="1.1"/><g clip-path="url(#cB)"><line x1="953.0" y1="696.0" x2="1480.0" y2="23.3" stroke="#0000c8" stroke-width="3.6"/></g><circle cx="1002.1" cy="641.2" r="15.5" fill="#0000c8"/><circle cx="1048.0" cy="556.4" r="15.5" fill="#0000c8"/><circle cx="1183.4" cy="408.0" r="15.5" fill="#0000c8"/><circle cx="1408.6" cy="111.2" r="15.5" fill="#0000c8"/><line x1="1048.2" y1="707.0" x2="1048.2" y2="690.7" stroke="#5a5acc" stroke-width="1.5"/><line x1="1048.2" y1="31.9" x2="1048.2" y2="48.2" stroke="#5a5acc" stroke-width="1.5"/><line x1="1138.4" y1="707.0" x2="1138.4" y2="690.7" stroke="#5a5acc" stroke-width="1.5"/><line x1="1138.4" y1="31.9" x2="1138.4" y2="48.2" stroke="#5a5acc" stroke-width="1.5"/><line x1="1228.6" y1="707.0" x2="1228.6" y2="690.7" stroke="#5a5acc" stroke-width="1.5"/><line x1="1228.6" y1="31.9" x2="1228.6" y2="48.2" stroke="#5a5acc" stroke-width="1.5"/><line x1="1318.8" y1="707.0" x2="1318.8" y2="690.7" stroke="#5a5acc" stroke-width="1.5"/><line x1="1318.8" y1="31.9" x2="1318.8" y2="48.2" stroke="#5a5acc" stroke-width="1.5"/><line x1="1409.0" y1="707.0" x2="1409.0" y2="690.7" stroke="#5a5acc" stroke-width="1.5"/><line x1="1409.0" y1="31.9" x2="1409.0" y2="48.2" stroke="#5a5acc" stroke-width="1.5"/><line x1="958.0" y1="622.6" x2="974.3" y2="622.6" stroke="#5a5acc" stroke-width="1.5"/><line x1="1499.2" y1="622.6" x2="1482.9" y2="622.6" stroke="#5a5acc" stroke-width="1.5"/><line x1="958.0" y1="538.2" x2="974.3" y2="538.2" stroke="#5a5acc" stroke-width="1.5"/><line x1="1499.2" y1="538.2" x2="1482.9" y2="538.2" stroke="#5a5acc" stroke-width="1.5"/><line x1="958.0" y1="453.8" x2="974.3" y2="453.8" stroke="#5a5acc" stroke-width="1.5"/><line x1="1499.2" y1="453.8" x2="1482.9" y2="453.8" stroke="#5a5acc" stroke-width="1.5"/><line x1="958.0" y1="369.4" x2="974.3" y2="369.4" stroke="#5a5acc" stroke-width="1.5"/><line x1="1499.2" y1="369.4" x2="1482.9" y2="369.4" stroke="#5a5acc" stroke-width="1.5"/><line x1="958.0" y1="285.1" x2="974.3" y2="285.1" stroke="#5a5acc" stroke-width="1.5"/><line x1="1499.2" y1="285.1" x2="1482.9" y2="285.1" stroke="#5a5acc" stroke-width="1.5"/><line x1="958.0" y1="200.7" x2="974.3" y2="200.7" stroke="#5a5acc" stroke-width="1.5"/><line x1="1499.2" y1="200.7" x2="1482.9" y2="200.7" stroke="#5a5acc" stroke-width="1.5"/><line x1="958.0" y1="116.3" x2="974.3" y2="116.3" stroke="#5a5acc" stroke-width="1.5"/><line x1="1499.2" y1="116.3" x2="1482.9" y2="116.3" stroke="#5a5acc" stroke-width="1.5"/><rect x="958.0" y="31.9" width="541.2" height="675.1" fill="none" stroke="#0000c8" stroke-width="3.6"/><g clip-path="url(#cR100)"><line x1="135.5" y1="1038.8" x2="711.8" y2="1038.8" stroke="#000" stroke-width="2.8"/><path d="M137.0 1038.8L148.6 1136.7" fill="none" stroke="#111" stroke-width="1"/><path d="M135.5 1015.2l0.5 8.4l0.5 8.7l0.4 10.1l0.5 2.1l0.5 6.4l0.5 -2.2l0.5 -4.0l0.4 11.1l0.5 2.0l0.5 -4.3l0.5 1.8l0.5 2.3l0.4 6.1l0.5 -3.9l0.5 -3.1l0.5 10.7l0.5 -4.3l0.4 7.6l0.5 -2.9l0.5 3.1l0.5 -8.0l0.5 5.4l0.4 -7.7l0.5 0.7l0.5 1.9l0.5 11.9l0.5 -10.0l0.4 -2.5l0.5 -0.8l0.5 8.3l0.5 -5.5l0.5 2.5l0.4 -1.0l0.5 -9.7l0.5 9.4l0.5 -4.2l0.5 -4.8l0.4 7.2l0.5 -2.6l0.5 24.5l0.5 -26.0l0.5 6.1l0.5 -7.3l0.4 -7.2l0.5 14.0l0.5 -13.1l0.5 2.9l0.5 2.9l0.4 -14.3l0.5 5.4l0.5 9.1l0.5 -7.3l0.5 -3.3l0.4 3.1l0.5 -5.2l0.5 3.0l0.5 -4.5l0.5 -4.7l0.4 10.0l0.5 -5.2l0.5 2.6l0.5 -3.7l0.5 5.9l0.4 -3.7l0.5 -2.7l0.5 -6.2l0.5 -2.0l0.5 11.9l0.4 -3.4l0.5 -8.0l0.5 12.8l0.5 -8.4l0.5 -2.4l0.4 -7.4l0.5 2.4l0.5 4.8l0.5 -0.1l0.5 -0.9l0.4 -9.3l0.5 9.6l0.5 -1.7l0.5 -1.8l0.5 0.9l0.4 -0.0l0.5 1.9l0.5 -2.8l0.5 0.8l0.5 -4.0l0.4 1.0l0.5 1.5l0.5 -1.8l0.5 2.2l0.5 -3.5l0.4 2.4l0.5 -1.6l0.5 4.3l0.5 -4.1l0.5 4.7l0.4 0.6l0.5 -4.2l0.5 1.2l0.5 -2.6l0.5 -5.1l0.4 7.1l0.5 -0.7l0.5 -2.1l0.5 -0.8l0.5 1.4l0.4 -0.0l0.5 -2.3l0.5 0.3l0.5 3.5l0.5 -2.3l0.4 -0.4l0.5 2.5l0.5 -3.2l0.5 2.6l0.5 -4.3l0.4 1.8l0.5 0.2l0.5 1.6l0.5 -1.1l0.5 4.4l0.5 -2.0l0.4 -3.5l0.5 5.9l0.5 -7.0l0.5 6.2l0.5 -5.9l0.4 3.8l0.5 -3.8l0.5 1.6l0.5 3.9l0.5 -6.5l0.4 -0.4l0.5 3.6l0.5 0.5l0.5 -0.2l0.5 2.0l0.4 -4.8l0.5 3.9l0.5 -1.1l0.5 1.8l0.5 -0.4l0.4 1.6l0.5 -5.9l0.5 3.4l0.5 -2.6l0.5 2.3l0.4 1.8l0.5 -0.8l0.5 0.6l0.5 -1.3l0.5 1.0l0.4 -0.2l0.5 2.6l0.5 -1.2l0.5 -5.8l0.5 5.6l0.4 0.9l0.5 -3.2l0.5 -2.5l0.5 6.9l0.5 -2.9l0.4 1.1l0.5 2.7l0.5 -5.8l0.5 1.9l0.5 -0.2l0.4 2.1l0.5 -2.8l0.5 2.4l0.5 -0.8l0.5 2.3l0.4 0.4l0.5 -5.9l0.5 4.4l0.5 -1.8l0.5 0.9l0.4 1.0l0.5 0.3l0.5 -2.6l0.5 2.3l0.5 -0.3l0.4 -0.3l0.5 -2.6l0.5 1.2l0.5 0.8l0.5 2.4l0.4 2.0l0.5 -5.4l0.5 -0.0l0.5 2.7l0.5 -1.6l0.4 -0.4l0.5 -0.1l0.5 -0.1l0.5 3.3l0.5 -4.6l0.5 6.5l0.4 -4.9l0.5 0.9l0.5 -0.8l0.5 -2.3l0.5 1.0l0.4 6.2l0.5 1.3l0.5 -5.8l0.5 4.3l0.5 -2.3l0.4 -2.0l0.5 5.9l0.5 1.2l0.5 -5.6l0.5 0.6l0.4 0.7l0.5 -0.6l0.5 2.1l0.5 1.6l0.5 -3.1l0.4 1.9l0.5 1.6l0.5 -5.0l0.5 1.4l0.5 -1.1l0.4 3.3l0.5 -0.7l0.5 0.8l0.5 -0.2l0.5 -2.5l0.4 2.3l0.5 -2.6l0.5 0.1l0.5 -4.0l0.5 8.1l0.4 -5.3l0.5 2.3l0.5 -0.1l0.5 3.4l0.5 -2.3l0.4 -2.8l0.5 1.9l0.5 -0.3l0.5 0.9l0.5 -3.4l0.4 2.8l0.5 5.2l0.5 -3.5l0.5 3.0l0.5 3.0l0.4 -6.3l0.5 -4.4l0.5 3.1l0.5 2.9l0.5 -0.6l0.4 -4.8l0.5 2.3l0.5 0.3l0.5 0.3l0.5 -0.2l0.4 -1.8l0.5 0.6l0.5 0.9l0.5 2.9l0.5 -3.6l0.4 2.9l0.5 -4.2l0.5 5.6l0.5 -2.7l0.5 -0.2l0.4 3.1l0.5 -7.2l0.5 0.7l0.5 4.5l0.5 -2.8l0.4 0.9l0.5 7.1l0.5 -6.7l0.5 0.7l0.5 -0.3l0.5 2.8l0.4 -1.9l0.5 -0.2l0.5 -3.2l0.5 2.0l0.5 0.8l0.4 -3.5l0.5 4.9l0.5 -0.4l0.5 3.4l0.5 -7.9l0.4 1.4l0.5 0.1l0.5 0.6l0.5 1.4l0.5 -0.2l0.4 1.1l0.5 -0.1l0.5 -0.6l0.5 -3.4l0.5 2.3l0.4 1.4l0.5 1.3l0.5 0.1l0.5 -5.2l0.5 2.6l0.4 1.1l0.5 0.9l0.5 1.9l0.5 -2.5l0.5 -2.2l0.4 3.1l0.5 -0.4l0.5 -0.0l0.5 -0.8l0.5 4.1l0.4 -3.2l0.5 1.5l0.5 -4.1l0.5 3.9l0.5 -3.1l0.4 -2.2l0.5 4.3l0.5 0.7l0.5 -1.8l0.5 0.5l0.4 2.3l0.5 -3.4l0.5 -3.6l0.5 5.4l0.5 -0.1l0.4 2.0l0.5 -3.2l0.5 3.7l0.5 -0.3l0.5 -5.6l0.4 5.2l0.5 -4.7l0.5 -1.0l0.5 3.0l0.5 -0.6l0.4 -3.3l0.5 5.1l0.5 0.9l0.5 1.9l0.5 -3.3l0.4 -3.4l0.5 1.3l0.5 4.5l0.5 -0.2l0.5 -0.8l0.4 -1.8l0.5 1.2l0.5 -1.0l0.5 -0.2l0.5 1.5l0.4 -0.6l0.5 -0.6l0.5 0.7l0.5 -1.3l0.5 -3.2l0.5 3.0l0.4 1.3l0.5 4.1l0.5 -4.8l0.5 5.5l0.5 -1.2l0.4 -5.3l0.5 0.3l0.5 2.1l0.5 3.7l0.5 -3.1l0.4 0.7l0.5 -3.1l0.5 -3.8l0.5 4.9l0.5 2.4l0.4 0.9l0.5 -2.6l0.5 0.3l0.5 2.3l0.5 -2.9l0.4 3.0l0.5 -5.3l0.5 0.1l0.5 0.0l0.5 3.7l0.4 -2.3l0.5 1.6l0.5 0.6l0.5 -0.1l0.5 2.3l0.4 0.4l0.5 -5.3l0.5 2.4l0.5 -0.9l0.5 -1.9l0.4 6.5l0.5 -2.2l0.5 -2.2l0.5 -0.5l0.5 1.9l0.4 -3.3l0.5 1.9l0.5 3.4l0.5 -0.6l0.5 -4.1l0.4 0.9l0.5 5.6l0.5 -7.6l0.5 1.8l0.5 -1.7l0.4 4.1l0.5 -0.2l0.5 2.0l0.5 -8.6l0.5 6.4l0.4 -4.1l0.5 5.3l0.5 -1.8l0.5 4.3l0.5 -2.9l0.4 -3.2l0.5 5.3l0.5 -5.4l0.5 1.7l0.5 3.3l0.4 -1.2l0.5 -0.1l0.5 -0.9l0.5 1.2l0.5 0.7l0.4 -1.1l0.5 1.7l0.5 0.7l0.5 -2.9l0.5 -2.2l0.4 5.8l0.5 -3.6l0.5 1.6l0.5 0.8l0.5 -4.3l0.5 3.3l0.4 -4.7l0.5 5.4l0.5 -2.7l0.5 1.5l0.5 1.3l0.4 -3.2l0.5 1.8l0.5 -1.7l0.5 1.6l0.5 2.4l0.4 -2.2l0.5 -0.4l0.5 -2.1l0.5 4.5l0.5 -2.0l0.4 4.0l0.5 -5.6l0.5 4.1l0.5 1.8l0.5 -4.1l0.4 -2.7l0.5 6.2l0.5 -1.0l0.5 -0.8l0.5 0.9l0.4 -3.5l0.5 2.8l0.5 -0.2l0.5 -3.0l0.5 3.2l0.4 -2.8l0.5 3.3l0.5 0.6l0.5 1.5l0.5 -8.7l0.4 5.1l0.5 -1.3l0.5 0.7l0.5 -0.5l0.5 0.3l0.4 -4.4l0.5 7.0l0.5 1.2l0.5 -1.2l0.5 0.7l0.4 -4.9l0.5 -0.1l0.5 4.2l0.5 1.0l0.5 -2.4l0.4 -4.1l0.5 9.9l0.5 -7.9l0.5 3.8l0.5 -5.0l0.4 5.0l0.5 -1.8l0.5 2.9l0.5 -1.3l0.5 -5.5l0.4 1.3l0.5 2.9l0.5 1.1l0.5 2.4l0.5 -3.5l0.4 -0.8l0.5 0.1l0.5 0.0l0.5 2.5l0.5 -2.5l0.4 -0.1l0.5 -3.1l0.5 -1.4l0.5 4.8l0.5 1.5l0.4 -1.7l0.5 1.3l0.5 0.3l0.5 -1.6l0.5 2.4l0.5 -3.9l0.4 1.7l0.5 -0.9l0.5 1.1l0.5 1.3l0.5 0.5l0.4 -1.7l0.5 0.8l0.5 -1.9l0.5 0.6l0.5 3.2l0.4 -3.4l0.5 3.4l0.5 -1.7l0.5 -0.8l0.5 4.2l0.4 -5.1l0.5 -0.1l0.5 0.7l0.5 0.6l0.5 -0.1l0.4 1.5l0.5 -1.7l0.5 0.7l0.5 -1.5l0.5 3.0l0.4 -3.4l0.5 0.3l0.5 0.6l0.5 0.7l0.5 -2.3l0.4 5.2l0.5 -5.0l0.5 0.5l0.5 -0.0l0.5 -0.3l0.4 2.5l0.5 -1.0l0.5 -2.1l0.5 0.5l0.5 0.6l0.4 4.0l0.5 -4.8l0.5 -1.5l0.5 0.4l0.5 1.8l0.4 4.2l0.5 -5.8l0.5 2.5l0.5 5.6l0.5 -6.8l0.4 4.4l0.5 -0.5l0.5 -1.5l0.5 -4.5l0.5 3.9l0.4 -1.5l0.5 -3.5l0.5 0.3l0.5 4.1l0.5 0.3l0.4 2.4l0.5 -1.4l0.5 -2.6l0.5 0.1l0.5 0.7l0.4 -2.1l0.5 4.1l0.5 -1.6l0.5 -1.9l0.5 0.3l0.4 -1.1l0.5 1.6l0.5 1.7l0.5 -1.6l0.5 3.2l0.4 1.5l0.5 -5.2l0.5 1.5l0.5 -0.9l0.5 4.7l0.5 -3.1l0.4 0.5l0.5 0.6l0.5 3.3l0.5 -4.5l0.5 -2.9l0.4 1.2l0.5 2.3l0.5 -1.4l0.5 -1.8l0.5 8.3l0.4 -6.3l0.5 -1.5l0.5 -0.4l0.5 -2.4l0.5 1.3l0.4 1.9l0.5 0.1l0.5 -1.2l0.5 3.1l0.5 -1.2l0.4 -2.2l0.5 -2.5l0.5 5.0l0.5 -0.3l0.5 -0.6l0.4 -2.7l0.5 3.2l0.5 -3.6l0.5 5.8l0.5 -1.9l0.4 0.0l0.5 -2.3l0.5 -0.7l0.5 6.0l0.5 -1.4l0.4 -3.0l0.5 2.4l0.5 2.0l0.5 -6.1l0.5 1.3l0.4 -0.0l0.5 2.2l0.5 -3.5l0.5 2.9l0.5 -3.1l0.4 4.7l0.5 -0.2l0.5 -2.5l0.5 2.1l0.5 -3.3l0.4 1.0l0.5 2.7l0.5 -2.3l0.5 0.9l0.5 -3.0l0.4 3.7l0.5 -0.5l0.5 -3.9l0.5 -2.5l0.5 0.6l0.4 4.5l0.5 -0.4l0.5 -3.1l0.5 3.9l0.5 1.9l0.4 -2.6l0.5 -0.8l0.5 3.0l0.5 1.9l0.5 -0.5l0.4 -5.0l0.5 3.3l0.5 -1.4l0.5 -0.9l0.5 -1.0l0.5 2.2l0.4 -2.0l0.5 3.3l0.5 -1.3l0.5 1.5l0.5 -5.1l0.4 2.7l0.5 1.7l0.5 -1.0l0.5 -0.3l0.5 -2.2l0.4 5.4l0.5 -1.4l0.5 -1.6l0.5 -6.9l0.5 3.7l0.4 2.5l0.5 -2.0l0.5 -3.2l0.5 5.3l0.5 0.3l0.4 -3.8l0.5 1.7l0.5 -0.5l0.5 2.7l0.5 -5.7l0.4 0.4l0.5 2.7l0.5 -0.4l0.5 6.4l0.5 -6.3l0.4 1.9l0.5 -1.6l0.5 -0.6l0.5 2.4l0.5 3.1l0.4 -4.9l0.5 2.6l0.5 -1.1l0.5 0.6l0.5 -0.6l0.4 4.5l0.5 -8.3l0.5 2.2l0.5 -2.1l0.5 -2.1l0.4 4.6l0.5 4.2l0.5 -2.2l0.5 0.7l0.5 -1.7l0.4 -1.4l0.5 4.8l0.5 -5.5l0.5 4.3l0.5 -4.3l0.4 0.9l0.5 0.4l0.5 -0.6l0.5 1.0l0.5 0.2l0.4 2.4l0.5 -3.9l0.5 -4.5l0.5 -0.3l0.5 1.5l0.4 1.4l0.5 3.2l0.5 -5.1l0.5 3.5l0.5 0.0l0.4 0.5l0.5 -1.0l0.5 1.2l0.5 -0.8l0.5 2.3l0.4 -1.7l0.5 -6.3l0.5 5.5l0.5 0.3l0.5 -1.8l0.5 -0.5l0.4 4.3l0.5 -2.2l0.5 -2.7l0.5 1.5l0.5 0.3l0.4 -3.4l0.5 5.2l0.5 -1.9l0.5 1.4l0.5 -4.7l0.4 8.0l0.5 -3.0l0.5 -0.4l0.5 -2.9l0.5 0.1l0.4 -1.9l0.5 7.0l0.5 -5.5l0.5 2.4l0.5 0.8l0.4 -2.9l0.5 3.4l0.5 2.7l0.5 -4.0l0.5 2.6l0.4 -2.1l0.5 -2.4l0.5 0.1l0.5 -3.0l0.5 4.1l0.4 3.1l0.5 -1.8l0.5 0.3l0.5 0.7l0.5 -4.0l0.4 2.5l0.5 3.1l0.5 -6.3l0.5 1.9l0.5 -1.2l0.4 0.6l0.5 -1.3l0.5 1.4l0.5 -2.9l0.5 1.9l0.4 0.0l0.5 -0.1l0.5 4.4l0.5 -3.1l0.5 0.2l0.4 -1.1l0.5 3.6l0.5 -7.1l0.5 3.6l0.5 3.1l0.4 1.1l0.5 -3.4l0.5 -0.5l0.5 1.5l0.5 -2.0l0.4 1.7l0.5 -2.8l0.5 3.0l0.5 -1.7l0.5 -2.4l0.4 -3.8l0.5 8.4l0.5 -1.3l0.5 0.9l0.5 -3.9l0.4 4.5l0.5 -1.6l0.5 -1.1l0.5 2.3l0.5 -0.1l0.4 -1.2l0.5 3.8l0.5 -1.5l0.5 -2.5l0.5 -1.3l0.5 0.7l0.4 3.7l0.5 -3.1l0.5 -3.0l0.5 0.6l0.5 1.4l0.4 1.9l0.5 -3.6l0.5 2.9l0.5 1.3l0.5 -0.9l0.4 -5.3l0.5 2.9l0.5 -2.2l0.5 3.8l0.5 -3.4l0.4 3.6l0.5 -1.0l0.5 -6.3l0.5 4.0l0.5 3.0l0.4 -1.0l0.5 -1.0l0.5 -2.1l0.5 4.0l0.5 2.9l0.4 -3.4l0.5 -0.7l0.5 -0.3l0.5 -2.8l0.5 2.3l0.4 -1.2l0.5 4.5l0.5 -4.7l0.5 -2.9l0.5 3.1l0.4 1.2l0.5 0.2l0.5 -3.8l0.5 6.4l0.5 -2.0l0.4 -1.4l0.5 -0.6l0.5 2.7l0.5 -1.7l0.5 1.3l0.4 -0.9l0.5 0.5l0.5 2.4l0.5 -2.7l0.5 -2.1l0.4 4.3l0.5 -1.7l0.5 -2.1l0.5 4.0l0.5 -2.9l0.4 2.9l0.5 -5.2l0.5 -2.8l0.5 0.7l0.5 5.2l0.4 -2.2l0.5 1.4l0.5 0.0l0.5 -3.4l0.5 6.8l0.4 -5.6l0.5 2.5l0.5 -3.4l0.5 2.9l0.5 2.0l0.4 -2.3l0.5 -1.1l0.5 1.7l0.5 -1.1l0.5 2.4l0.4 3.7l0.5 -7.1l0.5 0.4l0.5 1.3l0.5 0.2l0.5 -2.3l0.4 3.5l0.5 0.6l0.5 -1.2l0.5 -3.3l0.5 6.1l0.4 -6.1l0.5 4.3l0.5 1.1l0.5 -5.6l0.5 3.2l0.4 2.8l0.5 -2.2l0.5 -3.1l0.5 -0.6l0.5 3.8l0.4 -2.0l0.5 -0.7l0.5 3.2l0.5 -2.4l0.5 0.9l0.4 1.2l0.5 -0.1l0.5 -1.4l0.5 0.1l0.5 1.4l0.4 -0.3l0.5 -3.7l0.5 2.1l0.5 -1.6l0.5 -0.7l0.4 1.4l0.5 -3.9l0.5 7.2l0.5 -3.8l0.5 2.6l0.4 -5.1l0.5 0.3l0.5 8.6l0.5 -2.3l0.5 -3.8l0.4 -0.3l0.5 0.1l0.5 1.9l0.5 -1.3l0.5 -0.5l0.4 1.8l0.5 -2.7l0.5 7.8l0.5 -6.8l0.5 3.9l0.4 -4.7l0.5 2.8l0.5 1.5l0.5 -3.0l0.5 3.1l0.4 -0.1l0.5 1.6l0.5 -3.7l0.5 -1.2l0.5 -1.2l0.4 2.7l0.5 -2.8l0.5 2.4l0.5 0.3l0.5 -1.6l0.4 -1.2l0.5 3.3l0.5 -0.2l0.5 -0.2l0.5 -0.6l0.4 2.3l0.5 -4.5l0.5 3.3l0.5 -2.0l0.5 3.0l0.5 -2.8" fill="none" stroke="#111111" stroke-width="1.0" stroke-linejoin="bevel"/></g><line x1="231.6" y1="1112.0" x2="231.6" y2="1095.7" stroke="#5a5acc" stroke-width="1.5"/><line x1="231.6" y1="967.0" x2="231.6" y2="983.3" stroke="#5a5acc" stroke-width="1.5"/><line x1="327.6" y1="1112.0" x2="327.6" y2="1095.7" stroke="#5a5acc" stroke-width="1.5"/><line x1="327.6" y1="967.0" x2="327.6" y2="983.3" stroke="#5a5acc" stroke-width="1.5"/><line x1="423.6" y1="1112.0" x2="423.6" y2="1095.7" stroke="#5a5acc" stroke-width="1.5"/><line x1="423.6" y1="967.0" x2="423.6" y2="983.3" stroke="#5a5acc" stroke-width="1.5"/><line x1="519.7" y1="1112.0" x2="519.7" y2="1095.7" stroke="#5a5acc" stroke-width="1.5"/><line x1="519.7" y1="967.0" x2="519.7" y2="983.3" stroke="#5a5acc" stroke-width="1.5"/><line x1="615.8" y1="1112.0" x2="615.8" y2="1095.7" stroke="#5a5acc" stroke-width="1.5"/><line x1="615.8" y1="967.0" x2="615.8" y2="983.3" stroke="#5a5acc" stroke-width="1.5"/><line x1="135.5" y1="1003.2" x2="151.8" y2="1003.2" stroke="#5a5acc" stroke-width="1.5"/><line x1="711.8" y1="1003.2" x2="695.5" y2="1003.2" stroke="#5a5acc" stroke-width="1.5"/><line x1="135.5" y1="1039.5" x2="151.8" y2="1039.5" stroke="#5a5acc" stroke-width="1.5"/><line x1="711.8" y1="1039.5" x2="695.5" y2="1039.5" stroke="#5a5acc" stroke-width="1.5"/><line x1="135.5" y1="1075.8" x2="151.8" y2="1075.8" stroke="#5a5acc" stroke-width="1.5"/><line x1="711.8" y1="1075.8" x2="695.5" y2="1075.8" stroke="#5a5acc" stroke-width="1.5"/><rect x="135.5" y="967.0" width="576.3" height="145.0" fill="none" stroke="#0000c8" stroke-width="3.6"/><g clip-path="url(#cR500)"><line x1="907.2" y1="1039.5" x2="1485.6" y2="1039.5" stroke="#000" stroke-width="2.8"/><path d="M907.2 1040.1l0.5 8.4l0.5 -0.9l0.4 15.3l0.5 4.7l0.5 16.6l0.5 -1.8l0.5 -12.5l0.5 33.9l0.4 -15.4l0.5 -7.3l0.5 15.8l0.5 -6.1l0.5 18.7l0.4 -29.6l0.5 3.4l0.5 11.2l0.5 24.4l0.5 -11.2l0.5 -28.6l0.4 -12.6l0.5 14.9l0.5 -14.2l0.5 22.1l0.5 -6.6l0.5 -3.5l0.5 -6.4l0.5 23.7l0.5 -32.7l0.5 -6.3l0.5 29.8l0.4 0.9l0.5 -23.4l0.5 10.7l0.5 19.5l0.5 -43.4l0.5 4.5l0.4 3.8l0.5 -37.0l0.5 21.3l0.5 8.5l0.5 -12.3l0.4 4.7l0.5 -3.4l0.5 -8.2l0.5 4.0l0.5 -2.0l0.5 -13.6l0.4 3.6l0.5 -0.9l0.5 0.5l0.5 -0.8l0.5 -6.6l0.4 7.6l0.5 -11.8l0.5 15.5l0.5 -4.8l0.5 5.8l0.5 -6.6l0.4 -5.6l0.5 -6.1l0.5 11.7l0.5 -4.5l0.5 1.7l0.4 1.8l0.5 2.3l0.5 -7.3l0.5 10.7l0.5 -10.0l0.5 1.7l0.4 5.3l0.5 3.6l0.5 3.7l0.5 -17.4l0.5 19.9l0.5 -15.9l0.4 6.1l0.5 5.9l0.5 4.9l0.5 -12.5l0.5 -3.7l0.4 15.1l0.5 -3.1l0.5 -6.9l0.5 4.0l0.5 -8.6l0.5 13.7l0.4 -5.7l0.5 9.6l0.5 -17.5l0.5 15.0l0.5 7.9l0.4 -10.8l0.5 0.1l0.5 -10.7l0.5 12.0l0.5 -1.7l0.5 -3.1l0.4 -5.2l0.5 8.7l0.5 -5.7l0.5 2.8l0.5 4.3l0.4 -2.0l0.5 0.3l0.5 5.0l0.5 -11.2l0.5 13.7l0.5 -13.4l0.4 1.2l0.5 5.5l0.5 3.5l0.5 -2.8l0.5 -3.6l0.4 -1.4l0.5 2.4l0.5 -3.7l0.5 8.1l0.5 -4.1l0.5 9.5l0.4 -12.3l0.5 3.3l0.5 3.0l0.5 -8.3l0.5 2.5l0.5 18.4l0.4 -15.0l0.5 7.9l0.5 -13.3l0.5 -7.4l0.5 15.8l0.4 -3.1l0.5 1.7l0.5 -3.1l0.5 -1.5l0.5 -3.4l0.5 12.0l0.4 -13.5l0.5 13.2l0.5 -6.3l0.5 -4.6l0.5 2.4l0.4 8.7l0.5 -1.2l0.5 -1.3l0.5 -2.1l0.5 -6.2l0.5 12.8l0.4 -9.2l0.5 -0.7l0.5 0.3l0.5 0.6l0.5 -5.5l0.4 5.5l0.5 -1.9l0.5 1.6l0.5 -6.4l0.5 19.5l0.5 -16.7l0.4 8.2l0.5 0.1l0.5 3.7l0.5 4.8l0.5 -7.7l0.4 1.6l0.5 -6.1l0.5 10.4l0.5 -15.2l0.5 6.2l0.5 2.8l0.4 2.5l0.5 0.4l0.5 1.9l0.5 -3.0l0.5 -2.8l0.5 1.0l0.4 6.6l0.5 -6.0l0.5 3.4l0.5 -5.5l0.5 -8.9l0.4 6.6l0.5 5.0l0.5 6.9l0.5 -1.0l0.5 1.4l0.5 -12.6l0.4 7.9l0.5 -4.3l0.5 3.6l0.5 -3.7l0.5 -6.8l0.4 11.0l0.5 -1.8l0.5 2.5l0.5 -8.8l0.5 10.0l0.5 0.6l0.4 1.4l0.5 0.1l0.5 -9.8l0.5 -11.0l0.5 18.7l0.4 -10.2l0.5 3.8l0.5 7.1l0.5 -4.3l0.5 -0.2l0.5 2.4l0.4 -13.7l0.5 20.2l0.5 -12.0l0.5 0.3l0.5 4.8l0.4 -3.8l0.5 -3.8l0.5 3.8l0.5 -1.3l0.5 -1.4l0.5 14.3l0.4 -18.4l0.5 -4.2l0.5 6.9l0.5 -0.2l0.5 12.8l0.5 -6.8l0.4 3.7l0.5 -1.2l0.5 -8.1l0.5 9.3l0.5 -3.5l0.4 9.4l0.5 -9.2l0.5 -1.3l0.5 4.2l0.5 0.1l0.5 -13.6l0.4 16.3l0.5 -0.9l0.5 -1.2l0.5 -10.5l0.5 -4.8l0.4 9.4l0.5 5.5l0.5 -1.5l0.5 -7.8l0.5 10.4l0.5 -12.4l0.4 0.2l0.5 7.1l0.5 -3.0l0.5 -0.5l0.5 -4.2l0.4 13.7l0.5 -11.7l0.5 8.2l0.5 2.0l0.5 -4.5l0.5 1.7l0.4 4.1l0.5 3.2l0.5 -3.4l0.5 -12.6l0.5 -2.7l0.4 7.0l0.5 -2.8l0.5 8.9l0.5 -2.3l0.5 -1.8l0.5 7.1l0.4 -0.4l0.5 -5.7l0.5 2.2l0.5 3.9l0.5 -7.6l0.5 3.4l0.4 -6.7l0.5 5.4l0.5 1.6l0.5 -2.2l0.5 1.6l0.4 2.6l0.5 -1.4l0.5 -6.0l0.5 0.5l0.5 -3.3l0.5 15.6l0.4 -6.8l0.5 0.2l0.5 -3.1l0.5 3.3l0.5 0.3l0.4 -6.8l0.5 3.2l0.5 7.1l0.5 -13.1l0.5 1.8l0.5 8.3l0.4 -7.4l0.5 8.2l0.5 -9.7l0.5 7.0l0.5 3.1l0.4 -2.2l0.5 2.1l0.5 -5.0l0.5 0.1l0.5 0.7l0.5 3.1l0.4 16.4l0.5 -19.7l0.5 10.4l0.5 -11.2l0.5 -4.6l0.4 4.5l0.5 3.5l0.5 -1.1l0.5 -0.2l0.5 2.2l0.5 0.2l0.4 1.8l0.5 -11.1l0.5 6.3l0.5 -5.1l0.5 6.4l0.4 -1.7l0.5 1.3l0.5 -3.3l0.5 -1.9l0.5 3.1l0.5 4.8l0.4 0.6l0.5 -12.8l0.5 10.2l0.5 0.1l0.5 -9.2l0.5 1.9l0.4 3.0l0.5 4.9l0.5 -14.5l0.5 10.4l0.5 -0.8l0.4 3.7l0.5 6.6l0.5 -0.4l0.5 -9.1l0.5 0.0l0.5 3.4l0.4 4.9l0.5 1.4l0.5 -5.8l0.5 5.9l0.5 -12.3l0.4 -1.4l0.5 -8.8l0.5 10.3l0.5 7.7l0.5 1.5l0.5 13.6l0.4 -15.0l0.5 -2.2l0.5 -6.0l0.5 1.9l0.5 0.1l0.4 2.0l0.5 -2.4l0.5 -4.1l0.5 13.2l0.5 -3.1l0.5 4.9l0.4 -15.8l0.5 1.7l0.5 2.8l0.5 10.3l0.5 -7.2l0.5 2.1l0.4 -1.6l0.5 1.4l0.5 -3.7l0.5 4.8l0.5 -6.6l0.4 3.3l0.5 2.8l0.5 -1.0l0.5 1.8l0.5 -6.6l0.5 5.7l0.4 -3.0l0.5 3.6l0.5 5.8l0.5 -12.6l0.5 10.3l0.4 -9.1l0.5 1.4l0.5 10.9l0.5 -3.7l0.5 -2.3l0.5 1.6l0.4 1.9l0.5 -10.1l0.5 5.2l0.5 -3.3l0.5 4.3l0.4 -3.9l0.5 5.5l0.5 -3.8l0.5 -3.2l0.5 2.9l0.5 2.6l0.4 3.3l0.5 -6.6l0.5 -0.9l0.5 3.1l0.5 2.7l0.4 -6.9l0.5 -10.2l0.5 14.7l0.5 -3.4l0.5 -0.2l0.5 15.4l0.4 -14.1l0.5 4.4l0.5 -11.0l0.5 8.6l0.5 2.7l0.5 -2.9l0.5 -2.1l0.5 3.9l0.5 -2.7l0.5 6.8l0.5 -5.9l0.4 -5.3l0.5 -6.3l0.5 6.7l0.5 2.2l0.5 -4.8l0.5 0.9l0.4 -3.4l0.5 3.0l0.5 6.3l0.5 -1.9l0.5 0.4l0.4 -0.7l0.5 0.5l0.5 5.2l0.5 6.9l0.5 -7.5l0.5 7.1l0.4 -11.0l0.5 0.3l0.5 8.8l0.5 -12.4l0.5 -1.0l0.4 4.1l0.5 -8.3l0.5 -1.1l0.5 16.2l0.5 -11.8l0.5 3.1l0.4 0.1l0.5 -2.7l0.5 8.7l0.5 -0.7l0.5 1.2l0.4 -0.4l0.5 -3.4l0.5 7.1l0.5 -2.2l0.5 -8.5l0.5 3.4l0.4 -2.4l0.5 11.9l0.5 -5.8l0.5 -1.2l0.5 -3.1l0.5 3.2l0.4 -8.0l0.5 5.2l0.5 -0.4l0.5 0.0l0.5 -3.7l0.4 6.2l0.5 -8.4l0.5 3.5l0.5 1.6l0.5 0.6l0.5 -2.6l0.4 -2.6l0.5 0.4l0.5 3.0l0.5 -2.7l0.5 4.0l0.4 -6.0l0.5 6.7l0.5 10.8l0.5 -18.0l0.5 6.5l0.5 6.7l0.4 -5.1l0.5 3.6l0.5 -15.7l0.5 8.4l0.5 10.8l0.4 -11.1l0.5 4.9l0.5 -12.1l0.5 15.5l0.5 6.3l0.5 -12.2l0.4 2.2l0.5 0.3l0.5 9.1l0.5 -13.5l0.5 -6.6l0.4 18.8l0.5 -16.2l0.5 9.2l0.5 -15.4l0.5 10.1l0.5 3.2l0.4 -6.8l0.5 3.0l0.5 5.9l0.5 -6.8l0.5 6.4l0.5 6.7l0.5 -20.1l0.5 12.5l0.5 1.3l0.5 -5.0l0.5 10.0l0.4 -1.1l0.5 -4.5l0.5 0.1l0.5 -3.1l0.5 -5.6l0.5 8.4l0.4 -5.1l0.5 -0.6l0.5 8.9l0.5 -6.9l0.5 6.1l0.4 -10.5l0.5 3.2l0.5 2.2l0.5 7.2l0.5 -7.7l0.5 4.6l0.4 -7.7l0.5 4.3l0.5 3.6l0.5 -9.1l0.5 1.1l0.4 6.9l0.5 -9.3l0.5 7.7l0.5 0.0l0.5 -2.2l0.5 4.5l0.4 -1.6l0.5 -1.5l0.5 -8.9l0.5 0.2l0.5 9.2l0.4 -9.8l0.5 8.7l0.5 -2.3l0.5 -2.6l0.5 3.1l0.5 -11.2l0.4 11.4l0.5 7.6l0.5 -13.2l0.5 9.0l0.5 -0.5l0.4 14.1l0.5 -21.0l0.5 1.0l0.5 0.0l0.5 -0.9l0.5 -3.8l0.4 9.2l0.5 -5.2l0.5 8.8l0.5 -2.0l0.5 -7.4l0.5 3.5l0.4 9.0l0.5 -8.9l0.5 2.9l0.5 3.3l0.5 -6.6l0.4 4.4l0.5 6.1l0.5 -2.4l0.5 -15.1l0.5 17.3l0.5 -9.2l0.4 -2.0l0.5 -0.2l0.5 9.8l0.5 -4.7l0.5 -2.5l0.4 -3.4l0.5 7.6l0.5 2.7l0.5 -11.4l0.5 -0.5l0.5 3.9l0.4 5.1l0.5 -5.3l0.5 1.5l0.5 -3.8l0.5 11.0l0.4 -7.2l0.5 1.5l0.5 5.0l0.5 -7.0l0.5 0.9l0.5 2.4l0.4 -4.2l0.5 9.5l0.5 -7.2l0.5 -2.5l0.5 0.8l0.5 -4.2l0.4 12.0l0.5 1.6l0.5 -9.2l0.5 -1.1l0.5 -8.7l0.4 7.9l0.5 7.8l0.5 -8.8l0.5 8.7l0.5 3.3l0.5 -21.5l0.4 12.0l0.5 -2.0l0.5 0.8l0.5 -6.5l0.5 8.0l0.4 -4.9l0.5 11.8l0.5 1.9l0.5 -14.8l0.5 -0.2l0.5 5.1l0.4 1.5l0.5 0.3l0.5 4.5l0.5 -11.7l0.5 4.6l0.4 0.8l0.5 0.7l0.5 -3.5l0.5 2.9l0.5 -1.3l0.5 10.1l0.4 -8.8l0.5 -8.8l0.5 14.2l0.5 -2.0l0.5 -5.4l0.4 -0.3l0.5 1.8l0.5 11.8l0.5 -11.2l0.5 8.9l0.5 -1.9l0.4 -7.2l0.5 4.5l0.5 -5.8l0.5 -12.3l0.5 12.5l0.5 0.3l0.5 8.5l0.5 -1.3l0.5 2.2l0.5 -2.8l0.5 3.0l0.4 -2.3l0.5 -2.4l0.5 4.2l0.5 2.2l0.5 -0.3l0.5 -9.5l0.4 2.1l0.5 -5.1l0.5 -0.0l0.5 7.2l0.5 -5.3l0.4 11.2l0.5 -19.6l0.5 5.7l0.5 7.5l0.5 5.0l0.5 -8.1l0.4 11.8l0.5 -5.7l0.5 -8.0l0.5 3.5l0.5 3.0l0.4 -7.6l0.5 10.5l0.5 -6.9l0.5 4.1l0.5 1.8l0.5 -6.8l0.4 7.6l0.5 -15.2l0.5 13.1l0.5 -13.5l0.5 16.2l0.4 -8.9l0.5 9.5l0.5 0.8l0.5 -7.9l0.5 -2.7l0.5 10.2l0.4 -12.9l0.5 10.5l0.5 -4.9l0.5 -1.3l0.5 -1.1l0.4 12.6l0.5 -18.0l0.5 5.6l0.5 5.2l0.5 3.2l0.5 3.5l0.4 -1.7l0.5 -10.1l0.5 4.7l0.5 4.2l0.5 -3.2l0.5 -11.0l0.4 10.0l0.5 1.4l0.5 -10.2l0.5 4.7l0.5 2.2l0.4 3.4l0.5 5.0l0.5 -2.0l0.5 -3.6l0.5 -1.4l0.5 -3.0l0.4 -1.0l0.5 1.7l0.5 0.1l0.5 6.4l0.5 6.1l0.4 -8.6l0.5 2.3l0.5 -1.6l0.5 -2.0l0.5 5.1l0.5 -0.7l0.4 -5.3l0.5 -1.1l0.5 4.1l0.5 -6.1l0.5 3.8l0.4 4.2l0.5 -5.6l0.5 -9.6l0.5 13.4l0.5 -9.7l0.5 -1.1l0.4 -0.6l0.5 12.2l0.5 -14.9l0.5 10.0l0.5 2.0l0.5 -0.2l0.4 -4.3l0.5 2.9l0.5 1.2l0.5 -7.7l0.5 10.5l0.4 1.7l0.5 -9.6l0.5 0.5l0.5 -2.1l0.5 11.4l0.5 -11.3l0.4 3.1l0.5 -6.7l0.5 15.8l0.5 -7.7l0.5 2.6l0.4 6.9l0.5 -4.5l0.5 -9.7l0.5 8.4l0.5 1.3l0.5 -8.4l0.4 -0.6l0.5 0.0l0.5 9.4l0.5 -3.9l0.5 -5.7l0.4 8.8l0.5 0.5l0.5 -8.3l0.5 -3.8l0.5 14.3l0.5 7.6l0.4 -6.1l0.5 -2.3l0.5 -4.6l0.5 -3.9l0.5 4.0l0.4 2.9l0.5 -4.5l0.5 5.9l0.5 -4.9l0.5 3.2l0.5 -17.5l0.4 9.8l0.5 8.7l0.5 0.8l0.5 -2.9l0.5 6.3l0.4 -4.8l0.5 0.1l0.5 -8.6l0.5 6.9l0.5 1.9l0.5 2.9l0.4 -0.8l0.5 -5.9l0.5 0.8l0.5 -7.1l0.5 9.3l0.5 -8.9l0.4 4.2l0.5 1.4l0.5 10.5l0.5 -3.7l0.5 -10.7l0.4 -3.5l0.5 6.3l0.5 -2.9l0.5 6.1l0.5 -0.2l0.5 1.6l0.4 -8.6l0.5 3.3l0.5 3.0l0.5 0.5l0.5 -4.6l0.4 1.2l0.5 6.0l0.5 -13.3l0.5 7.6l0.5 1.3l0.5 -7.7l0.4 2.4l0.5 5.8l0.5 -3.2l0.5 8.4l0.5 -2.3l0.4 8.5l0.5 -18.3l0.5 16.4l0.5 -13.5l0.5 7.9l0.5 0.8l0.4 -4.1l0.5 -2.4l0.5 -1.9l0.5 -6.1l0.5 7.5l0.5 -2.8l0.4 7.8l0.5 -6.9l0.5 2.9l0.5 3.3l0.5 -2.0l0.4 -0.1l0.5 -1.4l0.5 -1.1l0.5 4.8l0.5 1.2l0.5 -7.8l0.4 12.8l0.5 -5.6l0.5 -11.4l0.5 22.3l0.5 -10.5l0.4 -7.3l0.5 12.3l0.5 -22.4l0.5 27.3l0.5 -21.2l0.5 -0.6l0.4 3.4l0.5 6.0l0.5 -3.1l0.5 6.6l0.5 -9.0l0.4 10.2l0.5 -4.5l0.5 -6.7l0.5 11.1l0.5 -3.9l0.5 -2.8l0.4 7.9l0.5 -13.2l0.5 4.4l0.5 9.7l0.5 -7.7l0.4 3.8l0.5 -0.6l0.5 -3.9l0.5 4.2l0.5 -8.8l0.5 8.7l0.4 -8.8l0.5 5.3l0.5 -4.7l0.5 7.4l0.5 -0.2l0.5 3.4l0.5 -9.1l0.5 -1.9l0.5 -6.3l0.5 4.4l0.5 5.5l0.4 2.4l0.5 -3.2l0.5 2.2l0.5 -7.8l0.5 2.7l0.5 9.3l0.4 -0.7l0.5 -10.8l0.5 5.5l0.5 2.8l0.5 -7.4l0.4 8.3l0.5 -0.6l0.5 0.9l0.5 7.9l0.5 -14.8l0.5 10.8l0.4 -3.3l0.5 0.9l0.5 -7.8l0.5 4.2l0.5 -0.4l0.4 8.9l0.5 -8.4l0.5 7.3l0.5 -9.4l0.5 -0.3l0.5 2.0l0.4 -10.8l0.5 7.9l0.5 -0.3l0.5 2.3l0.5 1.8l0.4 -6.1l0.5 -0.7l0.5 12.6l0.5 -12.4l0.5 2.9l0.5 -2.4l0.4 2.6l0.5 9.0l0.5 -0.4l0.5 -15.8l0.5 8.3l0.4 8.7l0.5 -9.2l0.5 3.7l0.5 7.8l0.5 2.3l0.5 -3.6l0.4 -9.9l0.5 1.7l0.5 1.0l0.5 -2.8l0.5 -1.6l0.5 14.2l0.4 -9.5l0.5 2.7l0.5 2.2l0.5 -3.6l0.5 -2.3l0.4 0.8l0.5 6.2l0.5 -5.1l0.5 -13.2l0.5 16.2l0.5 3.3l0.4 -10.3l0.5 -1.7l0.5 0.6" fill="none" stroke="#1c5e1c" stroke-width="1.0" stroke-linejoin="bevel"/></g><line x1="1003.6" y1="1111.6" x2="1003.6" y2="1095.3" stroke="#5a5acc" stroke-width="1.5"/><line x1="1003.6" y1="966.6" x2="1003.6" y2="982.9" stroke="#5a5acc" stroke-width="1.5"/><line x1="1100.0" y1="1111.6" x2="1100.0" y2="1095.3" stroke="#5a5acc" stroke-width="1.5"/><line x1="1100.0" y1="966.6" x2="1100.0" y2="982.9" stroke="#5a5acc" stroke-width="1.5"/><line x1="1196.4" y1="1111.6" x2="1196.4" y2="1095.3" stroke="#5a5acc" stroke-width="1.5"/><line x1="1196.4" y1="966.6" x2="1196.4" y2="982.9" stroke="#5a5acc" stroke-width="1.5"/><line x1="1292.8" y1="1111.6" x2="1292.8" y2="1095.3" stroke="#5a5acc" stroke-width="1.5"/><line x1="1292.8" y1="966.6" x2="1292.8" y2="982.9" stroke="#5a5acc" stroke-width="1.5"/><line x1="1389.2" y1="1111.6" x2="1389.2" y2="1095.3" stroke="#5a5acc" stroke-width="1.5"/><line x1="1389.2" y1="966.6" x2="1389.2" y2="982.9" stroke="#5a5acc" stroke-width="1.5"/><line x1="907.2" y1="1002.8" x2="923.5" y2="1002.8" stroke="#5a5acc" stroke-width="1.5"/><line x1="1485.6" y1="1002.8" x2="1469.3" y2="1002.8" stroke="#5a5acc" stroke-width="1.5"/><line x1="907.2" y1="1039.1" x2="923.5" y2="1039.1" stroke="#5a5acc" stroke-width="1.5"/><line x1="1485.6" y1="1039.1" x2="1469.3" y2="1039.1" stroke="#5a5acc" stroke-width="1.5"/><line x1="907.2" y1="1075.3" x2="923.5" y2="1075.3" stroke="#5a5acc" stroke-width="1.5"/><line x1="1485.6" y1="1075.3" x2="1469.3" y2="1075.3" stroke="#5a5acc" stroke-width="1.5"/><rect x="907.2" y="966.6" width="578.4" height="145.0" fill="none" stroke="#0000c8" stroke-width="3.6"/><g clip-path="url(#cR200)"><line x1="146.2" y1="1304.7" x2="724.8" y2="1304.7" stroke="#000" stroke-width="2.8"/><path d="M146.2 1285.4l0.5 14.0l0.5 2.5l0.4 12.1l0.5 -6.9l0.5 16.3l0.5 24.3l0.5 2.9l0.5 -3.8l0.4 8.6l0.5 4.2l0.5 7.0l0.5 18.9l0.5 -15.2l0.5 23.2l0.4 -26.5l0.5 13.0l0.5 0.7l0.5 -5.1l0.5 -5.8l0.4 17.1l0.5 1.5l0.5 -9.7l0.5 8.1l0.5 -14.0l0.5 -30.2l0.4 25.5l0.5 -21.8l0.5 18.6l0.5 -21.2l0.5 4.1l0.4 -4.8l0.5 -8.5l0.5 -14.4l0.5 15.3l0.5 -1.0l0.5 9.7l0.4 -19.7l0.5 5.3l0.5 -15.6l0.5 5.4l0.5 -23.1l0.5 37.0l0.4 -21.2l0.5 -15.6l0.5 10.6l0.5 2.4l0.5 -7.7l0.4 10.5l0.5 -16.7l0.5 -13.7l0.5 6.0l0.5 11.2l0.5 -2.2l0.4 -3.3l0.5 -8.4l0.5 9.2l0.5 -1.2l0.5 -9.0l0.4 -0.2l0.5 6.4l0.5 3.8l0.5 2.2l0.5 -4.8l0.5 8.1l0.4 -16.3l0.5 7.3l0.5 -6.1l0.5 -7.6l0.5 3.6l0.5 12.5l0.4 -11.0l0.5 -1.7l0.5 10.3l0.5 1.1l0.5 -4.6l0.4 8.0l0.5 -16.5l0.5 21.0l0.5 -6.9l0.5 -4.4l0.5 0.0l0.4 -1.8l0.5 -0.3l0.5 2.9l0.5 -7.0l0.5 18.1l0.4 -11.2l0.5 4.2l0.5 -4.2l0.5 -0.1l0.5 6.4l0.5 -1.1l0.4 -7.4l0.5 2.7l0.5 5.8l0.5 -14.4l0.5 -1.3l0.5 20.6l0.4 -9.3l0.5 -11.7l0.5 9.6l0.5 3.2l0.5 2.6l0.4 2.0l0.5 -1.6l0.5 2.1l0.5 -6.8l0.5 6.4l0.5 0.4l0.4 4.3l0.5 -6.0l0.5 4.7l0.5 -3.6l0.5 -6.5l0.4 3.9l0.5 -0.6l0.5 0.9l0.5 1.8l0.5 1.1l0.5 1.1l0.4 -4.0l0.5 6.1l0.5 -7.7l0.5 4.3l0.5 2.7l0.5 -0.7l0.4 0.7l0.5 -2.6l0.5 2.9l0.5 -5.9l0.5 6.3l0.4 5.0l0.5 -4.9l0.5 4.2l0.5 -6.3l0.5 -3.5l0.5 1.4l0.4 6.6l0.5 -1.8l0.5 -8.2l0.5 4.9l0.5 1.1l0.4 -3.4l0.5 -4.4l0.5 3.8l0.5 3.8l0.5 -0.6l0.5 -0.8l0.4 4.1l0.5 1.5l0.5 -3.5l0.5 3.3l0.5 -2.8l0.5 -0.4l0.4 -7.2l0.5 10.4l0.5 -2.3l0.5 0.2l0.5 -1.8l0.4 -1.9l0.5 5.0l0.5 1.2l0.5 2.7l0.5 -2.2l0.5 -4.7l0.4 1.7l0.5 3.5l0.5 -2.0l0.5 -1.2l0.5 -1.5l0.5 3.6l0.4 -1.0l0.5 5.2l0.5 -2.1l0.5 -8.9l0.5 12.4l0.4 -6.0l0.5 -1.7l0.5 2.0l0.5 1.5l0.5 -2.4l0.5 -0.1l0.4 0.3l0.5 5.9l0.5 -5.5l0.5 2.3l0.5 -0.9l0.4 -2.4l0.5 -1.3l0.5 -0.8l0.5 4.6l0.5 -4.5l0.5 -0.7l0.4 0.1l0.5 -0.7l0.5 5.0l0.5 0.2l0.5 -3.2l0.5 7.2l0.4 -5.0l0.5 2.5l0.5 -0.5l0.5 4.5l0.5 -2.6l0.4 -2.8l0.5 -2.9l0.5 -0.2l0.5 3.5l0.5 0.5l0.5 2.2l0.4 -4.0l0.5 2.2l0.5 -2.7l0.5 -3.6l0.5 5.9l0.4 4.8l0.5 -2.0l0.5 2.1l0.5 -0.8l0.5 -8.0l0.5 3.6l0.4 5.7l0.5 -7.0l0.5 -1.9l0.5 5.4l0.5 1.1l0.5 -1.1l0.4 -1.9l0.5 -1.1l0.5 -1.7l0.5 -0.0l0.5 0.1l0.4 -0.5l0.5 2.3l0.5 7.2l0.5 -4.5l0.5 -1.4l0.5 2.3l0.4 -4.1l0.5 4.1l0.5 1.9l0.5 -7.7l0.5 2.6l0.4 1.5l0.5 -2.3l0.5 -0.4l0.5 2.3l0.5 9.2l0.5 -5.8l0.4 -0.7l0.5 1.8l0.5 -3.8l0.5 -3.2l0.5 5.4l0.5 2.2l0.4 -10.3l0.5 8.1l0.5 2.6l0.5 -4.8l0.5 -0.6l0.4 3.7l0.5 -4.8l0.5 4.2l0.5 1.4l0.5 -3.5l0.5 -1.9l0.4 4.5l0.5 -3.1l0.5 1.4l0.5 -9.4l0.5 11.5l0.4 -6.8l0.5 4.7l0.5 0.3l0.5 -2.8l0.5 -0.5l0.5 -1.2l0.4 3.1l0.5 3.0l0.5 -0.2l0.5 -3.4l0.5 -0.2l0.5 -2.6l0.4 3.2l0.5 -2.1l0.5 -1.4l0.5 4.4l0.5 5.3l0.4 -0.9l0.5 0.8l0.5 -9.8l0.5 7.9l0.5 -6.7l0.5 2.1l0.4 -3.6l0.5 2.3l0.5 3.6l0.5 0.3l0.5 -0.9l0.4 -0.3l0.5 2.3l0.5 -1.6l0.5 -5.3l0.5 10.7l0.5 -6.3l0.4 3.8l0.5 -3.6l0.5 -2.1l0.5 2.9l0.5 -2.7l0.5 7.7l0.4 -8.7l0.5 5.5l0.5 -3.9l0.5 1.4l0.5 9.0l0.4 -6.0l0.5 -3.1l0.5 -4.4l0.5 4.2l0.5 0.0l0.5 5.5l0.4 -9.3l0.5 -1.2l0.5 5.8l0.5 0.8l0.5 4.5l0.5 -8.1l0.4 -5.9l0.5 6.4l0.5 -1.8l0.5 2.4l0.5 4.9l0.4 -7.5l0.5 8.3l0.5 -3.3l0.5 -1.6l0.5 -2.0l0.5 1.5l0.4 0.1l0.5 3.7l0.5 1.7l0.5 -4.4l0.5 2.5l0.4 2.0l0.5 -0.2l0.5 -2.5l0.5 4.4l0.5 -1.7l0.5 0.9l0.4 -5.9l0.5 -0.7l0.5 -5.2l0.5 11.3l0.5 -2.6l0.5 -5.2l0.4 3.6l0.5 0.4l0.5 -6.6l0.5 6.6l0.5 2.6l0.4 0.5l0.5 -5.4l0.5 0.1l0.5 5.4l0.5 -1.2l0.5 -5.0l0.4 -0.1l0.5 3.9l0.5 -4.1l0.5 0.1l0.5 7.7l0.4 -4.8l0.5 -2.4l0.5 3.2l0.5 5.0l0.5 -6.0l0.5 -3.4l0.4 -2.7l0.5 12.2l0.5 -15.6l0.5 12.2l0.5 -6.8l0.5 -0.9l0.4 0.8l0.5 2.6l0.5 4.3l0.5 -5.8l0.5 4.3l0.4 5.8l0.5 -17.3l0.5 6.8l0.5 -3.6l0.5 8.9l0.5 -7.8l0.4 -0.4l0.5 0.1l0.5 5.1l0.5 3.8l0.5 -3.3l0.4 6.5l0.5 -1.6l0.5 -5.8l0.5 3.5l0.5 -2.7l0.5 -0.2l0.4 -6.7l0.5 2.1l0.5 4.3l0.5 -4.1l0.5 6.5l0.5 -1.5l0.4 -4.0l0.5 6.9l0.5 -3.1l0.5 3.4l0.5 -4.7l0.4 -5.0l0.5 7.8l0.5 -3.2l0.5 3.6l0.5 0.8l0.5 0.3l0.4 -8.8l0.5 -2.9l0.5 6.1l0.5 3.8l0.5 -4.6l0.4 3.4l0.5 -3.7l0.5 1.6l0.5 0.0l0.5 -1.0l0.5 3.8l0.4 -0.6l0.5 4.3l0.5 -4.2l0.5 3.2l0.5 -4.2l0.5 2.6l0.4 -3.4l0.5 -1.2l0.5 6.1l0.5 -2.0l0.5 0.4l0.4 -5.5l0.5 -3.1l0.5 2.7l0.5 3.9l0.5 -5.9l0.5 9.7l0.4 -9.8l0.5 6.9l0.5 6.9l0.5 -17.6l0.5 3.5l0.5 8.4l0.4 -3.9l0.5 1.2l0.5 -1.0l0.5 5.1l0.5 -2.6l0.4 -3.8l0.5 0.8l0.5 -3.2l0.5 3.7l0.5 -7.4l0.5 9.9l0.4 -3.2l0.5 7.1l0.5 -2.2l0.5 -8.4l0.5 7.4l0.4 -4.8l0.5 1.9l0.5 3.2l0.5 -2.3l0.5 0.5l0.5 -0.1l0.4 -4.0l0.5 0.3l0.5 4.0l0.5 1.0l0.5 -3.9l0.5 1.3l0.4 -3.7l0.5 -5.3l0.5 5.9l0.5 2.8l0.5 0.4l0.4 2.2l0.5 0.2l0.5 0.3l0.5 -2.0l0.5 0.1l0.5 -3.8l0.4 3.6l0.5 -0.6l0.5 3.3l0.5 -9.3l0.5 3.6l0.4 -4.1l0.5 3.2l0.5 -2.3l0.5 5.6l0.5 -3.1l0.5 -6.5l0.4 12.8l0.5 -7.9l0.5 -1.7l0.5 4.2l0.5 -1.2l0.5 -1.6l0.4 6.3l0.5 -3.6l0.5 4.2l0.5 -0.6l0.5 -0.2l0.4 -1.6l0.5 -1.0l0.5 -1.0l0.5 6.2l0.5 -11.3l0.5 2.7l0.4 1.4l0.5 3.6l0.5 -0.9l0.5 -2.1l0.5 0.4l0.4 6.9l0.5 -8.0l0.5 -7.3l0.5 15.8l0.5 -9.4l0.5 2.0l0.4 1.6l0.5 -5.0l0.5 8.5l0.5 -4.5l0.5 -4.3l0.5 5.5l0.4 0.7l0.5 -1.8l0.5 1.9l0.5 -6.7l0.5 8.2l0.4 -6.0l0.5 7.1l0.5 -6.4l0.5 2.5l0.5 8.3l0.5 -8.7l0.4 3.6l0.5 -2.1l0.5 -6.7l0.5 8.9l0.5 -0.2l0.4 -8.4l0.5 4.4l0.5 -4.8l0.5 4.1l0.5 4.0l0.5 -2.8l0.4 -4.3l0.5 0.9l0.5 3.1l0.5 -0.1l0.5 0.5l0.5 1.5l0.4 -8.4l0.5 6.4l0.5 3.8l0.5 -2.2l0.5 -4.0l0.4 0.2l0.5 2.6l0.5 1.8l0.5 -2.4l0.5 5.7l0.5 -1.3l0.4 -7.0l0.5 4.2l0.5 -2.8l0.5 -2.9l0.5 1.9l0.4 2.1l0.5 -7.1l0.5 4.9l0.5 3.4l0.5 -3.6l0.5 1.0l0.4 4.2l0.5 -3.1l0.5 0.8l0.5 6.0l0.5 -6.0l0.5 0.3l0.4 0.5l0.5 4.0l0.5 -4.3l0.5 -1.1l0.5 -0.4l0.4 4.1l0.5 -5.9l0.5 6.1l0.5 -3.3l0.5 -5.1l0.5 6.6l0.4 -0.6l0.5 -5.3l0.5 4.9l0.5 -0.3l0.5 -1.8l0.5 -2.8l0.4 10.9l0.5 -4.6l0.5 0.6l0.5 0.2l0.5 -0.8l0.4 -0.0l0.5 -3.8l0.5 3.9l0.5 -3.3l0.5 -1.0l0.5 3.8l0.4 -2.9l0.5 -5.0l0.5 4.4l0.5 3.1l0.5 -1.9l0.4 2.9l0.5 -4.0l0.5 -2.0l0.5 5.6l0.5 -2.0l0.5 -4.4l0.4 5.3l0.5 -2.2l0.5 4.0l0.5 -0.7l0.5 -1.0l0.5 -8.8l0.4 8.4l0.5 0.4l0.5 0.1l0.5 -1.3l0.5 -2.6l0.4 1.5l0.5 -6.1l0.5 6.0l0.5 -4.0l0.5 3.8l0.5 -1.1l0.4 6.7l0.5 -4.3l0.5 -0.2l0.5 0.6l0.5 6.2l0.4 -9.8l0.5 4.1l0.5 0.1l0.5 -0.6l0.5 -0.0l0.5 -2.1l0.4 5.4l0.5 -1.1l0.5 -3.9l0.5 0.5l0.5 1.6l0.5 0.7l0.4 0.8l0.5 -2.5l0.5 -4.0l0.5 7.3l0.5 -8.4l0.4 2.2l0.5 4.2l0.5 -4.0l0.5 7.3l0.5 0.9l0.5 -1.5l0.4 -2.8l0.5 -0.3l0.5 0.6l0.5 -2.0l0.5 7.3l0.4 -8.5l0.5 6.2l0.5 -2.5l0.5 -0.8l0.5 2.4l0.5 0.7l0.4 -1.2l0.5 -3.2l0.5 -1.9l0.5 0.1l0.5 5.0l0.5 -0.6l0.4 0.4l0.5 -4.5l0.5 8.1l0.5 -10.6l0.5 5.6l0.4 1.0l0.5 -3.7l0.5 -2.2l0.5 2.2l0.5 -2.3l0.5 3.0l0.4 -3.5l0.5 -0.1l0.5 4.4l0.5 -5.0l0.5 4.1l0.4 0.3l0.5 3.3l0.5 -2.1l0.5 -3.5l0.5 6.8l0.5 -6.3l0.4 1.0l0.5 0.2l0.5 8.1l0.5 -6.9l0.5 -2.4l0.5 4.6l0.4 -2.8l0.5 8.0l0.5 -9.9l0.5 4.4l0.5 -5.0l0.4 8.8l0.5 -8.2l0.5 3.0l0.5 -3.4l0.5 5.7l0.5 -1.0l0.4 -9.3l0.5 10.0l0.5 -0.4l0.5 -1.4l0.5 2.4l0.4 -7.2l0.5 -1.7l0.5 7.9l0.5 3.3l0.5 -9.4l0.5 0.2l0.4 0.9l0.5 -1.0l0.5 6.5l0.5 -2.2l0.5 3.9l0.5 0.1l0.4 -7.7l0.5 5.3l0.5 -9.6l0.5 7.2l0.5 2.3l0.4 -4.6l0.5 -3.3l0.5 4.3l0.5 5.5l0.5 -5.1l0.5 -3.3l0.4 6.1l0.5 0.9l0.5 -5.8l0.5 2.9l0.5 4.0l0.5 -2.3l0.4 1.2l0.5 -3.4l0.5 0.6l0.5 -3.4l0.5 1.5l0.4 7.4l0.5 -6.4l0.5 -1.6l0.5 1.5l0.5 -1.9l0.5 5.1l0.4 1.4l0.5 -6.1l0.5 6.5l0.5 3.5l0.5 -10.3l0.4 5.7l0.5 -1.4l0.5 3.6l0.5 -0.2l0.5 -0.6l0.5 -2.5l0.4 -2.4l0.5 8.7l0.5 -9.9l0.5 6.3l0.5 -0.4l0.5 -5.6l0.4 2.5l0.5 4.7l0.5 -10.9l0.5 8.8l0.5 -3.6l0.4 0.2l0.5 -4.0l0.5 6.1l0.5 -4.7l0.5 5.7l0.5 -6.1l0.4 6.2l0.5 -1.3l0.5 -7.3l0.5 5.1l0.5 0.7l0.4 -6.9l0.5 6.1l0.5 3.9l0.5 -5.0l0.5 6.2l0.5 -7.5l0.4 -0.2l0.5 5.8l0.5 0.2l0.5 -2.6l0.5 0.5l0.5 3.2l0.4 -5.0l0.5 8.5l0.5 -5.2l0.5 -0.1l0.5 -0.4l0.4 -1.8l0.5 5.0l0.5 -5.9l0.5 2.5l0.5 1.5l0.5 2.4l0.4 -0.6l0.5 -5.0l0.5 4.3l0.5 -3.3l0.5 -3.2l0.4 0.1l0.5 -1.7l0.5 6.0l0.5 2.6l0.5 -6.8l0.5 2.3l0.4 -2.6l0.5 3.6l0.5 -3.9l0.5 1.2l0.5 0.4l0.5 0.7l0.4 0.4l0.5 0.5l0.5 0.1l0.5 -2.5l0.5 4.9l0.4 -7.3l0.5 6.0l0.5 -3.6l0.5 3.5l0.5 0.5l0.5 -7.3l0.4 7.6l0.5 3.1l0.5 -1.8l0.5 -1.3l0.5 -8.0l0.4 6.3l0.5 -2.3l0.5 6.2l0.5 -4.4l0.5 -1.0l0.5 -3.6l0.4 8.1l0.5 -4.3l0.5 1.0l0.5 4.3l0.5 -3.2l0.5 0.8l0.4 6.6l0.5 -9.4l0.5 0.1l0.5 3.2l0.5 2.9l0.4 -9.1l0.5 3.9l0.5 -2.4l0.5 -1.3l0.5 6.3l0.5 -4.3l0.4 3.4l0.5 -0.6l0.5 0.1l0.5 -0.3l0.5 -3.6l0.4 3.2l0.5 0.9l0.5 0.4l0.5 -2.0l0.5 4.0l0.5 -1.3l0.4 -1.4l0.5 1.6l0.5 -1.4l0.5 1.6l0.5 -8.5l0.5 2.2l0.4 2.8l0.5 1.7l0.5 -7.3l0.5 6.1l0.5 1.3l0.4 -1.3l0.5 0.0l0.5 -3.6l0.5 4.7l0.5 -6.9l0.5 9.7l0.4 -5.2l0.5 5.6l0.5 -9.2l0.5 7.0l0.5 -0.9l0.5 -3.2l0.4 -1.1l0.5 7.7l0.5 -2.5l0.5 3.4l0.5 -4.9l0.4 0.7l0.5 0.8l0.5 1.1l0.5 -0.9l0.5 1.1l0.5 -4.1l0.4 -3.2l0.5 11.2l0.5 -5.9l0.5 1.0l0.5 -3.0l0.4 4.7l0.5 -2.6l0.5 2.9l0.5 -5.7l0.5 2.0l0.5 0.8l0.4 -1.7l0.5 2.0l0.5 4.2l0.5 -6.9l0.5 1.0l0.5 1.4l0.4 -3.7l0.5 -0.8l0.5 7.5l0.5 -1.0l0.5 -7.5l0.4 0.4l0.5 7.0l0.5 1.4l0.5 -1.7l0.5 -0.5l0.5 3.5l0.4 -5.2l0.5 4.3l0.5 -0.3l0.5 -6.9l0.5 5.2l0.4 -2.0l0.5 -2.2l0.5 -0.6l0.5 3.7l0.5 -1.2l0.5 2.8l0.4 -8.4l0.5 3.6l0.5 5.7l0.5 -3.6l0.5 -2.3l0.5 0.7l0.4 -4.3l0.5 1.4l0.5 6.2l0.5 -1.4l0.5 3.9l0.4 -5.0l0.5 0.3l0.5 -8.3l0.5 8.5l0.5 7.1l0.5 -4.6l0.4 -2.6l0.5 4.5l0.5 -1.3l0.5 -1.6l0.5 -2.3" fill="none" stroke="#1414d8" stroke-width="1.0" stroke-linejoin="bevel"/></g><line x1="242.6" y1="1376.8" x2="242.6" y2="1360.5" stroke="#5a5acc" stroke-width="1.5"/><line x1="242.6" y1="1232.6" x2="242.6" y2="1248.9" stroke="#5a5acc" stroke-width="1.5"/><line x1="339.1" y1="1376.8" x2="339.1" y2="1360.5" stroke="#5a5acc" stroke-width="1.5"/><line x1="339.1" y1="1232.6" x2="339.1" y2="1248.9" stroke="#5a5acc" stroke-width="1.5"/><line x1="435.5" y1="1376.8" x2="435.5" y2="1360.5" stroke="#5a5acc" stroke-width="1.5"/><line x1="435.5" y1="1232.6" x2="435.5" y2="1248.9" stroke="#5a5acc" stroke-width="1.5"/><line x1="531.9" y1="1376.8" x2="531.9" y2="1360.5" stroke="#5a5acc" stroke-width="1.5"/><line x1="531.9" y1="1232.6" x2="531.9" y2="1248.9" stroke="#5a5acc" stroke-width="1.5"/><line x1="628.4" y1="1376.8" x2="628.4" y2="1360.5" stroke="#5a5acc" stroke-width="1.5"/><line x1="628.4" y1="1232.6" x2="628.4" y2="1248.9" stroke="#5a5acc" stroke-width="1.5"/><line x1="146.2" y1="1268.6" x2="162.5" y2="1268.6" stroke="#5a5acc" stroke-width="1.5"/><line x1="724.8" y1="1268.6" x2="708.5" y2="1268.6" stroke="#5a5acc" stroke-width="1.5"/><line x1="146.2" y1="1304.7" x2="162.5" y2="1304.7" stroke="#5a5acc" stroke-width="1.5"/><line x1="724.8" y1="1304.7" x2="708.5" y2="1304.7" stroke="#5a5acc" stroke-width="1.5"/><line x1="146.2" y1="1340.7" x2="162.5" y2="1340.7" stroke="#5a5acc" stroke-width="1.5"/><line x1="724.8" y1="1340.7" x2="708.5" y2="1340.7" stroke="#5a5acc" stroke-width="1.5"/><rect x="146.2" y="1232.6" width="578.6" height="144.2" fill="none" stroke="#0000c8" stroke-width="3.6"/><g clip-path="url(#cR1000)"><line x1="893.6" y1="1318.8" x2="1472.4" y2="1318.8" stroke="#000" stroke-width="2.8"/><path d="M893.6 1297.1l0.5 -0.2l0.5 13.7l0.4 18.6l0.5 5.6l0.5 8.1l0.5 0.7l0.5 6.5l0.5 11.6l0.4 -7.2l0.5 10.4l0.5 -9.1l0.5 24.2l0.5 0.7l0.5 -26.9l0.4 21.2l0.5 -15.3l0.5 -6.5l0.5 -0.2l0.5 -5.4l0.4 -25.8l0.5 36.7l0.5 -42.1l0.5 -19.7l0.5 20.3l0.5 -3.1l0.4 -6.3l0.5 -7.2l0.5 15.3l0.5 -7.9l0.5 0.7l0.5 -4.7l0.4 1.6l0.5 -3.3l0.5 5.4l0.5 -3.0l0.5 3.5l0.4 -0.5l0.5 -3.2l0.5 -0.4l0.5 5.3l0.5 -15.2l0.5 8.9l0.4 6.5l0.5 -13.8l0.5 9.8l0.5 -7.0l0.5 2.6l0.5 -1.6l0.4 0.2l0.5 3.8l0.5 -3.5l0.5 -11.0l0.5 22.9l0.4 -12.7l0.5 -2.1l0.5 7.9l0.5 1.6l0.5 -19.2l0.5 13.6l0.4 -13.3l0.5 8.5l0.5 2.8l0.5 -1.6l0.5 -0.3l0.5 -2.2l0.4 4.9l0.5 2.4l0.5 0.6l0.5 -5.6l0.5 3.6l0.4 10.5l0.5 -1.6l0.5 -4.9l0.5 5.5l0.5 -1.1l0.5 3.4l0.4 -3.5l0.5 -3.4l0.5 -2.9l0.5 5.6l0.5 -11.0l0.5 11.8l0.4 -17.5l0.5 12.1l0.5 2.9l0.5 5.5l0.5 12.8l0.4 -14.3l0.5 -1.7l0.5 -9.3l0.5 18.1l0.5 -17.7l0.5 11.8l0.4 -5.1l0.5 17.8l0.5 -14.4l0.5 2.7l0.5 -5.4l0.5 3.3l0.4 6.8l0.5 -11.2l0.5 1.5l0.5 0.6l0.5 -2.1l0.4 -0.4l0.5 6.1l0.5 7.4l0.5 0.2l0.5 -14.7l0.5 3.6l0.4 3.4l0.5 3.0l0.5 -2.4l0.5 0.1l0.5 2.1l0.5 2.0l0.4 -15.4l0.5 10.6l0.5 4.6l0.5 3.9l0.5 -4.4l0.4 -4.9l0.5 0.0l0.5 3.5l0.5 -0.8l0.5 1.3l0.5 2.9l0.4 -8.2l0.5 3.4l0.5 -7.1l0.5 11.2l0.5 -2.0l0.5 -3.4l0.4 4.0l0.5 4.0l0.5 -1.3l0.5 -3.5l0.5 -0.7l0.4 1.6l0.5 -3.7l0.5 0.2l0.5 2.4l0.5 1.2l0.5 1.0l0.4 -2.6l0.5 -1.1l0.5 3.0l0.5 -1.2l0.5 2.8l0.5 3.8l0.4 -1.3l0.5 -5.9l0.5 1.2l0.5 -3.8l0.5 5.4l0.4 -2.7l0.5 -1.5l0.5 1.3l0.5 5.6l0.5 -1.4l0.5 -1.0l0.4 4.0l0.5 -4.9l0.5 -1.8l0.5 5.3l0.5 -8.4l0.4 7.9l0.5 -0.2l0.5 0.3l0.5 1.7l0.5 -3.8l0.5 1.5l0.4 -5.5l0.5 3.7l0.5 0.4l0.5 2.7l0.5 4.2l0.5 -4.5l0.4 2.8l0.5 -6.1l0.5 3.4l0.5 -5.7l0.5 3.3l0.4 -0.2l0.5 2.1l0.5 0.2l0.5 -1.5l0.5 -0.8l0.5 5.7l0.4 -4.1l0.5 -7.2l0.5 9.4l0.5 0.6l0.5 1.6l0.5 2.6l0.4 -9.0l0.5 4.0l0.5 -0.8l0.5 -5.3l0.5 -2.2l0.4 11.7l0.5 -6.7l0.5 1.5l0.5 0.8l0.5 -0.2l0.5 1.8l0.4 -5.6l0.5 3.4l0.5 1.0l0.5 -3.1l0.5 1.2l0.5 1.6l0.4 0.5l0.5 -4.9l0.5 4.3l0.5 2.1l0.5 2.6l0.4 -1.7l0.5 2.5l0.5 -4.0l0.5 -0.5l0.5 8.0l0.5 -7.1l0.4 -2.2l0.5 1.7l0.5 3.9l0.5 -7.6l0.5 6.8l0.5 1.8l0.4 -0.5l0.5 -3.6l0.5 -3.4l0.5 -0.6l0.5 3.3l0.4 4.8l0.5 -1.8l0.5 0.9l0.5 -2.5l0.5 5.5l0.5 -6.4l0.4 -1.9l0.5 2.8l0.5 -2.1l0.5 4.8l0.5 1.8l0.5 -2.8l0.4 -6.1l0.5 0.4l0.5 5.2l0.5 -5.7l0.5 5.2l0.4 -6.3l0.5 3.6l0.5 3.2l0.5 -4.3l0.5 5.5l0.5 0.5l0.4 1.8l0.5 -5.9l0.5 1.1l0.5 0.1l0.5 1.2l0.5 -6.4l0.4 6.4l0.5 1.1l0.5 -6.8l0.5 -0.6l0.5 3.7l0.4 7.2l0.5 -3.9l0.5 -4.2l0.5 2.1l0.5 -5.3l0.5 10.0l0.4 -7.0l0.5 4.5l0.5 -6.7l0.5 4.8l0.5 -3.8l0.5 5.8l0.4 2.6l0.5 -1.0l0.5 -1.8l0.5 1.5l0.5 -7.7l0.4 -0.5l0.5 3.7l0.5 4.5l0.5 -3.2l0.5 2.0l0.5 -7.4l0.4 4.0l0.5 -0.6l0.5 3.0l0.5 5.6l0.5 -4.3l0.5 1.2l0.4 -5.1l0.5 0.9l0.5 3.1l0.5 -1.4l0.5 -6.7l0.4 8.6l0.5 -0.1l0.5 -2.4l0.5 1.6l0.5 -0.9l0.5 -3.3l0.4 -4.1l0.5 12.1l0.5 -6.1l0.5 -0.2l0.5 0.4l0.5 0.4l0.4 0.5l0.5 -4.6l0.5 5.0l0.5 -1.1l0.5 -0.5l0.4 -0.3l0.5 0.9l0.5 -4.0l0.5 3.5l0.5 -0.7l0.5 0.8l0.4 3.3l0.5 -0.6l0.5 0.7l0.5 -4.2l0.5 3.1l0.5 1.2l0.4 -4.5l0.5 -1.0l0.5 7.9l0.5 -11.9l0.5 5.7l0.4 0.5l0.5 -4.0l0.5 3.4l0.5 2.3l0.5 -9.6l0.5 11.2l0.4 -3.3l0.5 -3.3l0.5 6.6l0.5 -3.3l0.5 -1.7l0.5 -6.9l0.4 11.3l0.5 -2.9l0.5 -2.4l0.5 2.0l0.5 4.4l0.4 -5.6l0.5 1.1l0.5 -1.2l0.5 -2.3l0.5 0.4l0.5 2.0l0.4 0.4l0.5 4.8l0.5 -3.3l0.5 -1.2l0.5 2.1l0.5 -1.7l0.4 3.2l0.5 -8.1l0.5 -2.2l0.5 8.8l0.5 -2.8l0.4 2.2l0.5 -5.1l0.5 2.8l0.5 1.2l0.5 1.1l0.5 -1.2l0.4 3.8l0.5 -5.7l0.5 4.7l0.5 -4.3l0.5 1.4l0.5 -3.3l0.4 3.8l0.5 -3.6l0.5 6.7l0.5 -5.3l0.5 2.9l0.4 -1.5l0.5 0.5l0.5 -3.0l0.5 10.1l0.5 -8.0l0.5 6.2l0.4 -9.3l0.5 10.9l0.5 -3.3l0.5 2.3l0.5 -11.4l0.5 10.0l0.4 -4.8l0.5 2.2l0.5 4.4l0.5 -5.1l0.5 -3.4l0.4 2.9l0.5 -3.9l0.5 4.5l0.5 -1.3l0.5 1.3l0.5 -2.5l0.4 -5.4l0.5 5.3l0.5 0.6l0.5 2.7l0.5 0.5l0.5 -7.6l0.4 8.8l0.5 -0.7l0.5 -2.8l0.5 1.1l0.5 -8.2l0.4 14.8l0.5 -9.4l0.5 -1.2l0.5 6.3l0.5 -1.6l0.5 -3.8l0.4 -4.1l0.5 8.8l0.5 2.2l0.5 -8.8l0.5 -1.9l0.5 6.4l0.4 6.4l0.5 -12.6l0.5 5.7l0.5 -4.6l0.5 4.0l0.4 1.1l0.5 0.3l0.5 -6.7l0.5 0.2l0.5 12.2l0.5 -4.1l0.4 -9.4l0.5 7.4l0.5 3.4l0.5 -4.7l0.5 0.4l0.5 -0.1l0.4 1.3l0.5 -0.6l0.5 0.5l0.5 -2.7l0.5 3.9l0.4 -1.8l0.5 -0.6l0.5 -5.0l0.5 3.2l0.5 1.7l0.5 -2.3l0.4 0.5l0.5 -2.4l0.5 2.0l0.5 -4.4l0.5 1.5l0.4 4.7l0.5 1.3l0.5 -4.5l0.5 1.3l0.5 2.1l0.5 4.7l0.4 1.2l0.5 -7.5l0.5 -1.5l0.5 -0.1l0.5 7.2l0.5 -8.0l0.4 5.3l0.5 -3.1l0.5 -0.2l0.5 4.2l0.5 -0.7l0.4 5.1l0.5 -4.0l0.5 3.0l0.5 -7.7l0.5 1.3l0.5 -3.0l0.4 1.9l0.5 3.4l0.5 -3.4l0.5 2.5l0.5 -3.4l0.5 1.0l0.4 4.5l0.5 -3.5l0.5 -0.2l0.5 1.3l0.5 -4.2l0.4 -2.8l0.5 7.1l0.5 -0.0l0.5 6.5l0.5 -7.3l0.5 1.0l0.4 5.9l0.5 -8.4l0.5 -1.1l0.5 4.6l0.5 -1.3l0.5 2.0l0.4 -5.9l0.5 7.8l0.5 -4.2l0.5 -7.8l0.5 6.5l0.4 -1.4l0.5 2.1l0.5 3.5l0.5 -3.9l0.5 -1.6l0.5 4.9l0.4 -4.7l0.5 -3.1l0.5 0.6l0.5 9.1l0.5 -2.1l0.5 2.2l0.4 -9.3l0.5 1.6l0.5 -0.3l0.5 5.4l0.5 0.9l0.4 -4.2l0.5 -0.1l0.5 3.2l0.5 -3.4l0.5 -1.8l0.5 1.4l0.4 4.4l0.5 3.7l0.5 -6.4l0.5 -1.5l0.5 1.4l0.5 0.6l0.4 0.9l0.5 -4.9l0.5 2.6l0.5 -0.6l0.5 3.8l0.4 -1.3l0.5 -2.7l0.5 4.0l0.5 0.9l0.5 -3.2l0.5 -5.3l0.4 3.4l0.5 -4.3l0.5 5.4l0.5 0.6l0.5 3.7l0.5 -2.8l0.4 -7.0l0.5 3.8l0.5 -1.4l0.5 0.1l0.5 2.4l0.4 0.7l0.5 -1.1l0.5 -2.0l0.5 0.7l0.5 -0.1l0.5 1.2l0.4 3.1l0.5 -1.8l0.5 2.4l0.5 -6.8l0.5 10.7l0.5 -6.5l0.4 -9.0l0.5 9.4l0.5 2.7l0.5 -3.9l0.5 -4.5l0.4 5.0l0.5 -2.7l0.5 1.7l0.5 1.6l0.5 -12.1l0.5 10.6l0.4 2.0l0.5 -0.1l0.5 -3.1l0.5 -0.1l0.5 -1.2l0.5 2.1l0.4 5.4l0.5 -6.8l0.5 2.9l0.5 -0.1l0.5 4.1l0.4 -3.2l0.5 0.5l0.5 -2.4l0.5 4.9l0.5 -5.2l0.5 -0.3l0.4 4.3l0.5 -1.8l0.5 0.8l0.5 -6.1l0.5 11.8l0.5 -7.5l0.4 4.5l0.5 -4.3l0.5 -4.4l0.5 5.0l0.5 -2.6l0.4 3.3l0.5 -9.6l0.5 3.5l0.5 -0.8l0.5 8.4l0.5 -0.8l0.4 -7.5l0.5 4.4l0.5 0.2l0.5 -2.1l0.5 5.4l0.5 -7.0l0.4 2.6l0.5 -1.6l0.5 3.9l0.5 -4.1l0.5 4.1l0.4 -5.7l0.5 -0.6l0.5 0.7l0.5 1.3l0.5 -0.4l0.5 11.4l0.4 -12.2l0.5 3.8l0.5 -1.3l0.5 1.3l0.5 3.7l0.5 -2.9l0.4 -4.2l0.5 -2.6l0.5 7.0l0.5 0.9l0.5 -8.1l0.4 7.9l0.5 -10.1l0.5 6.9l0.5 3.1l0.5 -6.4l0.5 -2.5l0.4 10.7l0.5 -10.3l0.5 6.3l0.5 -6.1l0.5 6.4l0.5 4.1l0.4 -7.2l0.5 -1.5l0.5 -4.1l0.5 1.3l0.5 3.5l0.4 3.2l0.5 0.9l0.5 -0.8l0.5 1.8l0.5 -2.0l0.5 7.8l0.4 -9.4l0.5 0.7l0.5 -8.9l0.5 6.1l0.5 4.3l0.5 -3.7l0.4 6.2l0.5 -2.2l0.5 4.3l0.5 -11.4l0.5 2.9l0.4 6.0l0.5 -3.8l0.5 -3.5l0.5 1.5l0.5 0.3l0.5 4.3l0.4 -0.8l0.5 -2.6l0.5 -2.8l0.5 6.0l0.5 0.9l0.5 -7.8l0.4 7.1l0.5 -6.9l0.5 2.8l0.5 -2.2l0.5 -3.0l0.4 3.6l0.5 -0.3l0.5 5.8l0.5 -0.8l0.5 -4.6l0.5 -3.1l0.4 0.4l0.5 -3.2l0.5 6.9l0.5 0.3l0.5 -2.7l0.5 3.3l0.4 0.3l0.5 3.4l0.5 -7.1l0.5 7.1l0.5 -5.5l0.4 6.6l0.5 -8.6l0.5 7.3l0.5 -6.5l0.5 8.3l0.5 -3.9l0.4 -5.6l0.5 6.8l0.5 -3.0l0.5 1.8l0.5 6.3l0.5 -9.0l0.4 -0.5l0.5 5.3l0.5 -5.8l0.5 4.7l0.5 0.7l0.4 -3.5l0.5 2.3l0.5 -10.2l0.5 13.2l0.5 -7.9l0.5 -0.9l0.4 10.2l0.5 -0.9l0.5 -7.9l0.5 3.6l0.5 -3.0l0.5 -2.6l0.4 5.2l0.5 2.3l0.5 5.7l0.5 -10.1l0.5 3.9l0.4 -4.3l0.5 0.3l0.5 5.5l0.5 -10.7l0.5 2.2l0.5 0.8l0.4 7.0l0.5 -2.7l0.5 0.5l0.5 -0.5l0.5 2.4l0.4 -5.4l0.5 0.7l0.5 -0.5l0.5 3.0l0.5 -6.2l0.5 3.8l0.4 10.0l0.5 -7.2l0.5 -2.0l0.5 -3.5l0.5 4.3l0.5 -0.2l0.4 1.4l0.5 -4.6l0.5 3.8l0.5 0.5l0.5 0.5l0.4 -4.5l0.5 3.8l0.5 3.9l0.5 -8.0l0.5 4.6l0.5 -3.7l0.4 -0.0l0.5 -2.9l0.5 0.5l0.5 5.6l0.5 -1.5l0.5 3.9l0.4 -10.2l0.5 4.2l0.5 -3.3l0.5 5.9l0.5 5.9l0.4 -12.3l0.5 4.9l0.5 -0.2l0.5 0.3l0.5 -2.0l0.5 0.3l0.4 7.3l0.5 -9.2l0.5 5.5l0.5 -0.2l0.5 -7.6l0.5 2.8l0.4 4.3l0.5 5.2l0.5 -7.0l0.5 -1.3l0.5 2.1l0.4 4.0l0.5 -1.6l0.5 1.6l0.5 -5.1l0.5 -2.1l0.5 -0.7l0.4 6.0l0.5 -3.3l0.5 -1.1l0.5 3.6l0.5 -1.3l0.5 -7.8l0.4 6.6l0.5 -2.4l0.5 4.5l0.5 -1.6l0.5 6.0l0.4 -5.8l0.5 -4.2l0.5 -3.2l0.5 3.1l0.5 1.8l0.5 2.1l0.4 2.2l0.5 -1.5l0.5 -2.7l0.5 4.8l0.5 -5.9l0.5 6.6l0.4 2.7l0.5 -2.7l0.5 2.3l0.5 -1.1l0.5 -8.6l0.4 4.6l0.5 -1.5l0.5 -3.2l0.5 -0.4l0.5 6.0l0.5 -6.3l0.4 3.2l0.5 1.3l0.5 -1.5l0.5 6.4l0.5 -2.2l0.5 -2.3l0.4 -2.5l0.5 3.3l0.5 -0.8l0.5 -3.8l0.5 -1.6l0.4 2.2l0.5 -1.7l0.5 5.7l0.5 -0.3l0.5 -2.2l0.5 2.1l0.4 0.7l0.5 -7.4l0.5 6.3l0.5 2.7l0.5 -5.0l0.5 -4.7l0.4 6.0l0.5 -3.9l0.5 5.7l0.5 0.1l0.5 0.7l0.4 -1.9l0.5 -6.8l0.5 10.3l0.5 -9.6l0.5 9.0l0.5 -2.6l0.4 -3.7l0.5 0.7l0.5 1.1l0.5 6.7l0.5 -7.0l0.5 4.8l0.4 -12.4l0.5 9.6l0.5 -1.4l0.5 4.6l0.5 -2.4l0.4 2.8l0.5 -7.8l0.5 4.3l0.5 -2.9l0.5 4.3l0.5 -0.7l0.4 -6.1l0.5 7.7l0.5 2.9l0.5 -7.6l0.5 5.3l0.5 -2.5l0.4 -4.6l0.5 5.9l0.5 -5.8l0.5 5.3l0.5 -7.5l0.4 0.6l0.5 6.2l0.5 -0.9l0.5 2.1l0.5 -3.6l0.5 -3.3l0.4 8.9l0.5 -8.1l0.5 7.7l0.5 -1.6l0.5 3.2l0.5 -13.4l0.4 7.0l0.5 -0.7l0.5 3.2l0.5 -6.0l0.5 10.9l0.4 -7.4l0.5 -7.5l0.5 8.9l0.5 -1.4l0.5 -2.2l0.5 5.1l0.4 -2.9l0.5 -3.3l0.5 2.7l0.5 -0.7l0.5 2.5l0.5 -2.3l0.4 0.9l0.5 -4.8l0.5 2.5l0.5 3.3l0.5 7.6l0.4 -10.9l0.5 -0.2l0.5 5.8l0.5 3.7l0.5 -3.0l0.5 -7.1l0.4 6.8l0.5 -2.1l0.5 -2.3l0.5 -3.5l0.5 4.3l0.5 0.3l0.4 1.5l0.5 -7.5l0.5 1.9l0.5 4.0l0.5 4.5l0.4 -2.1l0.5 -4.8l0.5 4.5l0.5 -5.6l0.5 1.9l0.5 0.2l0.4 -1.3l0.5 0.6l0.5 4.6l0.5 -1.8l0.5 -9.2l0.5 12.2l0.4 -2.5l0.5 -5.3l0.5 4.2l0.5 2.2l0.5 1.7l0.4 -6.4l0.5 -1.6l0.5 -1.4l0.5 4.7l0.5 -3.5l0.5 7.2l0.4 -4.2l0.5 2.9l0.5 -2.9l0.5 -2.0l0.5 -1.1l0.5 7.1l0.4 -7.8" fill="none" stroke="#e4127f" stroke-width="1.0" stroke-linejoin="bevel"/></g><line x1="990.1" y1="1393.0" x2="990.1" y2="1376.7" stroke="#5a5acc" stroke-width="1.5"/><line x1="990.1" y1="1248.3" x2="990.1" y2="1264.6" stroke="#5a5acc" stroke-width="1.5"/><line x1="1086.5" y1="1393.0" x2="1086.5" y2="1376.7" stroke="#5a5acc" stroke-width="1.5"/><line x1="1086.5" y1="1248.3" x2="1086.5" y2="1264.6" stroke="#5a5acc" stroke-width="1.5"/><line x1="1183.0" y1="1393.0" x2="1183.0" y2="1376.7" stroke="#5a5acc" stroke-width="1.5"/><line x1="1183.0" y1="1248.3" x2="1183.0" y2="1264.6" stroke="#5a5acc" stroke-width="1.5"/><line x1="1279.5" y1="1393.0" x2="1279.5" y2="1376.7" stroke="#5a5acc" stroke-width="1.5"/><line x1="1279.5" y1="1248.3" x2="1279.5" y2="1264.6" stroke="#5a5acc" stroke-width="1.5"/><line x1="1375.9" y1="1393.0" x2="1375.9" y2="1376.7" stroke="#5a5acc" stroke-width="1.5"/><line x1="1375.9" y1="1248.3" x2="1375.9" y2="1264.6" stroke="#5a5acc" stroke-width="1.5"/><line x1="893.6" y1="1284.5" x2="909.9" y2="1284.5" stroke="#5a5acc" stroke-width="1.5"/><line x1="1472.4" y1="1284.5" x2="1456.1" y2="1284.5" stroke="#5a5acc" stroke-width="1.5"/><line x1="893.6" y1="1320.7" x2="909.9" y2="1320.7" stroke="#5a5acc" stroke-width="1.5"/><line x1="1472.4" y1="1320.7" x2="1456.1" y2="1320.7" stroke="#5a5acc" stroke-width="1.5"/><line x1="893.6" y1="1356.8" x2="909.9" y2="1356.8" stroke="#5a5acc" stroke-width="1.5"/><line x1="1472.4" y1="1356.8" x2="1456.1" y2="1356.8" stroke="#5a5acc" stroke-width="1.5"/><rect x="893.6" y="1248.3" width="578.8" height="144.7" fill="none" stroke="#0000c8" stroke-width="3.6"/><text x="505.3" y="227.4" font-size="32" fill="#000" stroke="#000" stroke-width="0.4">100 nM</text><text x="505.3" y="254.2" font-size="32" fill="#0000dd" stroke="#0000dd" stroke-width="0.4">200 nM</text><text x="505.3" y="281.0" font-size="32" fill="#005a00" stroke="#005a00" stroke-width="0.4">500 nM</text><text x="505.3" y="307.8" font-size="32" fill="#e8007d" stroke="#e8007d" stroke-width="0.4">1000 nM</text><text transform="translate(149.90 21.60) scale(1.0 1.06) translate(-149.90 -21.60)" x="124.9" y="38.1" font-size="49" fill="#000" stroke="#000" stroke-width="0.4">3</text><text transform="translate(149.90 190.37) scale(1.0 1.06) translate(-149.90 -190.37)" x="83.9" y="206.9" font-size="49" fill="#000" stroke="#000" stroke-width="0.4">2.6</text><text transform="translate(149.90 359.15) scale(1.0 1.06) translate(-149.90 -359.15)" x="83.9" y="375.6" font-size="49" fill="#000" stroke="#000" stroke-width="0.4">2.2</text><text transform="translate(149.90 527.92) scale(0.955 1.06) translate(-149.90 -527.92)" x="83.9" y="544.4" font-size="49" fill="#000" stroke="#000" stroke-width="0.4">1.8</text><text transform="translate(149.90 696.70) scale(0.955 1.06) translate(-149.90 -696.70)" x="82.9" y="713.2" font-size="49" fill="#000" stroke="#000" stroke-width="0.4">1.4</text><text transform="translate(166.50 746.40) scale(1.0 1.06) translate(-166.50 -746.40)" x="153.0" y="762.9" font-size="49" fill="#000" stroke="#000" stroke-width="0.4">0</text><text transform="translate(356.60 746.40) scale(0.92 1.06) translate(-356.60 -746.40)" x="322.6" y="762.9" font-size="49" fill="#000" stroke="#000" stroke-width="0.4">0.1</text><text transform="translate(551.10 746.40) scale(1.0 1.06) translate(-551.10 -746.40)" x="517.1" y="762.9" font-size="49" fill="#000" stroke="#000" stroke-width="0.4">0.2</text><text transform="translate(741.80 746.40) scale(1.0 1.06) translate(-741.80 -746.40)" x="707.8" y="762.9" font-size="49" fill="#000" stroke="#000" stroke-width="0.4">0.3</text><text x="331.4" y="829.8" font-size="52" fill="#000" stroke="#000" stroke-width="0.4">Time (sec)</text><text transform="translate(41.9 568.7) rotate(-90)" font-size="51" fill="#000" stroke="#000" stroke-width="0.4">Fluorescence (V)</text><text x="193.5" y="90.3" font-size="49" fill="#000" stroke="#000" stroke-width="0.4">[A]</text><text transform="translate(947.40 41.90) scale(1.0 1.06) translate(-947.40 -41.90)" x="867.4" y="58.4" font-size="49" fill="#000" stroke="#000" stroke-width="0.4">400</text><text transform="translate(947.40 210.68) scale(1.0 1.06) translate(-947.40 -210.68)" x="867.4" y="227.2" font-size="49" fill="#000" stroke="#000" stroke-width="0.4">300</text><text transform="translate(947.40 379.45) scale(1.0 1.06) translate(-947.40 -379.45)" x="867.4" y="395.9" font-size="49" fill="#000" stroke="#000" stroke-width="0.4">200</text><text transform="translate(947.40 548.23) scale(0.97 1.06) translate(-947.40 -548.23)" x="867.4" y="564.7" font-size="49" fill="#000" stroke="#000" stroke-width="0.4">100</text><text transform="translate(947.40 717.00) scale(1.0 1.06) translate(-947.40 -717.00)" x="922.4" y="733.5" font-size="49" fill="#000" stroke="#000" stroke-width="0.4">0</text><text transform="translate(1055.50 746.30) scale(1.0 1.06) translate(-1055.50 -746.30)" x="1014.5" y="762.8" font-size="49" fill="#000" stroke="#000" stroke-width="0.4">200</text><text transform="translate(1235.60 746.30) scale(1.0 1.06) translate(-1235.60 -746.30)" x="1194.1" y="762.8" font-size="49" fill="#000" stroke="#000" stroke-width="0.4">600</text><text transform="translate(1417.60 746.30) scale(0.977 1.06) translate(-1417.60 -746.30)" x="1362.1" y="762.8" font-size="49" fill="#000" stroke="#000" stroke-width="0.4">1000</text><text x="1035.5" y="837.9" font-size="52" fill="#000" stroke="#000" stroke-width="0.4">APP mRNA (nM)</text><text x="981.2" y="85.4" font-size="49" fill="#000" stroke="#000" stroke-width="0.4">[B]</text><text transform="translate(122.20 968.60) scale(1.0 1.07) translate(-122.20 -968.60)" x="79.2" y="979.6" font-size="32" fill="#000" stroke="#000" stroke-width="0.4">0.2</text><text transform="translate(122.20 1042.00) scale(1.0 1.07) translate(-122.20 -1042.00)" x="106.2" y="1053.0" font-size="32" fill="#000" stroke="#000" stroke-width="0.4">0</text><text transform="translate(122.20 1115.00) scale(1.0 1.07) translate(-122.20 -1115.00)" x="69.2" y="1126.0" font-size="32" fill="#000" stroke="#000" stroke-width="0.4">-0.2</text><text transform="translate(144.80 1140.60) scale(1.0 1.07) translate(-144.80 -1140.60)" x="136.3" y="1151.6" font-size="32" fill="#000" stroke="#000" stroke-width="0.4">0</text><text transform="translate(336.00 1140.60) scale(0.94 1.07) translate(-336.00 -1140.60)" x="314.0" y="1151.6" font-size="32" fill="#000" stroke="#000" stroke-width="0.4">0.1</text><text transform="translate(529.00 1140.60) scale(1.0 1.07) translate(-529.00 -1140.60)" x="507.0" y="1151.6" font-size="32" fill="#000" stroke="#000" stroke-width="0.4">0.2</text><text transform="translate(721.60 1140.60) scale(1.0 1.07) translate(-721.60 -1140.60)" x="699.6" y="1151.6" font-size="32" fill="#000" stroke="#000" stroke-width="0.4">0.3</text><text x="349.2" y="1190.7" font-size="32" fill="#000" stroke="#000" stroke-width="0.4">Time (sec)</text><text x="578.4" y="1012.3" font-size="32" fill="#000" stroke="#000" stroke-width="0.4">100 nM</text><text transform="translate(43.8 1145.2) rotate(-90)" font-size="33" fill="#000" stroke="#000" stroke-width="0.4">Residuals (V)</text><text transform="translate(888.90 968.75) scale(1.0 1.07) translate(-888.90 -968.75)" x="845.9" y="979.8" font-size="32" fill="#000" stroke="#000" stroke-width="0.4">0.2</text><text transform="translate(888.90 1042.00) scale(1.0 1.07) translate(-888.90 -1042.00)" x="872.9" y="1053.0" font-size="32" fill="#000" stroke="#000" stroke-width="0.4">0</text><text transform="translate(888.90 1115.00) scale(1.0 1.07) translate(-888.90 -1115.00)" x="835.9" y="1126.0" font-size="32" fill="#000" stroke="#000" stroke-width="0.4">-0.2</text><text transform="translate(907.30 1140.20) scale(1.0 1.07) translate(-907.30 -1140.20)" x="898.8" y="1151.2" font-size="32" fill="#000" stroke="#000" stroke-width="0.4">0</text><text transform="translate(1099.00 1140.20) scale(0.94 1.07) translate(-1099.00 -1140.20)" x="1077.0" y="1151.2" font-size="32" fill="#000" stroke="#000" stroke-width="0.4">0.1</text><text transform="translate(1293.20 1141.00) scale(1.0 1.07) translate(-1293.20 -1141.00)" x="1271.2" y="1152.0" font-size="32" fill="#000" stroke="#000" stroke-width="0.4">0.2</text><text transform="translate(1485.60 1141.00) scale(1.0 1.07) translate(-1485.60 -1141.00)" x="1463.6" y="1152.0" font-size="32" fill="#000" stroke="#000" stroke-width="0.4">0.3</text><text x="1122.2" y="1188.3" font-size="32" fill="#000" stroke="#000" stroke-width="0.4">Time (sec)</text><text x="1346.8" y="1009.1" font-size="32" fill="#000" stroke="#000" stroke-width="0.4">500 nM</text><text transform="translate(813.2 1145.9) rotate(-90)" font-size="33" fill="#000" stroke="#000" stroke-width="0.4">Residuals (V)</text><text transform="translate(129.70 1222.30) scale(1.0 1.07) translate(-129.70 -1222.30)" x="86.7" y="1233.3" font-size="32" fill="#000" stroke="#000" stroke-width="0.4">0.2</text><text transform="translate(129.70 1295.10) scale(1.0 1.07) translate(-129.70 -1295.10)" x="113.7" y="1306.1" font-size="32" fill="#000" stroke="#000" stroke-width="0.4">0</text><text transform="translate(129.70 1368.10) scale(1.0 1.07) translate(-129.70 -1368.10)" x="76.7" y="1379.1" font-size="32" fill="#000" stroke="#000" stroke-width="0.4">-0.2</text><text transform="translate(151.35 1400.20) scale(1.0 1.07) translate(-151.35 -1400.20)" x="142.8" y="1411.2" font-size="32" fill="#000" stroke="#000" stroke-width="0.4">0</text><text transform="translate(342.80 1400.20) scale(0.94 1.07) translate(-342.80 -1400.20)" x="320.8" y="1411.2" font-size="32" fill="#000" stroke="#000" stroke-width="0.4">0.1</text><text transform="translate(536.90 1400.65) scale(1.0 1.07) translate(-536.90 -1400.65)" x="514.9" y="1411.7" font-size="32" fill="#000" stroke="#000" stroke-width="0.4">0.2</text><text transform="translate(730.10 1400.65) scale(1.0 1.07) translate(-730.10 -1400.65)" x="708.1" y="1411.7" font-size="32" fill="#000" stroke="#000" stroke-width="0.4">0.3</text><text x="360.9" y="1448.5" font-size="32" fill="#000" stroke="#000" stroke-width="0.4">Time (sec)</text><text x="596.2" y="1274.7" font-size="32" fill="#000" stroke="#000" stroke-width="0.4">200 nM</text><text transform="translate(46.9 1402.8) rotate(-90)" font-size="33" fill="#000" stroke="#000" stroke-width="0.4">Residuals (V)</text><text transform="translate(875.80 1255.90) scale(1.0 1.07) translate(-875.80 -1255.90)" x="832.8" y="1266.9" font-size="32" fill="#000" stroke="#000" stroke-width="0.4">0.2</text><text transform="translate(875.80 1329.45) scale(1.0 1.07) translate(-875.80 -1329.45)" x="859.8" y="1340.5" font-size="32" fill="#000" stroke="#000" stroke-width="0.4">0</text><text transform="translate(875.80 1399.75) scale(1.0 1.07) translate(-875.80 -1399.75)" x="822.8" y="1410.8" font-size="32" fill="#000" stroke="#000" stroke-width="0.4">-0.2</text><text transform="translate(883.05 1420.95) scale(1.0 1.07) translate(-883.05 -1420.95)" x="874.5" y="1432.0" font-size="32" fill="#000" stroke="#000" stroke-width="0.4">0</text><text transform="translate(1074.15 1421.00) scale(0.94 1.07) translate(-1074.15 -1421.00)" x="1052.2" y="1432.0" font-size="32" fill="#000" stroke="#000" stroke-width="0.4">0.1</text><text transform="translate(1268.75 1422.30) scale(1.0 1.07) translate(-1268.75 -1422.30)" x="1246.8" y="1433.3" font-size="32" fill="#000" stroke="#000" stroke-width="0.4">0.2</text><text transform="translate(1461.60 1422.30) scale(1.0 1.07) translate(-1461.60 -1422.30)" x="1439.6" y="1433.3" font-size="32" fill="#000" stroke="#000" stroke-width="0.4">0.3</text><text x="1108.5" y="1470.2" font-size="32" fill="#000" stroke="#000" stroke-width="0.4">Time (sec)</text><text x="1331.2" y="1293.2" font-size="32" fill="#000" stroke="#000" stroke-width="0.4">1000 nM</text><text transform="translate(797.5 1426.7) rotate(-90)" font-size="33" fill="#000" stroke="#000" stroke-width="0.4">Residuals (V)</text><text transform="translate(820.1 463.0) rotate(-90)" font-size="52" fill="#000" stroke="#000" stroke-width="0.4"><tspan font-style="italic">k</tspan><tspan font-size="34" dy="25">obs</tspan><tspan dy="-25"> (s</tspan><tspan font-size="34" dy="-25.6">-1</tspan><tspan dy="25.6" dx="3">)</tspan></text></svg></body></html>
